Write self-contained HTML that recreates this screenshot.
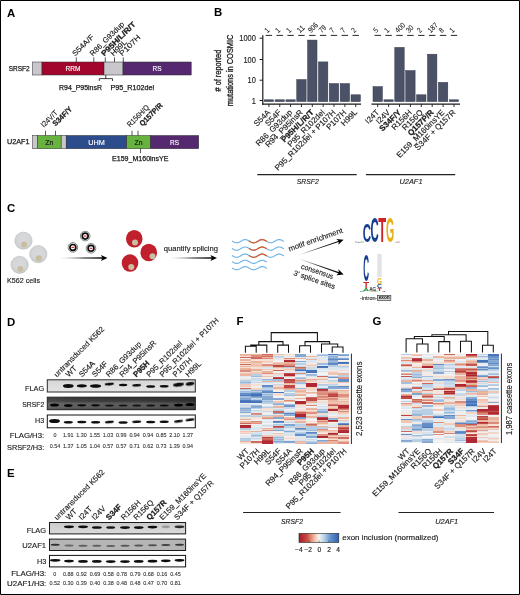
<!DOCTYPE html>
<html><head><meta charset="utf-8"><title>Figure</title>
<style>html,body{margin:0;padding:0;background:#fff;}body{width:520px;height:595px;overflow:hidden;}svg{display:block;will-change:transform;font-family:"Liberation Sans", sans-serif;}</style>
</head><body>
<svg width="520" height="595" viewBox="0 0 520 595">
<defs>
<filter id="bl" x="-30%" y="-80%" width="160%" height="260%"><feGaussianBlur stdDeviation="0.55"/></filter>
<filter id="bl2" x="-30%" y="-80%" width="160%" height="260%"><feGaussianBlur stdDeviation="0.8"/></filter>
<filter id="hb" x="0" y="0" width="100%" height="100%"><feGaussianBlur stdDeviation="0.35 0.6"/></filter>
<linearGradient id="ag" x1="0" y1="0" x2="1" y2="0"><stop offset="0" stop-color="#000" stop-opacity="0"/><stop offset="0.55" stop-color="#000" stop-opacity="0.85"/><stop offset="1" stop-color="#000" stop-opacity="1"/></linearGradient>
<radialGradient id="cg" cx="0.5" cy="0.45" r="0.55"><stop offset="0" stop-color="#d9dadc"/><stop offset="0.7" stop-color="#d3d5d7"/><stop offset="1" stop-color="#c6c8cb"/></radialGradient>
<linearGradient id="cb" x1="0" y1="0" x2="1" y2="0"><stop offset="0" stop-color="#a51a28"/><stop offset="0.2" stop-color="#c94a41"/><stop offset="0.38" stop-color="#f0b9a0"/><stop offset="0.5" stop-color="#f7f4f2"/><stop offset="0.62" stop-color="#bcd6ea"/><stop offset="0.8" stop-color="#5f8fcb"/><stop offset="1" stop-color="#2f5fb0"/></linearGradient>
<linearGradient id="dk" x1="0" y1="0" x2="0" y2="1"><stop offset="0" stop-color="#2f2f2f"/><stop offset="0.32" stop-color="#3c3c3c"/><stop offset="0.5" stop-color="#5c5c5c"/><stop offset="0.8" stop-color="#5a5a5a"/><stop offset="1" stop-color="#444"/></linearGradient>
<linearGradient id="dk2" x1="0" y1="0" x2="1" y2="0"><stop offset="0" stop-color="#fff" stop-opacity="0.08"/><stop offset="0.6" stop-color="#000" stop-opacity="0"/><stop offset="1" stop-color="#000" stop-opacity="0.18"/></linearGradient>
<linearGradient id="lg" x1="0" y1="0" x2="0" y2="1"><stop offset="0" stop-color="#d6d6d6"/><stop offset="1" stop-color="#e4e4e4"/></linearGradient>
<linearGradient id="lg2" x1="0" y1="0" x2="0" y2="1"><stop offset="0" stop-color="#cbcbcb"/><stop offset="1" stop-color="#dadada"/></linearGradient>
</defs>
<rect x="0.00" y="0.00" width="520.00" height="595.00" fill="#ffffff" />
<text x="7.00" y="16.50" font-size="11.4" font-weight="bold" fill="#000" >A</text>
<text x="214.00" y="16.40" font-size="11.4" font-weight="bold" fill="#000" >B</text>
<text x="7.00" y="211.60" font-size="11.4" font-weight="bold" fill="#000" >C</text>
<text x="7.00" y="325.60" font-size="11.4" font-weight="bold" fill="#000" >D</text>
<text x="7.00" y="476.60" font-size="11.4" font-weight="bold" fill="#000" >E</text>
<text x="236.50" y="325.30" font-size="11.4" font-weight="bold" fill="#000" >F</text>
<text x="372.50" y="325.30" font-size="11.4" font-weight="bold" fill="#000" >G</text>
<text x="8.75" y="70.60" font-size="7.3" textLength="20.80" lengthAdjust="spacingAndGlyphs" fill="#1a1a1a" stroke="#1a1a1a" stroke-width="0.25" >SRSF2</text>
<rect x="32.50" y="62.00" width="9.50" height="13.00" fill="#c9c6cc" stroke="#2a2a2a" stroke-width="0.5" />
<rect x="42.00" y="62.00" width="62.00" height="13.00" fill="#a3062c" stroke="#2a2a2a" stroke-width="0.5" />
<rect x="104.00" y="62.00" width="19.00" height="13.00" fill="#c9c6cc" stroke="#2a2a2a" stroke-width="0.5" />
<rect x="123.00" y="62.00" width="68.20" height="13.00" fill="#55286f" stroke="#2a2a2a" stroke-width="0.5" />
<text x="73.00" y="71.10" font-size="7.3" text-anchor="middle" textLength="15.00" lengthAdjust="spacingAndGlyphs" fill="#fff" stroke="#fff" stroke-width="0.14" >RRM</text>
<text x="157.00" y="71.10" font-size="7.3" text-anchor="middle" textLength="9.00" lengthAdjust="spacingAndGlyphs" fill="#fff" stroke="#fff" stroke-width="0.14" >RS</text>
<line x1="76.30" y1="57.30" x2="76.30" y2="62.00" stroke="#111" stroke-width="0.7" />
<line x1="93.80" y1="57.30" x2="93.80" y2="62.00" stroke="#111" stroke-width="0.7" />
<line x1="105.30" y1="57.30" x2="105.30" y2="62.00" stroke="#111" stroke-width="0.7" />
<line x1="114.50" y1="57.30" x2="114.50" y2="62.00" stroke="#111" stroke-width="0.7" />
<line x1="123.30" y1="57.30" x2="123.30" y2="62.00" stroke="#111" stroke-width="0.7" />
<text x="75.30" y="56.60" font-size="7.6" transform="rotate(-45 75.30 56.60)" textLength="27.00" lengthAdjust="spacingAndGlyphs" fill="#1a1a1a" stroke="#1a1a1a" stroke-width="0.14" >S54A/F</text>
<text x="92.80" y="56.60" font-size="7.6" transform="rotate(-45 92.80 56.60)" textLength="45.00" lengthAdjust="spacingAndGlyphs" fill="#1a1a1a" stroke="#1a1a1a" stroke-width="0.14" >R86_G93dup</text>
<text x="104.30" y="56.60" font-size="7.6" font-weight="bold" transform="rotate(-45 104.30 56.60)" textLength="45.00" lengthAdjust="spacingAndGlyphs" fill="#1a1a1a" stroke="#1a1a1a" stroke-width="0.25" >P95H/L/R/T</text>
<text x="113.50" y="56.60" font-size="7.6" transform="rotate(-45 113.50 56.60)" textLength="19.50" lengthAdjust="spacingAndGlyphs" fill="#1a1a1a" stroke="#1a1a1a" stroke-width="0.14" >H99L</text>
<text x="122.30" y="56.60" font-size="7.6" transform="rotate(-45 122.30 56.60)" textLength="26.50" lengthAdjust="spacingAndGlyphs" fill="#1a1a1a" stroke="#1a1a1a" stroke-width="0.14" >P107H</text>
<path d="M99.3 81 V78.6 H112.5 V81" fill="none" stroke="#111" stroke-width="0.8"/>
<line x1="105.80" y1="75.00" x2="105.80" y2="78.60" stroke="#111" stroke-width="0.8" />
<text x="59.00" y="90.30" font-size="7.0" textLength="43.00" lengthAdjust="spacingAndGlyphs" fill="#1a1a1a" stroke="#1a1a1a" stroke-width="0.25" >R94_P95insR</text>
<text x="110.50" y="90.30" font-size="7.0" textLength="43.50" lengthAdjust="spacingAndGlyphs" fill="#1a1a1a" stroke="#1a1a1a" stroke-width="0.25" >P95_R102del</text>
<text x="7.00" y="144.30" font-size="7.3" textLength="22.50" lengthAdjust="spacingAndGlyphs" fill="#1a1a1a" stroke="#1a1a1a" stroke-width="0.25" >U2AF1</text>
<rect x="32.50" y="135.50" width="5.00" height="13.20" fill="#c9c6cc" stroke="#2a2a2a" stroke-width="0.5" />
<rect x="37.50" y="135.50" width="23.70" height="13.20" fill="#68b240" stroke="#2a2a2a" stroke-width="0.5" />
<rect x="61.20" y="135.50" width="5.00" height="13.20" fill="#c9c6cc" stroke="#2a2a2a" stroke-width="0.5" />
<rect x="66.20" y="135.50" width="60.50" height="13.20" fill="#2c4c8b" stroke="#2a2a2a" stroke-width="0.5" />
<rect x="126.70" y="135.50" width="23.80" height="13.20" fill="#68b240" stroke="#2a2a2a" stroke-width="0.5" />
<rect x="150.50" y="135.50" width="48.20" height="13.20" fill="#55286f" stroke="#2a2a2a" stroke-width="0.5" />
<text x="49.30" y="144.60" font-size="7.3" text-anchor="middle" textLength="8.00" lengthAdjust="spacingAndGlyphs" fill="#111" stroke="#111" stroke-width="0.14" >Zn</text>
<text x="96.50" y="144.60" font-size="7.3" text-anchor="middle" textLength="16.50" lengthAdjust="spacingAndGlyphs" fill="#fff" stroke="#fff" stroke-width="0.14" >UHM</text>
<text x="138.50" y="144.60" font-size="7.3" text-anchor="middle" textLength="8.00" lengthAdjust="spacingAndGlyphs" fill="#111" stroke="#111" stroke-width="0.14" >Zn</text>
<text x="174.50" y="144.60" font-size="7.3" text-anchor="middle" textLength="9.00" lengthAdjust="spacingAndGlyphs" fill="#fff" stroke="#fff" stroke-width="0.14" >RS</text>
<line x1="45.50" y1="130.80" x2="45.50" y2="135.50" stroke="#111" stroke-width="0.7" />
<line x1="55.50" y1="130.80" x2="55.50" y2="135.50" stroke="#111" stroke-width="0.7" />
<line x1="132.00" y1="130.80" x2="132.00" y2="135.50" stroke="#111" stroke-width="0.7" />
<line x1="138.00" y1="130.80" x2="138.00" y2="135.50" stroke="#111" stroke-width="0.7" />
<line x1="140.50" y1="148.70" x2="140.50" y2="153.20" stroke="#111" stroke-width="0.7" />
<text x="43.80" y="127.80" font-size="7.6" transform="rotate(-45 43.80 127.80)" textLength="20.60" lengthAdjust="spacingAndGlyphs" fill="#1a1a1a" stroke="#1a1a1a" stroke-width="0.14" >I24V/T</text>
<text x="55.60" y="126.60" font-size="7.6" font-weight="bold" transform="rotate(-45 55.60 126.60)" textLength="24.00" lengthAdjust="spacingAndGlyphs" fill="#1a1a1a" stroke="#1a1a1a" stroke-width="0.25" >S34F/Y</text>
<text x="130.00" y="127.60" font-size="7.6" transform="rotate(-45 130.00 127.60)" textLength="27.80" lengthAdjust="spacingAndGlyphs" fill="#1a1a1a" stroke="#1a1a1a" stroke-width="0.14" >R156H/Q</text>
<text x="142.50" y="126.60" font-size="7.6" font-weight="bold" transform="rotate(-45 142.50 126.60)" textLength="29.20" lengthAdjust="spacingAndGlyphs" fill="#1a1a1a" stroke="#1a1a1a" stroke-width="0.25" >Q157P/R</text>
<text x="112.00" y="161.30" font-size="7.0" textLength="56.50" lengthAdjust="spacingAndGlyphs" fill="#1a1a1a" stroke="#1a1a1a" stroke-width="0.25" >E159_M160insYE</text>
<line x1="262.80" y1="35.30" x2="262.80" y2="104.70" stroke="#1a1a1a" stroke-width="1.2" />
<line x1="262.20" y1="104.10" x2="361.00" y2="104.10" stroke="#1a1a1a" stroke-width="1.1" />
<line x1="371.50" y1="104.10" x2="460.00" y2="104.10" stroke="#1a1a1a" stroke-width="1.1" />
<line x1="259.60" y1="38.20" x2="262.60" y2="38.20" stroke="#1a1a1a" stroke-width="1.0" />
<text x="255.90" y="41.25" font-size="8.4" text-anchor="end" textLength="16.60" lengthAdjust="spacingAndGlyphs" fill="#1a1a1a" stroke="#1a1a1a" stroke-width="0.14" >1000</text>
<line x1="259.60" y1="59.50" x2="262.60" y2="59.50" stroke="#1a1a1a" stroke-width="1.0" />
<text x="255.90" y="62.55" font-size="8.4" text-anchor="end" textLength="12.45" lengthAdjust="spacingAndGlyphs" fill="#1a1a1a" stroke="#1a1a1a" stroke-width="0.14" >100</text>
<line x1="259.60" y1="80.20" x2="262.60" y2="80.20" stroke="#1a1a1a" stroke-width="1.0" />
<text x="255.90" y="83.25" font-size="8.4" text-anchor="end" textLength="8.30" lengthAdjust="spacingAndGlyphs" fill="#1a1a1a" stroke="#1a1a1a" stroke-width="0.14" >10</text>
<line x1="259.60" y1="100.50" x2="262.60" y2="100.50" stroke="#1a1a1a" stroke-width="1.0" />
<text x="255.90" y="103.55" font-size="8.4" text-anchor="end" textLength="4.15" lengthAdjust="spacingAndGlyphs" fill="#1a1a1a" stroke="#1a1a1a" stroke-width="0.14" >1</text>
<text x="221.40" y="70.60" font-size="8.6" text-anchor="middle" transform="rotate(-90 221.40 70.60)" textLength="41.70" lengthAdjust="spacingAndGlyphs" fill="#1a1a1a" stroke="#1a1a1a" stroke-width="0.3" ># of reported</text>
<text x="232.60" y="70.40" font-size="8.6" text-anchor="middle" transform="rotate(-90 232.60 70.40)" textLength="71.60" lengthAdjust="spacingAndGlyphs" fill="#1a1a1a" stroke="#1a1a1a" stroke-width="0.3" >mutations in COSMIC</text>
<rect x="264.20" y="99.80" width="9.40" height="1.80" fill="#4b5166" stroke="#343848" stroke-width="0.5" />
<line x1="268.90" y1="104.10" x2="268.90" y2="107.00" stroke="#1a1a1a" stroke-width="0.9" />
<line x1="265.70" y1="35.40" x2="272.10" y2="35.40" stroke="#1a1a1a" stroke-width="0.95" />
<text x="267.50" y="33.30" font-size="7.6" transform="rotate(-45 267.50 33.30)" textLength="3.60" lengthAdjust="spacingAndGlyphs" fill="#1a1a1a" stroke="#1a1a1a" stroke-width="0.08" >1</text>
<text x="270.90" y="112.90" font-size="8" text-anchor="end" transform="rotate(-45 270.90 112.90)" fill="#1a1a1a" stroke="#1a1a1a" stroke-width="0.14" >S54A</text>
<rect x="275.05" y="99.80" width="9.40" height="1.80" fill="#4b5166" stroke="#343848" stroke-width="0.5" />
<line x1="279.75" y1="104.10" x2="279.75" y2="107.00" stroke="#1a1a1a" stroke-width="0.9" />
<line x1="276.55" y1="35.40" x2="282.95" y2="35.40" stroke="#1a1a1a" stroke-width="0.95" />
<text x="278.35" y="33.30" font-size="7.6" transform="rotate(-45 278.35 33.30)" textLength="3.60" lengthAdjust="spacingAndGlyphs" fill="#1a1a1a" stroke="#1a1a1a" stroke-width="0.08" >1</text>
<text x="281.75" y="112.90" font-size="8" text-anchor="end" transform="rotate(-45 281.75 112.90)" fill="#1a1a1a" stroke="#1a1a1a" stroke-width="0.14" >S54F</text>
<rect x="285.90" y="99.80" width="9.40" height="1.80" fill="#4b5166" stroke="#343848" stroke-width="0.5" />
<line x1="290.60" y1="104.10" x2="290.60" y2="107.00" stroke="#1a1a1a" stroke-width="0.9" />
<line x1="287.40" y1="35.40" x2="293.80" y2="35.40" stroke="#1a1a1a" stroke-width="0.95" />
<text x="289.20" y="33.30" font-size="7.6" transform="rotate(-45 289.20 33.30)" textLength="3.60" lengthAdjust="spacingAndGlyphs" fill="#1a1a1a" stroke="#1a1a1a" stroke-width="0.08" >1</text>
<text x="292.60" y="112.90" font-size="8" text-anchor="end" transform="rotate(-45 292.60 112.90)" fill="#1a1a1a" stroke="#1a1a1a" stroke-width="0.14" >R86_G93dup</text>
<rect x="296.75" y="79.55" width="9.40" height="22.05" fill="#4b5166" stroke="#343848" stroke-width="0.5" />
<line x1="301.45" y1="104.10" x2="301.45" y2="107.00" stroke="#1a1a1a" stroke-width="0.9" />
<line x1="298.25" y1="35.40" x2="304.65" y2="35.40" stroke="#1a1a1a" stroke-width="0.95" />
<text x="300.05" y="33.30" font-size="7.6" transform="rotate(-45 300.05 33.30)" textLength="7.20" lengthAdjust="spacingAndGlyphs" fill="#1a1a1a" stroke="#1a1a1a" stroke-width="0.08" >11</text>
<text x="303.45" y="112.90" font-size="8" text-anchor="end" transform="rotate(-45 303.45 112.90)" fill="#1a1a1a" stroke="#1a1a1a" stroke-width="0.14" >R94_P95insR</text>
<rect x="307.60" y="40.08" width="9.40" height="61.52" fill="#4b5166" stroke="#343848" stroke-width="0.5" />
<line x1="312.30" y1="104.10" x2="312.30" y2="107.00" stroke="#1a1a1a" stroke-width="0.9" />
<line x1="309.10" y1="35.40" x2="315.50" y2="35.40" stroke="#1a1a1a" stroke-width="0.95" />
<text x="310.90" y="33.30" font-size="7.6" transform="rotate(-45 310.90 33.30)" textLength="10.80" lengthAdjust="spacingAndGlyphs" fill="#1a1a1a" stroke="#1a1a1a" stroke-width="0.08" >906</text>
<text x="314.30" y="112.90" font-size="8" text-anchor="end" font-weight="bold" transform="rotate(-45 314.30 112.90)" fill="#1a1a1a" stroke="#1a1a1a" stroke-width="0.25" >P95H/L/R/T</text>
<rect x="318.45" y="61.91" width="9.40" height="39.69" fill="#4b5166" stroke="#343848" stroke-width="0.5" />
<line x1="323.15" y1="104.10" x2="323.15" y2="107.00" stroke="#1a1a1a" stroke-width="0.9" />
<line x1="319.95" y1="35.40" x2="326.35" y2="35.40" stroke="#1a1a1a" stroke-width="0.95" />
<text x="321.75" y="33.30" font-size="7.6" transform="rotate(-45 321.75 33.30)" textLength="7.20" lengthAdjust="spacingAndGlyphs" fill="#1a1a1a" stroke="#1a1a1a" stroke-width="0.08" >79</text>
<text x="325.15" y="112.90" font-size="8" text-anchor="end" transform="rotate(-45 325.15 112.90)" fill="#1a1a1a" stroke="#1a1a1a" stroke-width="0.14" >P95_R102del</text>
<rect x="329.30" y="83.59" width="9.40" height="18.01" fill="#4b5166" stroke="#343848" stroke-width="0.5" />
<line x1="334.00" y1="104.10" x2="334.00" y2="107.00" stroke="#1a1a1a" stroke-width="0.9" />
<line x1="330.80" y1="35.40" x2="337.20" y2="35.40" stroke="#1a1a1a" stroke-width="0.95" />
<text x="332.60" y="33.30" font-size="7.6" transform="rotate(-45 332.60 33.30)" textLength="3.60" lengthAdjust="spacingAndGlyphs" fill="#1a1a1a" stroke="#1a1a1a" stroke-width="0.08" >7</text>
<text x="336.00" y="112.90" font-size="8" text-anchor="end" transform="rotate(-45 336.00 112.90)" fill="#1a1a1a" stroke="#1a1a1a" stroke-width="0.14" >P95_R102del + P107H</text>
<rect x="340.15" y="83.59" width="9.40" height="18.01" fill="#4b5166" stroke="#343848" stroke-width="0.5" />
<line x1="344.85" y1="104.10" x2="344.85" y2="107.00" stroke="#1a1a1a" stroke-width="0.9" />
<line x1="341.65" y1="35.40" x2="348.05" y2="35.40" stroke="#1a1a1a" stroke-width="0.95" />
<text x="343.45" y="33.30" font-size="7.6" transform="rotate(-45 343.45 33.30)" textLength="3.60" lengthAdjust="spacingAndGlyphs" fill="#1a1a1a" stroke="#1a1a1a" stroke-width="0.08" >7</text>
<text x="346.85" y="112.90" font-size="8" text-anchor="end" transform="rotate(-45 346.85 112.90)" fill="#1a1a1a" stroke="#1a1a1a" stroke-width="0.14" >P107H</text>
<rect x="351.00" y="94.80" width="9.40" height="6.80" fill="#4b5166" stroke="#343848" stroke-width="0.5" />
<line x1="355.70" y1="104.10" x2="355.70" y2="107.00" stroke="#1a1a1a" stroke-width="0.9" />
<line x1="352.50" y1="35.40" x2="358.90" y2="35.40" stroke="#1a1a1a" stroke-width="0.95" />
<text x="354.30" y="33.30" font-size="7.6" transform="rotate(-45 354.30 33.30)" textLength="3.60" lengthAdjust="spacingAndGlyphs" fill="#1a1a1a" stroke="#1a1a1a" stroke-width="0.08" >2</text>
<text x="357.70" y="112.90" font-size="8" text-anchor="end" transform="rotate(-45 357.70 112.90)" fill="#1a1a1a" stroke="#1a1a1a" stroke-width="0.14" >H99L</text>
<rect x="373.00" y="86.60" width="9.40" height="15.00" fill="#4b5166" stroke="#343848" stroke-width="0.5" />
<line x1="377.70" y1="104.10" x2="377.70" y2="107.00" stroke="#1a1a1a" stroke-width="0.9" />
<line x1="374.50" y1="35.40" x2="380.90" y2="35.40" stroke="#1a1a1a" stroke-width="0.95" />
<text x="376.30" y="33.30" font-size="7.6" transform="rotate(-45 376.30 33.30)" textLength="3.60" lengthAdjust="spacingAndGlyphs" fill="#1a1a1a" stroke="#1a1a1a" stroke-width="0.08" >5</text>
<text x="379.70" y="112.90" font-size="8" text-anchor="end" transform="rotate(-45 379.70 112.90)" fill="#1a1a1a" stroke="#1a1a1a" stroke-width="0.14" >I24T</text>
<rect x="383.90" y="99.80" width="9.40" height="1.80" fill="#4b5166" stroke="#343848" stroke-width="0.5" />
<line x1="388.60" y1="104.10" x2="388.60" y2="107.00" stroke="#1a1a1a" stroke-width="0.9" />
<line x1="385.40" y1="35.40" x2="391.80" y2="35.40" stroke="#1a1a1a" stroke-width="0.95" />
<text x="387.20" y="33.30" font-size="7.6" transform="rotate(-45 387.20 33.30)" textLength="3.60" lengthAdjust="spacingAndGlyphs" fill="#1a1a1a" stroke="#1a1a1a" stroke-width="0.08" >1</text>
<text x="390.60" y="112.90" font-size="8" text-anchor="end" transform="rotate(-45 390.60 112.90)" fill="#1a1a1a" stroke="#1a1a1a" stroke-width="0.14" >I24V</text>
<rect x="394.80" y="47.40" width="9.40" height="54.20" fill="#4b5166" stroke="#343848" stroke-width="0.5" />
<line x1="399.50" y1="104.10" x2="399.50" y2="107.00" stroke="#1a1a1a" stroke-width="0.9" />
<line x1="396.30" y1="35.40" x2="402.70" y2="35.40" stroke="#1a1a1a" stroke-width="0.95" />
<text x="398.10" y="33.30" font-size="7.6" transform="rotate(-45 398.10 33.30)" textLength="10.80" lengthAdjust="spacingAndGlyphs" fill="#1a1a1a" stroke="#1a1a1a" stroke-width="0.08" >400</text>
<text x="401.50" y="112.90" font-size="8" text-anchor="end" font-weight="bold" transform="rotate(-45 401.50 112.90)" fill="#1a1a1a" stroke="#1a1a1a" stroke-width="0.25" >S34F/Y</text>
<rect x="405.70" y="70.57" width="9.40" height="31.03" fill="#4b5166" stroke="#343848" stroke-width="0.5" />
<line x1="410.40" y1="104.10" x2="410.40" y2="107.00" stroke="#1a1a1a" stroke-width="0.9" />
<line x1="407.20" y1="35.40" x2="413.60" y2="35.40" stroke="#1a1a1a" stroke-width="0.95" />
<text x="409.00" y="33.30" font-size="7.6" transform="rotate(-45 409.00 33.30)" textLength="7.20" lengthAdjust="spacingAndGlyphs" fill="#1a1a1a" stroke="#1a1a1a" stroke-width="0.08" >30</text>
<text x="412.40" y="112.90" font-size="8" text-anchor="end" transform="rotate(-45 412.40 112.90)" fill="#1a1a1a" stroke="#1a1a1a" stroke-width="0.14" >R156H</text>
<rect x="416.60" y="94.80" width="9.40" height="6.80" fill="#4b5166" stroke="#343848" stroke-width="0.5" />
<line x1="421.30" y1="104.10" x2="421.30" y2="107.00" stroke="#1a1a1a" stroke-width="0.9" />
<line x1="418.10" y1="35.40" x2="424.50" y2="35.40" stroke="#1a1a1a" stroke-width="0.95" />
<text x="419.90" y="33.30" font-size="7.6" transform="rotate(-45 419.90 33.30)" textLength="3.60" lengthAdjust="spacingAndGlyphs" fill="#1a1a1a" stroke="#1a1a1a" stroke-width="0.08" >2</text>
<text x="423.30" y="112.90" font-size="8" text-anchor="end" transform="rotate(-45 423.30 112.90)" fill="#1a1a1a" stroke="#1a1a1a" stroke-width="0.14" >R156Q</text>
<rect x="427.50" y="54.20" width="9.40" height="47.40" fill="#4b5166" stroke="#343848" stroke-width="0.5" />
<line x1="432.20" y1="104.10" x2="432.20" y2="107.00" stroke="#1a1a1a" stroke-width="0.9" />
<line x1="429.00" y1="35.40" x2="435.40" y2="35.40" stroke="#1a1a1a" stroke-width="0.95" />
<text x="430.80" y="33.30" font-size="7.6" transform="rotate(-45 430.80 33.30)" textLength="10.80" lengthAdjust="spacingAndGlyphs" fill="#1a1a1a" stroke="#1a1a1a" stroke-width="0.08" >187</text>
<text x="434.20" y="112.90" font-size="8" text-anchor="end" font-weight="bold" transform="rotate(-45 434.20 112.90)" fill="#1a1a1a" stroke="#1a1a1a" stroke-width="0.25" >Q157P/R</text>
<rect x="438.40" y="82.40" width="9.40" height="19.20" fill="#4b5166" stroke="#343848" stroke-width="0.5" />
<line x1="443.10" y1="104.10" x2="443.10" y2="107.00" stroke="#1a1a1a" stroke-width="0.9" />
<line x1="439.90" y1="35.40" x2="446.30" y2="35.40" stroke="#1a1a1a" stroke-width="0.95" />
<text x="441.70" y="33.30" font-size="7.6" transform="rotate(-45 441.70 33.30)" textLength="3.60" lengthAdjust="spacingAndGlyphs" fill="#1a1a1a" stroke="#1a1a1a" stroke-width="0.08" >8</text>
<text x="445.10" y="112.90" font-size="8" text-anchor="end" transform="rotate(-45 445.10 112.90)" fill="#1a1a1a" stroke="#1a1a1a" stroke-width="0.14" >E159_M160insYE</text>
<rect x="449.30" y="99.80" width="9.40" height="1.80" fill="#4b5166" stroke="#343848" stroke-width="0.5" />
<line x1="454.00" y1="104.10" x2="454.00" y2="107.00" stroke="#1a1a1a" stroke-width="0.9" />
<line x1="450.80" y1="35.40" x2="457.20" y2="35.40" stroke="#1a1a1a" stroke-width="0.95" />
<text x="452.60" y="33.30" font-size="7.6" transform="rotate(-45 452.60 33.30)" textLength="3.60" lengthAdjust="spacingAndGlyphs" fill="#1a1a1a" stroke="#1a1a1a" stroke-width="0.08" >1</text>
<text x="456.00" y="112.90" font-size="8" text-anchor="end" transform="rotate(-45 456.00 112.90)" fill="#1a1a1a" stroke="#1a1a1a" stroke-width="0.14" >S34F + Q157R</text>
<line x1="257.30" y1="174.60" x2="356.70" y2="174.60" stroke="#222" stroke-width="1.1" />
<line x1="365.90" y1="174.60" x2="455.20" y2="174.60" stroke="#222" stroke-width="1.1" />
<text x="307.80" y="184.30" font-size="7.6" text-anchor="middle" font-style="italic" textLength="22.00" lengthAdjust="spacingAndGlyphs" fill="#1a1a1a" stroke="#1a1a1a" stroke-width="0.14" >SRSF2</text>
<text x="411.00" y="184.30" font-size="7.6" text-anchor="middle" font-style="italic" textLength="23.00" lengthAdjust="spacingAndGlyphs" fill="#1a1a1a" stroke="#1a1a1a" stroke-width="0.14" >U2AF1</text>
<ellipse cx="23.45" cy="240.7" rx="8.7" ry="8.6" fill="url(#cg)" stroke="#b9bbbe" stroke-width="0.5"/>
<circle cx="24.1" cy="244.4" r="3" fill="#c9bda2"/>
<ellipse cx="38.3" cy="254.1" rx="8.7" ry="8.6" fill="url(#cg)" stroke="#b9bbbe" stroke-width="0.5"/>
<circle cx="38.8" cy="258.3" r="3" fill="#c9bda2"/>
<ellipse cx="19.6" cy="264.8" rx="8.7" ry="8.6" fill="url(#cg)" stroke="#b9bbbe" stroke-width="0.5"/>
<circle cx="20.3" cy="268.9" r="3" fill="#c9bda2"/>
<text x="7.00" y="282.60" font-size="7.2" textLength="33.00" lengthAdjust="spacingAndGlyphs" fill="#1a1a1a" stroke="#1a1a1a" stroke-width="0.14" >K562 cells</text>
<circle cx="85.2" cy="236.1" r="4.8" fill="#fff" stroke="#5a5a5a" stroke-width="0.75"/>
<circle cx="85.2" cy="236.1" r="2.95" fill="#fff" stroke="#0a0a0a" stroke-width="1.65"/>
<rect x="83.8" y="235.54999999999998" width="2.8" height="1.1" fill="#e0202a"/>
<circle cx="72.9" cy="247.4" r="4.8" fill="#fff" stroke="#5a5a5a" stroke-width="0.75"/>
<circle cx="72.9" cy="247.4" r="2.95" fill="#fff" stroke="#0a0a0a" stroke-width="1.65"/>
<rect x="71.5" y="246.85" width="2.8" height="1.1" fill="#e0202a"/>
<circle cx="91.0" cy="248.3" r="4.8" fill="#fff" stroke="#5a5a5a" stroke-width="0.75"/>
<circle cx="91.0" cy="248.3" r="2.95" fill="#fff" stroke="#0a0a0a" stroke-width="1.65"/>
<rect x="89.6" y="247.75" width="2.8" height="1.1" fill="#e0202a"/>
<g transform="translate(60.00 258.00) rotate(0.00)">
<path d="M0 -0.2 L43.50 -0.65 V0.65 L0 0.2 Z" fill="url(#ag)"/>
<path d="M47.50 0 L40.90 -3.1 L42.50 0 L40.90 3.1 Z" fill="#000"/>
</g>
<ellipse cx="134.25" cy="238.75" rx="8.3" ry="8.8" fill="#c0202b"/>
<circle cx="135" cy="242.5" r="3" fill="#c9bda2"/>
<ellipse cx="148.75" cy="252.5" rx="8.3" ry="8.8" fill="#c0202b"/>
<circle cx="152.5" cy="256.25" r="3" fill="#c9bda2"/>
<ellipse cx="130" cy="263" rx="8.3" ry="8.8" fill="#c0202b"/>
<circle cx="131.25" cy="267" r="3" fill="#c9bda2"/>
<text x="163.75" y="250.60" font-size="7.4" textLength="54.30" lengthAdjust="spacingAndGlyphs" fill="#1a1a1a" stroke="#1a1a1a" stroke-width="0.14" >quantify splicing</text>
<g transform="translate(170.00 258.00) rotate(0.00)">
<path d="M0 -0.2 L43.00 -0.65 V0.65 L0 0.2 Z" fill="url(#ag)"/>
<path d="M47.00 0 L40.40 -3.1 L42.00 0 L40.40 3.1 Z" fill="#000"/>
</g>
<path d="M232.40 241.20 L232.90 241.49 L233.40 241.78 L233.90 242.04 L234.40 242.28 L234.90 242.48 L235.40 242.63 L235.90 242.74 L236.40 242.79 L236.90 242.79 L237.40 242.74 L237.90 242.63 L238.40 242.48 L238.90 242.28 L239.40 242.04 L239.90 241.78 L240.40 241.49 L240.90 241.20 L241.40 240.91 L241.90 240.62 L242.40 240.36 L242.90 240.12 L243.40 239.92 L243.90 239.77 L244.40 239.66 L244.90 239.61 L245.40 239.61 L245.90 239.66 L246.40 239.77 L246.90 239.92 L247.40 240.12 L247.90 240.36 L248.40 240.62 L248.90 240.91 L249.40 241.20 L249.90 241.49 L250.40 241.78 L250.90 242.04 L251.40 242.28 L251.90 242.48 L252.40 242.63 L252.90 242.74 L253.40 242.79 L253.90 242.79 L254.40 242.74 L254.90 242.63 L255.40 242.48 L255.90 242.28 L256.40 242.04 L256.90 241.78 L257.40 241.49 L257.90 241.20 L258.40 240.91 L258.90 240.62 L259.40 240.36 L259.90 240.12 L260.40 239.92 L260.90 239.77 L261.40 239.66 L261.90 239.61 L262.40 239.61 L262.90 239.66 L263.40 239.77 L263.90 239.92 L264.40 240.12 L264.90 240.36 L265.40 240.62 L265.90 240.91 L266.40 241.20 L266.90 241.49 L267.40 241.78 L267.90 242.04 L268.40 242.28 L268.90 242.48 L269.40 242.63 L269.90 242.74 L270.40 242.79 L270.90 242.79 L271.40 242.74 L271.90 242.63 L272.40 242.48 L272.90 242.28 L273.40 242.04 L273.90 241.78 L274.40 241.49 L274.90 241.20 L275.40 240.91 L275.90 240.62 L276.40 240.36 L276.90 240.12 L277.40 239.92 L277.90 239.77 L278.40 239.66 L278.90 239.61 L279.40 239.61 L279.90 239.66 L280.40 239.77 L280.90 239.92 L281.40 240.12 L281.90 240.36 L282.40 240.62 L282.90 240.91 L283.40 241.20" fill="none" stroke="#6ab2e8" stroke-width="1.1" stroke-linecap="round"/>
<path d="M249.30 241.14 L249.80 241.44 L250.30 241.72 L250.80 241.99 L251.30 242.23 L251.80 242.44 L252.30 242.60 L252.80 242.72 L253.30 242.79 L253.80 242.80 L254.30 242.75 L254.80 242.66 L255.30 242.51 L255.80 242.32 L256.30 242.09 L256.80 241.83 L257.30 241.55 L257.80 241.26 L258.30 240.96 L258.80 240.68 L259.30 240.41 L259.80 240.17 L260.30 239.96 L260.80 239.80 L261.30 239.68 L261.80 239.61 L262.30 239.60 L262.80 239.65 L263.30 239.74 L263.80 239.89 L264.30 240.08 L264.80 240.31 L265.30 240.57 L265.80 240.85 L266.30 241.14" fill="none" stroke="#de5a2c" stroke-width="1.25" stroke-linecap="round"/>
<path d="M232.40 248.60 L232.90 248.89 L233.40 249.18 L233.90 249.44 L234.40 249.68 L234.90 249.88 L235.40 250.03 L235.90 250.14 L236.40 250.19 L236.90 250.19 L237.40 250.14 L237.90 250.03 L238.40 249.88 L238.90 249.68 L239.40 249.44 L239.90 249.18 L240.40 248.89 L240.90 248.60 L241.40 248.31 L241.90 248.02 L242.40 247.76 L242.90 247.52 L243.40 247.32 L243.90 247.17 L244.40 247.06 L244.90 247.01 L245.40 247.01 L245.90 247.06 L246.40 247.17 L246.90 247.32 L247.40 247.52 L247.90 247.76 L248.40 248.02 L248.90 248.31 L249.40 248.60 L249.90 248.89 L250.40 249.18 L250.90 249.44 L251.40 249.68 L251.90 249.88 L252.40 250.03 L252.90 250.14 L253.40 250.19 L253.90 250.19 L254.40 250.14 L254.90 250.03 L255.40 249.88 L255.90 249.68 L256.40 249.44 L256.90 249.18 L257.40 248.89 L257.90 248.60 L258.40 248.31 L258.90 248.02 L259.40 247.76 L259.90 247.52 L260.40 247.32 L260.90 247.17 L261.40 247.06 L261.90 247.01 L262.40 247.01 L262.90 247.06 L263.40 247.17 L263.90 247.32 L264.40 247.52 L264.90 247.76 L265.40 248.02 L265.90 248.31 L266.40 248.60 L266.90 248.89 L267.40 249.18 L267.90 249.44 L268.40 249.68 L268.90 249.88 L269.40 250.03 L269.90 250.14 L270.40 250.19 L270.90 250.19 L271.40 250.14 L271.90 250.03 L272.40 249.88 L272.90 249.68 L273.40 249.44 L273.90 249.18 L274.40 248.89 L274.90 248.60 L275.40 248.31 L275.90 248.02 L276.40 247.76 L276.90 247.52 L277.40 247.32 L277.90 247.17 L278.40 247.06 L278.90 247.01 L279.40 247.01 L279.90 247.06 L280.40 247.17 L280.90 247.32 L281.40 247.52 L281.90 247.76 L282.40 248.02 L282.90 248.31 L283.40 248.60" fill="none" stroke="#6ab2e8" stroke-width="1.1" stroke-linecap="round"/>
<path d="M249.30 248.54 L249.80 248.84 L250.30 249.12 L250.80 249.39 L251.30 249.63 L251.80 249.84 L252.30 250.00 L252.80 250.12 L253.30 250.19 L253.80 250.20 L254.30 250.15 L254.80 250.06 L255.30 249.91 L255.80 249.72 L256.30 249.49 L256.80 249.23 L257.30 248.95 L257.80 248.66 L258.30 248.36 L258.80 248.08 L259.30 247.81 L259.80 247.57 L260.30 247.36 L260.80 247.20 L261.30 247.08 L261.80 247.01 L262.30 247.00 L262.80 247.05 L263.30 247.14 L263.80 247.29 L264.30 247.48 L264.80 247.71 L265.30 247.97 L265.80 248.25 L266.30 248.54" fill="none" stroke="#de5a2c" stroke-width="1.25" stroke-linecap="round"/>
<path d="M232.40 255.70 L232.90 255.99 L233.40 256.28 L233.90 256.54 L234.40 256.78 L234.90 256.98 L235.40 257.13 L235.90 257.24 L236.40 257.29 L236.90 257.29 L237.40 257.24 L237.90 257.13 L238.40 256.98 L238.90 256.78 L239.40 256.54 L239.90 256.28 L240.40 255.99 L240.90 255.70 L241.40 255.41 L241.90 255.12 L242.40 254.86 L242.90 254.62 L243.40 254.42 L243.90 254.27 L244.40 254.16 L244.90 254.11 L245.40 254.11 L245.90 254.16 L246.40 254.27 L246.90 254.42 L247.40 254.62 L247.90 254.86 L248.40 255.12 L248.90 255.41 L249.40 255.70 L249.90 255.99 L250.40 256.28 L250.90 256.54 L251.40 256.78 L251.90 256.98 L252.40 257.13 L252.90 257.24 L253.40 257.29 L253.90 257.29 L254.40 257.24 L254.90 257.13 L255.40 256.98 L255.90 256.78 L256.40 256.54 L256.90 256.28 L257.40 255.99 L257.90 255.70 L258.40 255.41 L258.90 255.12 L259.40 254.86 L259.90 254.62 L260.40 254.42 L260.90 254.27 L261.40 254.16 L261.90 254.11 L262.40 254.11 L262.90 254.16 L263.40 254.27 L263.90 254.42 L264.40 254.62 L264.90 254.86 L265.40 255.12 L265.90 255.41 L266.40 255.70 L266.90 255.99 L267.40 256.28 L267.90 256.54 L268.40 256.78 L268.90 256.98 L269.40 257.13 L269.90 257.24 L270.40 257.29 L270.90 257.29 L271.40 257.24 L271.90 257.13 L272.40 256.98 L272.90 256.78 L273.40 256.54 L273.90 256.28 L274.40 255.99 L274.90 255.70 L275.40 255.41 L275.90 255.12 L276.40 254.86 L276.90 254.62 L277.40 254.42 L277.90 254.27 L278.40 254.16 L278.90 254.11 L279.40 254.11 L279.90 254.16 L280.40 254.27 L280.90 254.42 L281.40 254.62 L281.90 254.86 L282.40 255.12 L282.90 255.41 L283.40 255.70" fill="none" stroke="#6ab2e8" stroke-width="1.1" stroke-linecap="round"/>
<path d="M249.30 255.64 L249.80 255.94 L250.30 256.22 L250.80 256.49 L251.30 256.73 L251.80 256.94 L252.30 257.10 L252.80 257.22 L253.30 257.29 L253.80 257.30 L254.30 257.25 L254.80 257.16 L255.30 257.01 L255.80 256.82 L256.30 256.59 L256.80 256.33 L257.30 256.05 L257.80 255.76 L258.30 255.46 L258.80 255.18 L259.30 254.91 L259.80 254.67 L260.30 254.46 L260.80 254.30 L261.30 254.18 L261.80 254.11 L262.30 254.10 L262.80 254.15 L263.30 254.24 L263.80 254.39 L264.30 254.58 L264.80 254.81 L265.30 255.07 L265.80 255.35 L266.30 255.64" fill="none" stroke="#de5a2c" stroke-width="1.25" stroke-linecap="round"/>
<path d="M232.40 261.80 L232.90 262.09 L233.40 262.38 L233.90 262.64 L234.40 262.88 L234.90 263.08 L235.40 263.23 L235.90 263.34 L236.40 263.39 L236.90 263.39 L237.40 263.34 L237.90 263.23 L238.40 263.08 L238.90 262.88 L239.40 262.64 L239.90 262.38 L240.40 262.09 L240.90 261.80 L241.40 261.51 L241.90 261.22 L242.40 260.96 L242.90 260.72 L243.40 260.52 L243.90 260.37 L244.40 260.26 L244.90 260.21 L245.40 260.21 L245.90 260.26 L246.40 260.37 L246.90 260.52 L247.40 260.72 L247.90 260.96 L248.40 261.22 L248.90 261.51 L249.40 261.80 L249.90 262.09 L250.40 262.38 L250.90 262.64 L251.40 262.88 L251.90 263.08 L252.40 263.23 L252.90 263.34 L253.40 263.39 L253.90 263.39 L254.40 263.34 L254.90 263.23 L255.40 263.08 L255.90 262.88 L256.40 262.64 L256.90 262.38 L257.40 262.09 L257.90 261.80 L258.40 261.51 L258.90 261.22 L259.40 260.96 L259.90 260.72 L260.40 260.52 L260.90 260.37 L261.40 260.26 L261.90 260.21 L262.40 260.21 L262.90 260.26 L263.40 260.37 L263.90 260.52 L264.40 260.72 L264.90 260.96 L265.40 261.22 L265.90 261.51 L266.40 261.80" fill="none" stroke="#6ab2e8" stroke-width="1.1" stroke-linecap="round"/>
<path d="M232.40 268.20 L232.90 268.49 L233.40 268.78 L233.90 269.04 L234.40 269.28 L234.90 269.48 L235.40 269.63 L235.90 269.74 L236.40 269.79 L236.90 269.79 L237.40 269.74 L237.90 269.63 L238.40 269.48 L238.90 269.28 L239.40 269.04 L239.90 268.78 L240.40 268.49 L240.90 268.20 L241.40 267.91 L241.90 267.62 L242.40 267.36 L242.90 267.12 L243.40 266.92 L243.90 266.77 L244.40 266.66 L244.90 266.61 L245.40 266.61 L245.90 266.66 L246.40 266.77 L246.90 266.92 L247.40 267.12 L247.90 267.36 L248.40 267.62 L248.90 267.91 L249.40 268.20 L249.90 268.49 L250.40 268.78 L250.90 269.04 L251.40 269.28 L251.90 269.48 L252.40 269.63 L252.90 269.74 L253.40 269.79 L253.90 269.79 L254.40 269.74 L254.90 269.63 L255.40 269.48 L255.90 269.28 L256.40 269.04 L256.90 268.78 L257.40 268.49 L257.90 268.20 L258.40 267.91 L258.90 267.62 L259.40 267.36 L259.90 267.12 L260.40 266.92 L260.90 266.77 L261.40 266.66 L261.90 266.61 L262.40 266.61 L262.90 266.66 L263.40 266.77 L263.90 266.92 L264.40 267.12 L264.90 267.36 L265.40 267.62 L265.90 267.91 L266.40 268.20" fill="none" stroke="#6ab2e8" stroke-width="1.1" stroke-linecap="round"/>
<g transform="translate(298.10 255.25) rotate(-18.87)">
<path d="M0 -0.2 L44.08 -0.65 V0.65 L0 0.2 Z" fill="url(#ag)"/>
<path d="M48.08 0 L41.48 -3.1 L43.08 0 L41.48 3.1 Z" fill="#000"/>
</g>
<g transform="translate(298.10 258.50) rotate(19.26)">
<path d="M0 -0.2 L44.20 -0.65 V0.65 L0 0.2 Z" fill="url(#ag)"/>
<path d="M48.20 0 L41.60 -3.1 L43.20 0 L41.60 3.1 Z" fill="#000"/>
</g>
<text x="289.50" y="251.50" font-size="7.4" transform="rotate(-19.5 289.50 251.50)" textLength="57.00" lengthAdjust="spacingAndGlyphs" fill="#1a1a1a" stroke="#1a1a1a" stroke-width="0.14" >motif enrichment</text>
<text x="300.60" y="268.40" font-size="7.4" transform="rotate(18.5 300.60 268.40)" textLength="33.60" lengthAdjust="spacingAndGlyphs" fill="#1a1a1a" stroke="#1a1a1a" stroke-width="0.14" >consensus</text>
<text x="293.00" y="274.90" font-size="7.4" transform="rotate(19 293.00 274.90)" textLength="43.70" lengthAdjust="spacingAndGlyphs" fill="#1a1a1a" stroke="#1a1a1a" stroke-width="0.14" >3' splice sites</text>
<text transform="translate(362.70 242.00) scale(1.150 2.548)" x="0" y="0" font-size="10" font-weight="bold" fill="#173f8f">C</text>
<text transform="translate(370.60 242.00) scale(1.136 3.425)" x="0" y="0" font-size="10" font-weight="bold" fill="#173f8f">C</text>
<text transform="translate(378.30 242.00) scale(1.293 3.425)" x="0" y="0" font-size="10" font-weight="bold" fill="#d2232a">T</text>
<text transform="translate(386.00 242.00) scale(1.054 3.425)" x="0" y="0" font-size="10" font-weight="bold" fill="#e8b014">G</text>
<rect x="355.00" y="241.72" width="1.30" height="0.60" fill="#d2232a" />
<rect x="356.50" y="241.78" width="1.30" height="0.60" fill="#2a9a3a" />
<rect x="358.00" y="241.91" width="1.30" height="0.60" fill="#173f8f" />
<rect x="359.50" y="241.90" width="1.30" height="0.60" fill="#2a9a3a" />
<rect x="361.00" y="241.73" width="1.30" height="0.60" fill="#d2232a" />
<rect x="362.50" y="241.70" width="1.30" height="0.60" fill="#2a9a3a" />
<rect x="395.50" y="241.87" width="1.30" height="0.60" fill="#2a9a3a" />
<rect x="397.00" y="241.80" width="1.30" height="0.60" fill="#d2232a" />
<rect x="398.50" y="241.72" width="1.30" height="0.60" fill="#d2232a" />
<text transform="translate(363.30 281.40) scale(0.803 3.753)" x="0" y="0" font-size="10" font-weight="bold" fill="#173f8f">C</text>
<text transform="translate(363.30 288.00) scale(0.949 0.904)" x="0" y="0" font-size="10" font-weight="bold" fill="#d2232a">T</text>
<text transform="translate(363.30 291.00) scale(0.803 0.411)" x="0" y="0" font-size="10" font-weight="bold" fill="#2a9a3a">A</text>
<text x="369.60" y="290.60" font-size="4.6" textLength="6.40" lengthAdjust="spacingAndGlyphs" fill="#111" stroke="#111" stroke-width="0.14" >AG</text>
<rect x="377.30" y="254.00" width="4.40" height="23.00" fill="#e3e3e5" />
<text transform="translate(377.00 284.00) scale(0.643 0.959)" x="0" y="0" font-size="10" font-weight="bold" fill="#e8b014">G</text>
<text transform="translate(377.00 288.00) scale(0.693 0.548)" x="0" y="0" font-size="10" font-weight="bold" fill="#173f8f">C</text>
<text transform="translate(377.00 291.00) scale(0.818 0.411)" x="0" y="0" font-size="10" font-weight="bold" fill="#d2232a">T</text>
<rect x="360.00" y="291.03" width="1.30" height="0.60" fill="#2a9a3a" />
<rect x="361.50" y="290.97" width="1.30" height="0.60" fill="#173f8f" />
<rect x="363.00" y="290.68" width="1.30" height="0.60" fill="#173f8f" />
<rect x="370.50" y="290.75" width="1.30" height="0.60" fill="#173f8f" />
<rect x="372.00" y="291.01" width="1.30" height="0.60" fill="#e8b014" />
<rect x="373.50" y="290.84" width="1.30" height="0.60" fill="#2a9a3a" />
<rect x="375.00" y="290.96" width="1.30" height="0.60" fill="#2a9a3a" />
<rect x="376.50" y="290.80" width="1.30" height="0.60" fill="#2a9a3a" />
<rect x="382.50" y="291.08" width="1.30" height="0.60" fill="#d2232a" />
<rect x="384.00" y="291.04" width="1.30" height="0.60" fill="#173f8f" />
<text x="360.00" y="299.50" font-size="4.8" textLength="17.30" lengthAdjust="spacingAndGlyphs" fill="#333" stroke="#333" stroke-width="0.14" >-intron-</text>
<rect x="377.60" y="295.40" width="13.20" height="5.00" fill="#d0d0d0" stroke="#444" stroke-width="0.7" />
<text x="384.20" y="299.40" font-size="4.6" text-anchor="middle" font-weight="bold" textLength="11.00" lengthAdjust="spacingAndGlyphs" fill="#222" >exon</text>
<rect x="47.30" y="379.80" width="148.00" height="12.20" fill="url(#lg)" stroke="#2a2a2a" stroke-width="1.0" />
<rect x="47.30" y="397.20" width="148.00" height="12.50" fill="url(#dk)" stroke="#1a1a1a" stroke-width="1.0" />
<rect x="47.3" y="397.2" width="148.00" height="12.5" fill="url(#dk2)"/>
<rect x="47.30" y="415.00" width="148.00" height="12.80" fill="#fcfcfc" stroke="#111" stroke-width="1.0" />
<text x="44.20" y="390.80" font-size="8.0" text-anchor="end" textLength="19.30" lengthAdjust="spacingAndGlyphs" fill="#1a1a1a" stroke="#1a1a1a" stroke-width="0.14" >FLAG</text>
<text x="44.20" y="406.90" font-size="8.0" text-anchor="end" textLength="22.00" lengthAdjust="spacingAndGlyphs" fill="#1a1a1a" stroke="#1a1a1a" stroke-width="0.14" >SRSF2</text>
<text x="44.20" y="422.50" font-size="8.0" text-anchor="end" textLength="9.20" lengthAdjust="spacingAndGlyphs" fill="#1a1a1a" stroke="#1a1a1a" stroke-width="0.14" >H3</text>
<text x="44.20" y="438.20" font-size="7.6" text-anchor="end" textLength="34.50" lengthAdjust="spacingAndGlyphs" fill="#1a1a1a" stroke="#1a1a1a" stroke-width="0.14" >FLAG/H3:</text>
<text x="44.20" y="449.80" font-size="7.6" text-anchor="end" textLength="37.20" lengthAdjust="spacingAndGlyphs" fill="#1a1a1a" stroke="#1a1a1a" stroke-width="0.14" >SRSF2/H3:</text>
<ellipse cx="68.30" cy="386.00" rx="5.30" ry="1.95" fill="#0a0a0a" opacity="1.0" filter="url(#bl)"/>
<ellipse cx="81.80" cy="385.80" rx="5.00" ry="1.65" fill="#0a0a0a" opacity="1.0" filter="url(#bl)"/>
<ellipse cx="95.60" cy="386.00" rx="5.60" ry="1.85" fill="#0a0a0a" opacity="1.0" filter="url(#bl)"/>
<ellipse cx="109.40" cy="384.10" rx="4.80" ry="1.40" fill="#0a0a0a" opacity="1.0" filter="url(#bl)" transform="rotate(-5 109.40 384.10)"/>
<ellipse cx="123.10" cy="385.00" rx="4.20" ry="1.20" fill="#0a0a0a" opacity="1.0" filter="url(#bl)"/>
<ellipse cx="136.70" cy="385.30" rx="4.50" ry="1.30" fill="#0a0a0a" opacity="1.0" filter="url(#bl)" transform="rotate(-3 136.70 385.30)"/>
<ellipse cx="150.70" cy="386.50" rx="4.50" ry="1.30" fill="#0a0a0a" opacity="1.0" filter="url(#bl)"/>
<ellipse cx="164.20" cy="386.20" rx="4.50" ry="1.30" fill="#0a0a0a" opacity="1.0" filter="url(#bl)"/>
<ellipse cx="178.50" cy="384.60" rx="5.60" ry="1.85" fill="#0a0a0a" opacity="1.0" filter="url(#bl)" transform="rotate(-7 178.50 384.60)"/>
<ellipse cx="190.00" cy="383.80" rx="4.40" ry="1.75" fill="#0a0a0a" opacity="1.0" filter="url(#bl)" transform="rotate(-8 190.00 383.80)"/>
<ellipse cx="54.50" cy="404.90" rx="4.40" ry="1.50" fill="#000" opacity="1" filter="url(#bl)"/>
<ellipse cx="54.50" cy="421.00" rx="5.40" ry="2.00" fill="#0a0a0a" opacity="1.0" filter="url(#bl)"/>
<ellipse cx="68.30" cy="405.60" rx="4.40" ry="1.40" fill="#000" opacity="1" filter="url(#bl)"/>
<ellipse cx="68.30" cy="422.30" rx="4.60" ry="1.25" fill="#0a0a0a" opacity="1.0" filter="url(#bl)"/>
<ellipse cx="81.80" cy="405.30" rx="4.40" ry="1.10" fill="#000" opacity="0.92" filter="url(#bl)"/>
<ellipse cx="81.80" cy="421.90" rx="4.60" ry="1.25" fill="#0a0a0a" opacity="1.0" filter="url(#bl)"/>
<ellipse cx="95.60" cy="405.30" rx="4.40" ry="1.15" fill="#000" opacity="0.92" filter="url(#bl)"/>
<ellipse cx="95.60" cy="422.30" rx="4.60" ry="1.25" fill="#0a0a0a" opacity="1.0" filter="url(#bl)"/>
<ellipse cx="109.40" cy="405.40" rx="4.40" ry="1.00" fill="#000" opacity="0.8" filter="url(#bl)"/>
<ellipse cx="109.40" cy="422.00" rx="4.60" ry="1.25" fill="#0a0a0a" opacity="1.0" filter="url(#bl)" transform="rotate(-5 109.40 422.00)"/>
<ellipse cx="123.10" cy="405.50" rx="4.40" ry="1.00" fill="#000" opacity="0.75" filter="url(#bl)"/>
<ellipse cx="123.10" cy="422.40" rx="4.60" ry="1.25" fill="#0a0a0a" opacity="1.0" filter="url(#bl)"/>
<ellipse cx="136.70" cy="405.50" rx="4.40" ry="1.00" fill="#000" opacity="0.8" filter="url(#bl)"/>
<ellipse cx="136.70" cy="421.70" rx="4.60" ry="1.25" fill="#0a0a0a" opacity="1.0" filter="url(#bl)" transform="rotate(-3 136.70 421.70)"/>
<ellipse cx="150.70" cy="405.50" rx="4.40" ry="1.00" fill="#000" opacity="0.8" filter="url(#bl)"/>
<ellipse cx="150.70" cy="422.00" rx="4.60" ry="1.25" fill="#0a0a0a" opacity="1.0" filter="url(#bl)"/>
<ellipse cx="164.20" cy="405.50" rx="4.40" ry="1.10" fill="#000" opacity="0.85" filter="url(#bl)"/>
<ellipse cx="164.20" cy="421.80" rx="4.60" ry="1.25" fill="#0a0a0a" opacity="1.0" filter="url(#bl)"/>
<ellipse cx="178.50" cy="405.20" rx="4.40" ry="1.40" fill="#000" opacity="1" filter="url(#bl)"/>
<ellipse cx="178.50" cy="421.20" rx="4.60" ry="1.25" fill="#0a0a0a" opacity="1.0" filter="url(#bl)" transform="rotate(-7 178.50 421.20)"/>
<ellipse cx="190.00" cy="404.50" rx="4.40" ry="1.50" fill="#000" opacity="1" filter="url(#bl)"/>
<ellipse cx="190.00" cy="419.80" rx="4.60" ry="1.25" fill="#0a0a0a" opacity="1.0" filter="url(#bl)" transform="rotate(-8 190.00 419.80)"/>
<text x="54.90" y="437.10" font-size="5.4" text-anchor="middle" fill="#333" stroke="#333" stroke-width="0.1" >0</text>
<text x="54.90" y="447.90" font-size="5.4" text-anchor="middle" fill="#333" stroke="#333" stroke-width="0.1" >0.54</text>
<text x="68.19" y="437.10" font-size="5.4" text-anchor="middle" fill="#333" stroke="#333" stroke-width="0.1" >1.91</text>
<text x="68.19" y="447.90" font-size="5.4" text-anchor="middle" fill="#333" stroke="#333" stroke-width="0.1" >1.37</text>
<text x="81.48" y="437.10" font-size="5.4" text-anchor="middle" fill="#333" stroke="#333" stroke-width="0.1" >1.30</text>
<text x="81.48" y="447.90" font-size="5.4" text-anchor="middle" fill="#333" stroke="#333" stroke-width="0.1" >1.05</text>
<text x="94.77" y="437.10" font-size="5.4" text-anchor="middle" fill="#333" stroke="#333" stroke-width="0.1" >1.55</text>
<text x="94.77" y="447.90" font-size="5.4" text-anchor="middle" fill="#333" stroke="#333" stroke-width="0.1" >1.04</text>
<text x="108.06" y="437.10" font-size="5.4" text-anchor="middle" fill="#333" stroke="#333" stroke-width="0.1" >1.03</text>
<text x="108.06" y="447.90" font-size="5.4" text-anchor="middle" fill="#333" stroke="#333" stroke-width="0.1" >0.57</text>
<text x="121.35" y="437.10" font-size="5.4" text-anchor="middle" fill="#333" stroke="#333" stroke-width="0.1" >0.99</text>
<text x="121.35" y="447.90" font-size="5.4" text-anchor="middle" fill="#333" stroke="#333" stroke-width="0.1" >0.57</text>
<text x="134.64" y="437.10" font-size="5.4" text-anchor="middle" fill="#333" stroke="#333" stroke-width="0.1" >0.94</text>
<text x="134.64" y="447.90" font-size="5.4" text-anchor="middle" fill="#333" stroke="#333" stroke-width="0.1" >0.71</text>
<text x="147.93" y="437.10" font-size="5.4" text-anchor="middle" fill="#333" stroke="#333" stroke-width="0.1" >0.94</text>
<text x="147.93" y="447.90" font-size="5.4" text-anchor="middle" fill="#333" stroke="#333" stroke-width="0.1" >0.62</text>
<text x="161.22" y="437.10" font-size="5.4" text-anchor="middle" fill="#333" stroke="#333" stroke-width="0.1" >0.85</text>
<text x="161.22" y="447.90" font-size="5.4" text-anchor="middle" fill="#333" stroke="#333" stroke-width="0.1" >0.73</text>
<text x="174.51" y="437.10" font-size="5.4" text-anchor="middle" fill="#333" stroke="#333" stroke-width="0.1" >2.10</text>
<text x="174.51" y="447.90" font-size="5.4" text-anchor="middle" fill="#333" stroke="#333" stroke-width="0.1" >1.39</text>
<text x="187.80" y="437.10" font-size="5.4" text-anchor="middle" fill="#333" stroke="#333" stroke-width="0.1" >1.37</text>
<text x="187.80" y="447.90" font-size="5.4" text-anchor="middle" fill="#333" stroke="#333" stroke-width="0.1" >0.94</text>
<text x="56.90" y="377.50" font-size="7.8" transform="rotate(-45 56.90 377.50)" fill="#1a1a1a" stroke="#1a1a1a" stroke-width="0.14" >untransduced K562</text>
<text x="68.80" y="377.50" font-size="7.8" transform="rotate(-45 68.80 377.50)" fill="#1a1a1a" stroke="#1a1a1a" stroke-width="0.14" >WT</text>
<text x="81.90" y="377.50" font-size="7.8" transform="rotate(-45 81.90 377.50)" fill="#1a1a1a" stroke="#1a1a1a" stroke-width="0.14" >S54A</text>
<text x="95.00" y="377.50" font-size="7.8" transform="rotate(-45 95.00 377.50)" fill="#1a1a1a" stroke="#1a1a1a" stroke-width="0.14" >S54F</text>
<text x="108.90" y="377.50" font-size="7.8" transform="rotate(-45 108.90 377.50)" fill="#1a1a1a" stroke="#1a1a1a" stroke-width="0.14" >R86_G93dup</text>
<text x="122.60" y="377.50" font-size="7.8" transform="rotate(-45 122.60 377.50)" fill="#1a1a1a" stroke="#1a1a1a" stroke-width="0.14" >R94_P95insR</text>
<text x="136.30" y="377.50" font-size="7.8" font-weight="bold" transform="rotate(-45 136.30 377.50)" fill="#1a1a1a" stroke="#1a1a1a" stroke-width="0.25" >P95H</text>
<text x="149.40" y="377.50" font-size="7.8" transform="rotate(-45 149.40 377.50)" fill="#1a1a1a" stroke="#1a1a1a" stroke-width="0.14" >P95_R102del</text>
<text x="162.70" y="377.50" font-size="7.8" transform="rotate(-45 162.70 377.50)" fill="#1a1a1a" stroke="#1a1a1a" stroke-width="0.14" >P95_R102del + P107H</text>
<text x="175.80" y="377.50" font-size="7.8" transform="rotate(-45 175.80 377.50)" fill="#1a1a1a" stroke="#1a1a1a" stroke-width="0.14" >P107H</text>
<text x="188.60" y="377.50" font-size="7.8" transform="rotate(-45 188.60 377.50)" fill="#1a1a1a" stroke="#1a1a1a" stroke-width="0.14" >H99L</text>
<rect x="49.50" y="522.50" width="136.10" height="11.40" fill="url(#lg2)" stroke="#1a1a1a" stroke-width="1.0" />
<rect x="49.50" y="539.10" width="136.10" height="11.40" fill="#b5b5b5" stroke="#1a1a1a" stroke-width="1.0" />
<rect x="49.50" y="555.40" width="136.10" height="11.50" fill="#fcfcfc" stroke="#111" stroke-width="1.0" />
<text x="46.10" y="533.20" font-size="8.0" text-anchor="end" textLength="19.40" lengthAdjust="spacingAndGlyphs" fill="#1a1a1a" stroke="#1a1a1a" stroke-width="0.14" >FLAG</text>
<text x="46.10" y="547.90" font-size="8.0" text-anchor="end" textLength="23.80" lengthAdjust="spacingAndGlyphs" fill="#1a1a1a" stroke="#1a1a1a" stroke-width="0.14" >U2AF1</text>
<text x="46.30" y="564.10" font-size="8.0" text-anchor="end" textLength="9.30" lengthAdjust="spacingAndGlyphs" fill="#1a1a1a" stroke="#1a1a1a" stroke-width="0.14" >H3</text>
<text x="46.30" y="575.90" font-size="7.6" text-anchor="end" textLength="35.00" lengthAdjust="spacingAndGlyphs" fill="#1a1a1a" stroke="#1a1a1a" stroke-width="0.14" >FLAG/H3:</text>
<text x="46.30" y="586.00" font-size="7.6" text-anchor="end" textLength="39.30" lengthAdjust="spacingAndGlyphs" fill="#1a1a1a" stroke="#1a1a1a" stroke-width="0.14" >U2AF1/H3:</text>
<ellipse cx="69.00" cy="526.80" rx="5.10" ry="1.35" fill="#0a0a0a" opacity="1" filter="url(#bl)"/>
<ellipse cx="83.00" cy="526.80" rx="5.00" ry="1.35" fill="#0a0a0a" opacity="1" filter="url(#bl)"/>
<ellipse cx="96.80" cy="527.50" rx="5.00" ry="1.35" fill="#0a0a0a" opacity="1" filter="url(#bl)"/>
<ellipse cx="110.70" cy="527.50" rx="4.50" ry="1.35" fill="#0a0a0a" opacity="0.95" filter="url(#bl)"/>
<ellipse cx="125.00" cy="527.60" rx="5.00" ry="1.35" fill="#0a0a0a" opacity="1" filter="url(#bl)"/>
<ellipse cx="138.70" cy="527.60" rx="4.90" ry="1.35" fill="#0a0a0a" opacity="1" filter="url(#bl)"/>
<ellipse cx="152.50" cy="527.10" rx="4.90" ry="1.35" fill="#0a0a0a" opacity="1" filter="url(#bl)"/>
<ellipse cx="165.80" cy="526.80" rx="4.10" ry="1.35" fill="#0a0a0a" opacity="0.28" filter="url(#bl)"/>
<ellipse cx="179.50" cy="526.80" rx="4.90" ry="1.35" fill="#0a0a0a" opacity="0.85" filter="url(#bl)"/>
<ellipse cx="55.20" cy="544.80" rx="4.50" ry="1.00" fill="#1a1a1a" opacity="0.85" filter="url(#bl)"/>
<ellipse cx="55.20" cy="560.30" rx="5.25" ry="1.40" fill="#0a0a0a" opacity="1.0" filter="url(#bl)"/>
<ellipse cx="69.00" cy="545.60" rx="4.50" ry="1.00" fill="#1a1a1a" opacity="0.5" filter="url(#bl)"/>
<ellipse cx="69.00" cy="561.10" rx="4.90" ry="1.40" fill="#0a0a0a" opacity="1.0" filter="url(#bl)"/>
<ellipse cx="83.00" cy="545.80" rx="4.50" ry="1.00" fill="#1a1a1a" opacity="0.55" filter="url(#bl)"/>
<ellipse cx="83.00" cy="561.40" rx="4.90" ry="1.40" fill="#0a0a0a" opacity="1.0" filter="url(#bl)"/>
<ellipse cx="96.80" cy="545.80" rx="4.50" ry="1.00" fill="#1a1a1a" opacity="0.55" filter="url(#bl)"/>
<ellipse cx="96.80" cy="561.40" rx="4.90" ry="1.40" fill="#0a0a0a" opacity="1.0" filter="url(#bl)"/>
<ellipse cx="110.70" cy="545.90" rx="4.50" ry="1.00" fill="#1a1a1a" opacity="0.55" filter="url(#bl)"/>
<ellipse cx="110.70" cy="561.60" rx="4.90" ry="1.40" fill="#0a0a0a" opacity="1.0" filter="url(#bl)"/>
<ellipse cx="125.00" cy="545.80" rx="4.50" ry="1.00" fill="#1a1a1a" opacity="0.6" filter="url(#bl)"/>
<ellipse cx="125.00" cy="561.60" rx="4.90" ry="1.40" fill="#0a0a0a" opacity="1.0" filter="url(#bl)"/>
<ellipse cx="138.70" cy="545.60" rx="4.50" ry="1.00" fill="#1a1a1a" opacity="0.62" filter="url(#bl)"/>
<ellipse cx="138.70" cy="561.40" rx="4.90" ry="1.40" fill="#0a0a0a" opacity="1.0" filter="url(#bl)"/>
<ellipse cx="152.50" cy="545.30" rx="4.50" ry="1.00" fill="#1a1a1a" opacity="0.65" filter="url(#bl)"/>
<ellipse cx="152.50" cy="561.20" rx="4.90" ry="1.40" fill="#0a0a0a" opacity="1.0" filter="url(#bl)"/>
<ellipse cx="165.80" cy="544.90" rx="4.50" ry="1.00" fill="#1a1a1a" opacity="0.75" filter="url(#bl)"/>
<ellipse cx="165.80" cy="560.80" rx="4.90" ry="1.40" fill="#0a0a0a" opacity="1.0" filter="url(#bl)"/>
<ellipse cx="179.50" cy="544.70" rx="4.50" ry="1.00" fill="#1a1a1a" opacity="0.82" filter="url(#bl)"/>
<ellipse cx="179.50" cy="560.30" rx="4.90" ry="1.40" fill="#0a0a0a" opacity="1.0" filter="url(#bl)"/>
<text x="54.80" y="575.70" font-size="5.4" text-anchor="middle" fill="#333" stroke="#333" stroke-width="0.1" >0</text>
<text x="54.80" y="585.40" font-size="5.4" text-anchor="middle" fill="#333" stroke="#333" stroke-width="0.1" >0.52</text>
<text x="68.20" y="575.70" font-size="5.4" text-anchor="middle" fill="#333" stroke="#333" stroke-width="0.1" >0.88</text>
<text x="68.20" y="585.40" font-size="5.4" text-anchor="middle" fill="#333" stroke="#333" stroke-width="0.1" >0.30</text>
<text x="81.60" y="575.70" font-size="5.4" text-anchor="middle" fill="#333" stroke="#333" stroke-width="0.1" >0.92</text>
<text x="81.60" y="585.40" font-size="5.4" text-anchor="middle" fill="#333" stroke="#333" stroke-width="0.1" >0.39</text>
<text x="95.00" y="575.70" font-size="5.4" text-anchor="middle" fill="#333" stroke="#333" stroke-width="0.1" >0.69</text>
<text x="95.00" y="585.40" font-size="5.4" text-anchor="middle" fill="#333" stroke="#333" stroke-width="0.1" >0.40</text>
<text x="108.40" y="575.70" font-size="5.4" text-anchor="middle" fill="#333" stroke="#333" stroke-width="0.1" >0.58</text>
<text x="108.40" y="585.40" font-size="5.4" text-anchor="middle" fill="#333" stroke="#333" stroke-width="0.1" >0.38</text>
<text x="121.80" y="575.70" font-size="5.4" text-anchor="middle" fill="#333" stroke="#333" stroke-width="0.1" >0.78</text>
<text x="121.80" y="585.40" font-size="5.4" text-anchor="middle" fill="#333" stroke="#333" stroke-width="0.1" >0.48</text>
<text x="135.20" y="575.70" font-size="5.4" text-anchor="middle" fill="#333" stroke="#333" stroke-width="0.1" >0.79</text>
<text x="135.20" y="585.40" font-size="5.4" text-anchor="middle" fill="#333" stroke="#333" stroke-width="0.1" >0.48</text>
<text x="148.60" y="575.70" font-size="5.4" text-anchor="middle" fill="#333" stroke="#333" stroke-width="0.1" >0.68</text>
<text x="148.60" y="585.40" font-size="5.4" text-anchor="middle" fill="#333" stroke="#333" stroke-width="0.1" >0.47</text>
<text x="162.00" y="575.70" font-size="5.4" text-anchor="middle" fill="#333" stroke="#333" stroke-width="0.1" >0.16</text>
<text x="162.00" y="585.40" font-size="5.4" text-anchor="middle" fill="#333" stroke="#333" stroke-width="0.1" >0.70</text>
<text x="175.40" y="575.70" font-size="5.4" text-anchor="middle" fill="#333" stroke="#333" stroke-width="0.1" >0.45</text>
<text x="175.40" y="585.40" font-size="5.4" text-anchor="middle" fill="#333" stroke="#333" stroke-width="0.1" >0.81</text>
<text x="57.20" y="520.50" font-size="7.8" transform="rotate(-45 57.20 520.50)" fill="#1a1a1a" stroke="#1a1a1a" stroke-width="0.14" >untransduced K562</text>
<text x="68.90" y="520.50" font-size="7.8" transform="rotate(-45 68.90 520.50)" fill="#1a1a1a" stroke="#1a1a1a" stroke-width="0.14" >WT</text>
<text x="81.70" y="520.50" font-size="7.8" transform="rotate(-45 81.70 520.50)" fill="#1a1a1a" stroke="#1a1a1a" stroke-width="0.14" >I24T</text>
<text x="94.80" y="520.50" font-size="7.8" transform="rotate(-45 94.80 520.50)" fill="#1a1a1a" stroke="#1a1a1a" stroke-width="0.14" >I24V</text>
<text x="109.00" y="520.50" font-size="7.8" font-weight="bold" transform="rotate(-45 109.00 520.50)" fill="#1a1a1a" stroke="#1a1a1a" stroke-width="0.25" >S34F</text>
<text x="124.00" y="520.50" font-size="7.8" transform="rotate(-45 124.00 520.50)" fill="#1a1a1a" stroke="#1a1a1a" stroke-width="0.14" >R156H</text>
<text x="136.50" y="520.50" font-size="7.8" transform="rotate(-45 136.50 520.50)" fill="#1a1a1a" stroke="#1a1a1a" stroke-width="0.14" >R156Q</text>
<text x="149.60" y="520.50" font-size="7.8" font-weight="bold" transform="rotate(-45 149.60 520.50)" fill="#1a1a1a" stroke="#1a1a1a" stroke-width="0.25" >Q157R</text>
<text x="162.60" y="520.50" font-size="7.8" transform="rotate(-45 162.60 520.50)" fill="#1a1a1a" stroke="#1a1a1a" stroke-width="0.14" >E159_M160insYE</text>
<text x="177.20" y="520.50" font-size="7.8" transform="rotate(-45 177.20 520.50)" fill="#1a1a1a" stroke="#1a1a1a" stroke-width="0.14" >S34F + Q157R</text>
<g filter="url(#hb)" shape-rendering="crispEdges">
<rect x="240.20" y="353.80" width="109.20" height="90.00" fill="#eee"/>
<rect x="240.20" y="353.80" width="10.97" height="1.05" fill="#eab39d"/>
<rect x="240.20" y="354.80" width="10.97" height="1.05" fill="#efb8a2"/>
<rect x="240.20" y="355.80" width="10.97" height="1.05" fill="#f5dfd3"/>
<rect x="240.20" y="356.80" width="10.97" height="1.05" fill="#ce685c"/>
<rect x="240.20" y="357.80" width="10.97" height="1.05" fill="#f2f0f0"/>
<rect x="240.20" y="358.80" width="10.97" height="0.55" fill="#f2f0f0"/>
<rect x="240.20" y="359.30" width="10.97" height="1.05" fill="#ebb49e"/>
<rect x="240.20" y="360.30" width="10.97" height="0.25" fill="#ebb49e"/>
<rect x="240.20" y="360.50" width="10.97" height="1.05" fill="#f5dfd3"/>
<rect x="240.20" y="361.50" width="10.97" height="0.15" fill="#f5dfd3"/>
<rect x="240.20" y="361.60" width="10.97" height="1.05" fill="#ebb49e"/>
<rect x="240.20" y="362.60" width="10.97" height="0.25" fill="#ebb49e"/>
<rect x="240.20" y="362.80" width="10.97" height="1.05" fill="#f5dfd3"/>
<rect x="240.20" y="363.80" width="10.97" height="1.05" fill="#ce685c"/>
<rect x="240.20" y="364.80" width="10.97" height="1.05" fill="#f5dfd3"/>
<rect x="240.20" y="365.80" width="10.97" height="0.25" fill="#f5dfd3"/>
<rect x="240.20" y="366.00" width="10.97" height="1.05" fill="#ebb49e"/>
<rect x="240.20" y="367.00" width="10.97" height="0.25" fill="#ebb49e"/>
<rect x="240.20" y="367.20" width="10.97" height="1.05" fill="#f5dfd3"/>
<rect x="240.20" y="368.20" width="10.97" height="0.15" fill="#f5dfd3"/>
<rect x="240.20" y="368.30" width="10.97" height="1.05" fill="#ebb49e"/>
<rect x="240.20" y="369.30" width="10.97" height="1.05" fill="#e7b09a"/>
<rect x="240.20" y="370.30" width="10.97" height="1.05" fill="#dc8e7d"/>
<rect x="240.20" y="371.30" width="10.97" height="0.55" fill="#dc8e7d"/>
<rect x="240.20" y="371.80" width="10.97" height="1.05" fill="#f6e0d4"/>
<rect x="240.20" y="372.80" width="10.97" height="1.05" fill="#ebc3b1"/>
<rect x="240.20" y="373.80" width="10.97" height="1.05" fill="#ebb49e"/>
<rect x="240.20" y="374.80" width="10.97" height="1.05" fill="#ecb59f"/>
<rect x="240.20" y="375.80" width="10.97" height="1.05" fill="#e6eaef"/>
<rect x="240.20" y="376.80" width="10.97" height="1.05" fill="#eaeef2"/>
<rect x="240.20" y="377.80" width="10.97" height="1.05" fill="#e9edf1"/>
<rect x="240.20" y="378.80" width="10.97" height="1.05" fill="#eae0db"/>
<rect x="240.20" y="379.80" width="10.97" height="1.05" fill="#b8d0e6"/>
<rect x="240.20" y="380.80" width="10.97" height="1.05" fill="#b6cee4"/>
<rect x="240.20" y="381.80" width="10.97" height="1.05" fill="#99b7d9"/>
<rect x="240.20" y="382.80" width="10.97" height="1.05" fill="#b7cfe5"/>
<rect x="240.20" y="383.80" width="10.97" height="1.05" fill="#eecabb"/>
<rect x="240.20" y="384.80" width="10.97" height="1.05" fill="#f0cdbe"/>
<rect x="240.20" y="385.80" width="10.97" height="1.05" fill="#eecbbc"/>
<rect x="240.20" y="386.80" width="10.97" height="1.05" fill="#f2e6e0"/>
<rect x="240.20" y="387.80" width="10.97" height="1.05" fill="#ce685c"/>
<rect x="240.20" y="388.80" width="10.97" height="0.55" fill="#ce685c"/>
<rect x="240.20" y="389.30" width="10.97" height="1.05" fill="#b6cee4"/>
<rect x="240.20" y="390.30" width="10.97" height="1.05" fill="#d0e0ef"/>
<rect x="240.20" y="391.30" width="10.97" height="0.55" fill="#a0bee0"/>
<rect x="240.20" y="391.80" width="10.97" height="1.05" fill="#a6c3e2"/>
<rect x="240.20" y="392.80" width="10.97" height="1.05" fill="#648cc6"/>
<rect x="240.20" y="393.80" width="10.97" height="1.05" fill="#688fc6"/>
<rect x="240.20" y="394.80" width="10.97" height="1.05" fill="#4c78be"/>
<rect x="240.20" y="395.80" width="10.97" height="0.55" fill="#668dc4"/>
<rect x="240.20" y="396.30" width="10.97" height="1.05" fill="#9fbcdd"/>
<rect x="240.20" y="397.30" width="10.97" height="0.55" fill="#9fbcdd"/>
<rect x="240.20" y="397.80" width="10.97" height="1.05" fill="#81a4cf"/>
<rect x="240.20" y="398.80" width="10.97" height="1.05" fill="#85a8d3"/>
<rect x="240.20" y="399.80" width="10.97" height="0.35" fill="#82a5d0"/>
<rect x="240.20" y="400.10" width="10.97" height="1.05" fill="#4c78be"/>
<rect x="240.20" y="401.10" width="10.97" height="1.05" fill="#4773b9"/>
<rect x="240.20" y="402.10" width="10.97" height="0.95" fill="#4773b9"/>
<rect x="240.20" y="403.00" width="10.97" height="1.05" fill="#f2f0f0"/>
<rect x="240.20" y="404.00" width="10.97" height="0.15" fill="#f2f0f0"/>
<rect x="240.20" y="404.10" width="10.97" height="1.05" fill="#cedfef"/>
<rect x="240.20" y="405.10" width="10.97" height="1.05" fill="#cbdcec"/>
<rect x="240.20" y="406.10" width="10.97" height="1.05" fill="#dbe2e9"/>
<rect x="240.20" y="407.10" width="10.97" height="0.55" fill="#bbd0e3"/>
<rect x="240.20" y="407.60" width="10.97" height="1.05" fill="#83a6d1"/>
<rect x="240.20" y="408.60" width="10.97" height="1.05" fill="#9fbcdc"/>
<rect x="240.20" y="409.60" width="10.97" height="0.35" fill="#9dbad9"/>
<rect x="240.20" y="409.90" width="10.97" height="1.05" fill="#97b5d7"/>
<rect x="240.20" y="410.90" width="10.97" height="1.05" fill="#b4cce2"/>
<rect x="240.20" y="411.90" width="10.97" height="0.35" fill="#9fbddf"/>
<rect x="240.20" y="412.20" width="10.97" height="1.05" fill="#86a9d4"/>
<rect x="240.20" y="413.20" width="10.97" height="0.25" fill="#86a9d4"/>
<rect x="240.20" y="413.40" width="10.97" height="1.05" fill="#e5e9ed"/>
<rect x="240.20" y="414.40" width="10.97" height="0.75" fill="#eceff3"/>
<rect x="240.20" y="415.10" width="10.97" height="1.05" fill="#b4cce2"/>
<rect x="240.20" y="416.10" width="10.97" height="0.75" fill="#b8d0e6"/>
<rect x="240.20" y="416.80" width="10.97" height="1.05" fill="#f2e6e0"/>
<rect x="240.20" y="417.80" width="10.97" height="0.85" fill="#f0ded5"/>
<rect x="240.20" y="418.60" width="10.97" height="1.05" fill="#e6af99"/>
<rect x="240.20" y="419.60" width="10.97" height="0.75" fill="#e8b19b"/>
<rect x="240.20" y="420.30" width="10.97" height="1.05" fill="#f2f0f0"/>
<rect x="240.20" y="421.30" width="10.97" height="0.15" fill="#f2f0f0"/>
<rect x="240.20" y="421.40" width="10.97" height="1.05" fill="#ebb49e"/>
<rect x="240.20" y="422.40" width="10.97" height="0.25" fill="#ebb49e"/>
<rect x="240.20" y="422.60" width="10.97" height="1.05" fill="#ce685c"/>
<rect x="240.20" y="423.60" width="10.97" height="0.25" fill="#ce685c"/>
<rect x="240.20" y="423.80" width="10.97" height="1.05" fill="#f5dfd3"/>
<rect x="240.20" y="424.80" width="10.97" height="1.05" fill="#ad2731"/>
<rect x="240.20" y="425.80" width="10.97" height="1.05" fill="#b02a34"/>
<rect x="240.20" y="426.80" width="10.97" height="1.05" fill="#b42e38"/>
<rect x="240.20" y="427.80" width="10.97" height="1.05" fill="#b4cce2"/>
<rect x="240.20" y="428.80" width="10.97" height="0.75" fill="#b9d1e7"/>
<rect x="240.20" y="429.50" width="10.97" height="1.05" fill="#efe2db"/>
<rect x="240.20" y="430.50" width="10.97" height="0.85" fill="#e9eef3"/>
<rect x="240.20" y="431.30" width="10.97" height="1.05" fill="#eec6b5"/>
<rect x="240.20" y="432.30" width="10.97" height="1.05" fill="#f2dcd0"/>
<rect x="240.20" y="433.30" width="10.97" height="0.35" fill="#f4ccba"/>
<rect x="240.20" y="433.60" width="10.97" height="1.05" fill="#f5f3f3"/>
<rect x="240.20" y="434.60" width="10.97" height="0.75" fill="#f3f1f1"/>
<rect x="240.20" y="435.30" width="10.97" height="1.05" fill="#e9edf1"/>
<rect x="240.20" y="436.30" width="10.97" height="1.05" fill="#e2ecf5"/>
<rect x="240.20" y="437.30" width="10.97" height="0.35" fill="#e7eaef"/>
<rect x="240.20" y="437.60" width="10.97" height="1.05" fill="#b3cbe1"/>
<rect x="240.20" y="438.60" width="10.97" height="1.05" fill="#b7cfe5"/>
<rect x="240.20" y="439.60" width="10.97" height="0.95" fill="#b6cee4"/>
<rect x="240.20" y="440.50" width="10.97" height="1.05" fill="#e6af99"/>
<rect x="240.20" y="441.50" width="10.97" height="0.75" fill="#edb6a0"/>
<rect x="240.20" y="442.20" width="10.97" height="1.05" fill="#f5dfd3"/>
<rect x="240.20" y="443.20" width="10.97" height="0.65" fill="#f5dfd3"/>
<rect x="251.12" y="353.80" width="10.97" height="1.05" fill="#ebb49e"/>
<rect x="251.12" y="354.80" width="10.97" height="0.45" fill="#ebb49e"/>
<rect x="251.12" y="355.20" width="10.97" height="1.05" fill="#dc8e7d"/>
<rect x="251.12" y="356.20" width="10.97" height="0.65" fill="#dc8e7d"/>
<rect x="251.12" y="356.80" width="10.97" height="1.05" fill="#d06a5e"/>
<rect x="251.12" y="357.80" width="10.97" height="1.05" fill="#d06a5e"/>
<rect x="251.12" y="358.80" width="10.97" height="1.05" fill="#f3ddd1"/>
<rect x="251.12" y="359.80" width="10.97" height="1.05" fill="#f9e3d7"/>
<rect x="251.12" y="360.80" width="10.97" height="1.05" fill="#eab39d"/>
<rect x="251.12" y="361.80" width="10.97" height="1.05" fill="#eeb7a1"/>
<rect x="251.12" y="362.80" width="10.97" height="1.05" fill="#f0c8b7"/>
<rect x="251.12" y="363.80" width="10.97" height="1.05" fill="#f0c8b6"/>
<rect x="251.12" y="364.80" width="10.97" height="1.05" fill="#efb8a2"/>
<rect x="251.12" y="365.80" width="10.97" height="1.05" fill="#f2cdbd"/>
<rect x="251.12" y="366.80" width="10.97" height="0.55" fill="#eab39d"/>
<rect x="251.12" y="367.30" width="10.97" height="1.05" fill="#f5dfd3"/>
<rect x="251.12" y="368.30" width="10.97" height="0.55" fill="#f5dfd3"/>
<rect x="251.12" y="368.80" width="10.97" height="1.05" fill="#e6af99"/>
<rect x="251.12" y="369.80" width="10.97" height="1.05" fill="#e6af99"/>
<rect x="251.12" y="370.80" width="10.97" height="0.55" fill="#da8a79"/>
<rect x="251.12" y="371.30" width="10.97" height="1.05" fill="#f4ded2"/>
<rect x="251.12" y="372.30" width="10.97" height="1.05" fill="#f3cbba"/>
<rect x="251.12" y="373.30" width="10.97" height="0.55" fill="#eec6b4"/>
<rect x="251.12" y="373.80" width="10.97" height="1.05" fill="#b8d0e6"/>
<rect x="251.12" y="374.80" width="10.97" height="1.05" fill="#b6cee4"/>
<rect x="251.12" y="375.80" width="10.97" height="0.75" fill="#9cbadc"/>
<rect x="251.12" y="376.50" width="10.97" height="1.05" fill="#e8edf2"/>
<rect x="251.12" y="377.50" width="10.97" height="0.85" fill="#f5f3f3"/>
<rect x="251.12" y="378.30" width="10.97" height="1.05" fill="#c9dae9"/>
<rect x="251.12" y="379.30" width="10.97" height="1.05" fill="#cddeec"/>
<rect x="251.12" y="380.30" width="10.97" height="0.35" fill="#c9d9e8"/>
<rect x="251.12" y="380.60" width="10.97" height="1.05" fill="#e0eaf3"/>
<rect x="251.12" y="381.60" width="10.97" height="1.05" fill="#c6d8e8"/>
<rect x="251.12" y="382.60" width="10.97" height="0.85" fill="#dde7f0"/>
<rect x="251.12" y="383.40" width="10.97" height="1.05" fill="#f6ebe6"/>
<rect x="251.12" y="384.40" width="10.97" height="1.05" fill="#f6e0d4"/>
<rect x="251.12" y="385.40" width="10.97" height="0.45" fill="#f8e2d6"/>
<rect x="251.12" y="385.80" width="10.97" height="1.05" fill="#f0eeee"/>
<rect x="251.12" y="386.80" width="10.97" height="1.05" fill="#efeded"/>
<rect x="251.12" y="387.80" width="10.97" height="1.05" fill="#f4d7c8"/>
<rect x="251.12" y="388.80" width="10.97" height="1.05" fill="#eec7b6"/>
<rect x="251.12" y="389.80" width="10.97" height="1.05" fill="#97b5d7"/>
<rect x="251.12" y="390.80" width="10.97" height="1.05" fill="#b4cce2"/>
<rect x="251.12" y="391.80" width="10.97" height="0.35" fill="#b5cde3"/>
<rect x="251.12" y="392.10" width="10.97" height="1.05" fill="#88abd6"/>
<rect x="251.12" y="393.10" width="10.97" height="1.05" fill="#6088c1"/>
<rect x="251.12" y="394.10" width="10.97" height="0.35" fill="#8aadd8"/>
<rect x="251.12" y="394.40" width="10.97" height="1.05" fill="#4470b6"/>
<rect x="251.12" y="395.40" width="10.97" height="1.05" fill="#4470b6"/>
<rect x="251.12" y="396.40" width="10.97" height="0.95" fill="#6a91c8"/>
<rect x="251.12" y="397.30" width="10.97" height="0.55" fill="#86a9d4"/>
<rect x="251.12" y="397.80" width="10.97" height="1.05" fill="#cadae9"/>
<rect x="251.12" y="398.80" width="10.97" height="0.75" fill="#b6cee4"/>
<rect x="251.12" y="399.50" width="10.97" height="1.05" fill="#678fc9"/>
<rect x="251.12" y="400.50" width="10.97" height="0.85" fill="#82a5d0"/>
<rect x="251.12" y="401.30" width="10.97" height="1.05" fill="#4975bb"/>
<rect x="251.12" y="402.30" width="10.97" height="0.75" fill="#4672b8"/>
<rect x="251.12" y="403.00" width="10.97" height="1.05" fill="#e1ebf4"/>
<rect x="251.12" y="404.00" width="10.97" height="0.85" fill="#e2ecf5"/>
<rect x="251.12" y="404.80" width="10.97" height="1.05" fill="#a3bfdf"/>
<rect x="251.12" y="405.80" width="10.97" height="1.05" fill="#83a6d1"/>
<rect x="251.12" y="406.80" width="10.97" height="0.85" fill="#8aadd8"/>
<rect x="251.12" y="407.60" width="10.97" height="1.05" fill="#b8d0e6"/>
<rect x="251.12" y="408.60" width="10.97" height="0.75" fill="#b6cee4"/>
<rect x="251.12" y="409.30" width="10.97" height="1.05" fill="#eceff4"/>
<rect x="251.12" y="410.30" width="10.97" height="1.05" fill="#c4d6e6"/>
<rect x="251.12" y="411.30" width="10.97" height="1.05" fill="#e0eaf3"/>
<rect x="251.12" y="412.30" width="10.97" height="1.05" fill="#d9e3ec"/>
<rect x="251.12" y="413.30" width="10.97" height="0.15" fill="#d9e3ec"/>
<rect x="251.12" y="413.40" width="10.97" height="1.05" fill="#dc8e7d"/>
<rect x="251.12" y="414.40" width="10.97" height="0.45" fill="#dc8e7d"/>
<rect x="251.12" y="414.80" width="10.97" height="1.05" fill="#c9d9e8"/>
<rect x="251.12" y="415.80" width="10.97" height="1.05" fill="#b7cfe5"/>
<rect x="251.12" y="416.80" width="10.97" height="1.05" fill="#f9e3d7"/>
<rect x="251.12" y="417.80" width="10.97" height="1.05" fill="#f6e0d4"/>
<rect x="251.12" y="418.80" width="10.97" height="0.35" fill="#f8e2d6"/>
<rect x="251.12" y="419.10" width="10.97" height="1.05" fill="#f3f1f1"/>
<rect x="251.12" y="420.10" width="10.97" height="1.05" fill="#f1efef"/>
<rect x="251.12" y="421.10" width="10.97" height="0.35" fill="#f5f3f3"/>
<rect x="251.12" y="421.40" width="10.97" height="1.05" fill="#d98a79"/>
<rect x="251.12" y="422.40" width="10.97" height="1.05" fill="#e8a693"/>
<rect x="251.12" y="423.40" width="10.97" height="0.95" fill="#e19281"/>
<rect x="251.12" y="424.30" width="10.97" height="1.05" fill="#eaedf1"/>
<rect x="251.12" y="425.30" width="10.97" height="1.05" fill="#e2ecf5"/>
<rect x="251.12" y="426.30" width="10.97" height="1.05" fill="#e9edf1"/>
<rect x="251.12" y="427.30" width="10.97" height="0.55" fill="#dee8f1"/>
<rect x="251.12" y="427.80" width="10.97" height="1.05" fill="#d9e3ec"/>
<rect x="251.12" y="428.80" width="10.97" height="1.05" fill="#dee8f1"/>
<rect x="251.12" y="429.80" width="10.97" height="0.95" fill="#e1ebf4"/>
<rect x="251.12" y="430.70" width="10.97" height="1.05" fill="#eab39d"/>
<rect x="251.12" y="431.70" width="10.97" height="0.75" fill="#e6af99"/>
<rect x="251.12" y="432.40" width="10.97" height="1.05" fill="#dde7f0"/>
<rect x="251.12" y="433.40" width="10.97" height="1.05" fill="#cddfef"/>
<rect x="251.12" y="434.40" width="10.97" height="0.45" fill="#c9daea"/>
<rect x="251.12" y="434.80" width="10.97" height="1.05" fill="#9cbadc"/>
<rect x="251.12" y="435.80" width="10.97" height="1.05" fill="#b9d1e7"/>
<rect x="251.12" y="436.80" width="10.97" height="0.25" fill="#b4cce2"/>
<rect x="251.12" y="437.00" width="10.97" height="1.05" fill="#e4e7eb"/>
<rect x="251.12" y="438.00" width="10.97" height="1.05" fill="#c4d5e6"/>
<rect x="251.12" y="439.00" width="10.97" height="0.85" fill="#dbe5ee"/>
<rect x="251.12" y="439.80" width="10.97" height="1.05" fill="#f2f0f0"/>
<rect x="251.12" y="440.80" width="10.97" height="0.35" fill="#f2f0f0"/>
<rect x="251.12" y="441.10" width="10.97" height="1.05" fill="#cd675b"/>
<rect x="251.12" y="442.10" width="10.97" height="0.75" fill="#d16b5f"/>
<rect x="251.12" y="442.80" width="10.97" height="1.05" fill="#f5dfd3"/>
<rect x="262.04" y="353.80" width="10.97" height="1.05" fill="#d06a5e"/>
<rect x="262.04" y="354.80" width="10.97" height="1.05" fill="#e19584"/>
<rect x="262.04" y="355.80" width="10.97" height="1.05" fill="#d16b5f"/>
<rect x="262.04" y="356.80" width="10.97" height="1.05" fill="#ebb49e"/>
<rect x="262.04" y="357.80" width="10.97" height="1.05" fill="#db8a7a"/>
<rect x="262.04" y="358.80" width="10.97" height="0.45" fill="#eeb7a1"/>
<rect x="262.04" y="359.20" width="10.97" height="1.05" fill="#f5dfd3"/>
<rect x="262.04" y="360.20" width="10.97" height="0.65" fill="#f5dfd3"/>
<rect x="262.04" y="360.80" width="10.97" height="1.05" fill="#f4cfbe"/>
<rect x="262.04" y="361.80" width="10.97" height="1.05" fill="#f4cfbf"/>
<rect x="262.04" y="362.80" width="10.97" height="1.05" fill="#f2f0f0"/>
<rect x="262.04" y="363.80" width="10.97" height="0.65" fill="#f2f0f0"/>
<rect x="262.04" y="364.40" width="10.97" height="1.05" fill="#de8e7d"/>
<rect x="262.04" y="365.40" width="10.97" height="1.05" fill="#de8e7d"/>
<rect x="262.04" y="366.40" width="10.97" height="0.45" fill="#ecc7b7"/>
<rect x="262.04" y="366.80" width="10.97" height="1.05" fill="#d9e3ec"/>
<rect x="262.04" y="367.80" width="10.97" height="1.05" fill="#dde7f0"/>
<rect x="262.04" y="368.80" width="10.97" height="0.25" fill="#dae4ed"/>
<rect x="262.04" y="369.00" width="10.97" height="1.05" fill="#f1c9b7"/>
<rect x="262.04" y="370.00" width="10.97" height="0.85" fill="#f4e9e3"/>
<rect x="262.04" y="370.80" width="10.97" height="1.05" fill="#e7b09a"/>
<rect x="262.04" y="371.80" width="10.97" height="1.05" fill="#edb6a0"/>
<rect x="262.04" y="372.80" width="10.97" height="0.85" fill="#dc8c7b"/>
<rect x="262.04" y="373.60" width="10.97" height="1.05" fill="#f5dfd3"/>
<rect x="262.04" y="374.60" width="10.97" height="0.25" fill="#f5dfd3"/>
<rect x="262.04" y="374.80" width="10.97" height="1.05" fill="#f3e8e2"/>
<rect x="262.04" y="375.80" width="10.97" height="1.05" fill="#ebc3b2"/>
<rect x="262.04" y="376.80" width="10.97" height="0.35" fill="#f0e5df"/>
<rect x="262.04" y="377.10" width="10.97" height="1.05" fill="#f7eae4"/>
<rect x="262.04" y="378.10" width="10.97" height="0.75" fill="#eeecec"/>
<rect x="262.04" y="378.80" width="10.97" height="1.05" fill="#98b6d7"/>
<rect x="262.04" y="379.80" width="10.97" height="0.85" fill="#b7cfe5"/>
<rect x="262.04" y="380.60" width="10.97" height="1.05" fill="#eab39d"/>
<rect x="262.04" y="381.60" width="10.97" height="0.75" fill="#e6af99"/>
<rect x="262.04" y="382.30" width="10.97" height="1.05" fill="#ccdeee"/>
<rect x="262.04" y="383.30" width="10.97" height="1.05" fill="#e7eaef"/>
<rect x="262.04" y="384.30" width="10.97" height="0.35" fill="#eaedf1"/>
<rect x="262.04" y="384.60" width="10.97" height="1.05" fill="#628ac3"/>
<rect x="262.04" y="385.60" width="10.97" height="1.05" fill="#648cc6"/>
<rect x="262.04" y="386.60" width="10.97" height="1.05" fill="#a4c1e0"/>
<rect x="262.04" y="387.60" width="10.97" height="0.55" fill="#88abd6"/>
<rect x="262.04" y="388.10" width="10.97" height="1.05" fill="#bbd3e9"/>
<rect x="262.04" y="389.10" width="10.97" height="1.05" fill="#bbd3e9"/>
<rect x="262.04" y="390.10" width="10.97" height="0.35" fill="#b9d1e7"/>
<rect x="262.04" y="390.40" width="10.97" height="1.05" fill="#88abd6"/>
<rect x="262.04" y="391.40" width="10.97" height="1.05" fill="#668ec7"/>
<rect x="262.04" y="392.40" width="10.97" height="0.95" fill="#6189c3"/>
<rect x="262.04" y="393.30" width="10.97" height="1.05" fill="#bcd4ea"/>
<rect x="262.04" y="394.30" width="10.97" height="1.05" fill="#97b6d7"/>
<rect x="262.04" y="395.30" width="10.97" height="0.35" fill="#b6cee4"/>
<rect x="262.04" y="395.60" width="10.97" height="1.05" fill="#86a9d4"/>
<rect x="262.04" y="396.60" width="10.97" height="1.05" fill="#84a7d2"/>
<rect x="262.04" y="397.60" width="10.97" height="0.25" fill="#87aad5"/>
<rect x="262.04" y="397.80" width="10.97" height="1.05" fill="#88abd6"/>
<rect x="262.04" y="398.80" width="10.97" height="1.05" fill="#81a4cf"/>
<rect x="262.04" y="399.80" width="10.97" height="0.35" fill="#668ec8"/>
<rect x="262.04" y="400.10" width="10.97" height="1.05" fill="#b8d0e6"/>
<rect x="262.04" y="401.10" width="10.97" height="1.05" fill="#9dbcdd"/>
<rect x="262.04" y="402.10" width="10.97" height="0.35" fill="#b5cde3"/>
<rect x="262.04" y="402.40" width="10.97" height="1.05" fill="#b8d0e6"/>
<rect x="262.04" y="403.40" width="10.97" height="0.25" fill="#b8d0e6"/>
<rect x="262.04" y="403.60" width="10.97" height="1.05" fill="#f2f0f0"/>
<rect x="262.04" y="404.60" width="10.97" height="1.05" fill="#f6f4f4"/>
<rect x="262.04" y="405.60" width="10.97" height="0.85" fill="#f6f4f4"/>
<rect x="262.04" y="406.40" width="10.97" height="1.05" fill="#cfe0ef"/>
<rect x="262.04" y="407.40" width="10.97" height="0.85" fill="#b6cee4"/>
<rect x="262.04" y="408.20" width="10.97" height="1.05" fill="#f3ddd1"/>
<rect x="262.04" y="409.20" width="10.97" height="1.05" fill="#f8e2d6"/>
<rect x="262.04" y="410.20" width="10.97" height="0.35" fill="#f5dfd3"/>
<rect x="262.04" y="410.50" width="10.97" height="1.05" fill="#c9daea"/>
<rect x="262.04" y="411.50" width="10.97" height="0.75" fill="#cadbeb"/>
<rect x="262.04" y="412.20" width="10.97" height="1.05" fill="#e6ebf0"/>
<rect x="262.04" y="413.20" width="10.97" height="1.05" fill="#f3f1f1"/>
<rect x="262.04" y="414.20" width="10.97" height="0.35" fill="#edebeb"/>
<rect x="262.04" y="414.50" width="10.97" height="1.05" fill="#b8d0e6"/>
<rect x="262.04" y="415.50" width="10.97" height="0.85" fill="#b7cfe5"/>
<rect x="262.04" y="416.30" width="10.97" height="1.05" fill="#ecc7b6"/>
<rect x="262.04" y="417.30" width="10.97" height="1.05" fill="#e6af99"/>
<rect x="262.04" y="418.30" width="10.97" height="0.85" fill="#df8e7e"/>
<rect x="262.04" y="419.10" width="10.97" height="1.05" fill="#dde7f0"/>
<rect x="262.04" y="420.10" width="10.97" height="1.05" fill="#edf1f5"/>
<rect x="262.04" y="421.10" width="10.97" height="1.05" fill="#e2ecf5"/>
<rect x="262.04" y="422.10" width="10.97" height="0.55" fill="#dde7f0"/>
<rect x="262.04" y="422.60" width="10.97" height="1.05" fill="#f5f3f3"/>
<rect x="262.04" y="423.60" width="10.97" height="1.05" fill="#eeecec"/>
<rect x="262.04" y="424.60" width="10.97" height="0.25" fill="#f3e6df"/>
<rect x="262.04" y="424.80" width="10.97" height="1.05" fill="#c7d9e9"/>
<rect x="262.04" y="425.80" width="10.97" height="1.05" fill="#dde7f0"/>
<rect x="262.04" y="426.80" width="10.97" height="0.45" fill="#c8daea"/>
<rect x="262.04" y="427.20" width="10.97" height="1.05" fill="#f2f0f0"/>
<rect x="262.04" y="428.20" width="10.97" height="0.25" fill="#f2f0f0"/>
<rect x="262.04" y="428.40" width="10.97" height="1.05" fill="#e9b29c"/>
<rect x="262.04" y="429.40" width="10.97" height="1.05" fill="#f3cebe"/>
<rect x="262.04" y="430.40" width="10.97" height="0.35" fill="#dd8c7c"/>
<rect x="262.04" y="430.70" width="10.97" height="1.05" fill="#e7ebf0"/>
<rect x="262.04" y="431.70" width="10.97" height="0.75" fill="#efeded"/>
<rect x="262.04" y="432.40" width="10.97" height="1.05" fill="#e0eaf3"/>
<rect x="262.04" y="433.40" width="10.97" height="1.05" fill="#e5e9ed"/>
<rect x="262.04" y="434.40" width="10.97" height="0.45" fill="#e5e9ed"/>
<rect x="262.04" y="434.80" width="10.97" height="1.05" fill="#f3cbb9"/>
<rect x="262.04" y="435.80" width="10.97" height="1.05" fill="#eac2b0"/>
<rect x="262.04" y="436.80" width="10.97" height="0.25" fill="#f4e9e4"/>
<rect x="262.04" y="437.00" width="10.97" height="1.05" fill="#b94141"/>
<rect x="262.04" y="438.00" width="10.97" height="1.05" fill="#ce685c"/>
<rect x="262.04" y="439.00" width="10.97" height="1.05" fill="#cc665a"/>
<rect x="262.04" y="440.00" width="10.97" height="1.05" fill="#ba4343"/>
<rect x="262.04" y="441.00" width="10.97" height="0.15" fill="#c04949"/>
<rect x="262.04" y="441.10" width="10.97" height="1.05" fill="#af2933"/>
<rect x="262.04" y="442.10" width="10.97" height="1.05" fill="#b32d37"/>
<rect x="262.04" y="443.10" width="10.97" height="0.75" fill="#af2933"/>
<rect x="272.96" y="353.80" width="10.97" height="1.05" fill="#eec6b4"/>
<rect x="272.96" y="354.80" width="10.97" height="1.05" fill="#f6e0d4"/>
<rect x="272.96" y="355.80" width="10.97" height="0.55" fill="#f3ddd1"/>
<rect x="272.96" y="356.30" width="10.97" height="1.05" fill="#bad2e8"/>
<rect x="272.96" y="357.30" width="10.97" height="0.85" fill="#ccdceb"/>
<rect x="272.96" y="358.10" width="10.97" height="1.05" fill="#dee8f1"/>
<rect x="272.96" y="359.10" width="10.97" height="0.15" fill="#dee8f1"/>
<rect x="272.96" y="359.20" width="10.97" height="1.05" fill="#f3e6df"/>
<rect x="272.96" y="360.20" width="10.97" height="1.05" fill="#f1efef"/>
<rect x="272.96" y="361.20" width="10.97" height="0.35" fill="#f5f3f3"/>
<rect x="272.96" y="361.50" width="10.97" height="1.05" fill="#f3cebe"/>
<rect x="272.96" y="362.50" width="10.97" height="0.85" fill="#e8b19b"/>
<rect x="272.96" y="363.30" width="10.97" height="1.05" fill="#ebb49e"/>
<rect x="272.96" y="364.30" width="10.97" height="0.55" fill="#ebb49e"/>
<rect x="272.96" y="364.80" width="10.97" height="1.05" fill="#bc4745"/>
<rect x="272.96" y="365.80" width="10.97" height="1.05" fill="#be4947"/>
<rect x="272.96" y="366.80" width="10.97" height="0.25" fill="#b12b35"/>
<rect x="272.96" y="367.00" width="10.97" height="1.05" fill="#ebb49e"/>
<rect x="272.96" y="368.00" width="10.97" height="0.45" fill="#ebb49e"/>
<rect x="272.96" y="368.40" width="10.97" height="1.05" fill="#f5dfd3"/>
<rect x="272.96" y="369.40" width="10.97" height="0.45" fill="#f5dfd3"/>
<rect x="272.96" y="369.80" width="10.97" height="1.05" fill="#ce685c"/>
<rect x="272.96" y="370.80" width="10.97" height="0.25" fill="#ce685c"/>
<rect x="272.96" y="371.00" width="10.97" height="1.05" fill="#f0eeee"/>
<rect x="272.96" y="372.00" width="10.97" height="1.05" fill="#f2f0f0"/>
<rect x="272.96" y="373.00" width="10.97" height="0.15" fill="#e8edf2"/>
<rect x="272.96" y="373.10" width="10.97" height="1.05" fill="#efc6b5"/>
<rect x="272.96" y="374.10" width="10.97" height="0.75" fill="#f0dace"/>
<rect x="272.96" y="374.80" width="10.97" height="1.05" fill="#d9e3ec"/>
<rect x="272.96" y="375.80" width="10.97" height="0.75" fill="#dee8f1"/>
<rect x="272.96" y="376.50" width="10.97" height="1.05" fill="#c24e4c"/>
<rect x="272.96" y="377.50" width="10.97" height="1.05" fill="#b02a34"/>
<rect x="272.96" y="378.50" width="10.97" height="0.35" fill="#c14c4a"/>
<rect x="272.96" y="378.80" width="10.97" height="1.05" fill="#a5c2e1"/>
<rect x="272.96" y="379.80" width="10.97" height="0.85" fill="#9ebbdb"/>
<rect x="272.96" y="380.60" width="10.97" height="1.05" fill="#ebb49e"/>
<rect x="272.96" y="381.60" width="10.97" height="0.75" fill="#ecb59f"/>
<rect x="272.96" y="382.30" width="10.97" height="1.05" fill="#d9e3ec"/>
<rect x="272.96" y="383.30" width="10.97" height="1.05" fill="#ebeff3"/>
<rect x="272.96" y="384.30" width="10.97" height="0.35" fill="#c6d8e8"/>
<rect x="272.96" y="384.60" width="10.97" height="1.05" fill="#f0dace"/>
<rect x="272.96" y="385.60" width="10.97" height="1.05" fill="#f1dbcf"/>
<rect x="272.96" y="386.60" width="10.97" height="0.25" fill="#f0c8b7"/>
<rect x="272.96" y="386.80" width="10.97" height="1.05" fill="#eab39d"/>
<rect x="272.96" y="387.80" width="10.97" height="0.85" fill="#e9b29c"/>
<rect x="272.96" y="388.60" width="10.97" height="1.05" fill="#f3ddd1"/>
<rect x="272.96" y="389.60" width="10.97" height="0.85" fill="#f1e6e1"/>
<rect x="272.96" y="390.40" width="10.97" height="1.05" fill="#f2f0f0"/>
<rect x="272.96" y="391.40" width="10.97" height="0.15" fill="#f2f0f0"/>
<rect x="272.96" y="391.50" width="10.97" height="1.05" fill="#4874ba"/>
<rect x="272.96" y="392.50" width="10.97" height="0.85" fill="#4a76bc"/>
<rect x="272.96" y="393.30" width="10.97" height="1.05" fill="#f4ded2"/>
<rect x="272.96" y="394.30" width="10.97" height="1.05" fill="#f6e0d4"/>
<rect x="272.96" y="395.30" width="10.97" height="0.35" fill="#f8e2d6"/>
<rect x="272.96" y="395.60" width="10.97" height="1.05" fill="#f5f3f3"/>
<rect x="272.96" y="396.60" width="10.97" height="1.05" fill="#f3f1f1"/>
<rect x="272.96" y="397.60" width="10.97" height="0.25" fill="#f4f2f2"/>
<rect x="272.96" y="397.80" width="10.97" height="1.05" fill="#85a8d3"/>
<rect x="272.96" y="398.80" width="10.97" height="0.75" fill="#82a5d0"/>
<rect x="272.96" y="399.50" width="10.97" height="1.05" fill="#f8ebe4"/>
<rect x="272.96" y="400.50" width="10.97" height="0.85" fill="#e5e9ee"/>
<rect x="272.96" y="401.30" width="10.97" height="1.05" fill="#edc7b6"/>
<rect x="272.96" y="402.30" width="10.97" height="0.75" fill="#efc9b8"/>
<rect x="272.96" y="403.00" width="10.97" height="1.05" fill="#9fbcdb"/>
<rect x="272.96" y="404.00" width="10.97" height="0.85" fill="#8aadd8"/>
<rect x="272.96" y="404.80" width="10.97" height="1.05" fill="#d9e3ec"/>
<rect x="272.96" y="405.80" width="10.97" height="0.65" fill="#eceff3"/>
<rect x="272.96" y="406.40" width="10.97" height="1.05" fill="#ebb49e"/>
<rect x="272.96" y="407.40" width="10.97" height="0.45" fill="#ebb49e"/>
<rect x="272.96" y="407.80" width="10.97" height="1.05" fill="#dee8f1"/>
<rect x="272.96" y="408.80" width="10.97" height="0.55" fill="#dee8f1"/>
<rect x="272.96" y="409.30" width="10.97" height="1.05" fill="#c9dae8"/>
<rect x="272.96" y="410.30" width="10.97" height="0.85" fill="#b9d1e7"/>
<rect x="272.96" y="411.10" width="10.97" height="1.05" fill="#ce685c"/>
<rect x="272.96" y="412.10" width="10.97" height="0.75" fill="#d16b5f"/>
<rect x="272.96" y="412.80" width="10.97" height="1.05" fill="#86a9d4"/>
<rect x="272.96" y="413.80" width="10.97" height="1.05" fill="#dee8f1"/>
<rect x="272.96" y="414.80" width="10.97" height="0.35" fill="#dee8f1"/>
<rect x="272.96" y="415.10" width="10.97" height="1.05" fill="#efb8a2"/>
<rect x="272.96" y="416.10" width="10.97" height="0.75" fill="#ecb59f"/>
<rect x="272.96" y="416.80" width="10.97" height="1.05" fill="#86a9d4"/>
<rect x="272.96" y="417.80" width="10.97" height="1.05" fill="#85a8d3"/>
<rect x="272.96" y="418.80" width="10.97" height="0.35" fill="#8aadd8"/>
<rect x="272.96" y="419.10" width="10.97" height="1.05" fill="#f6e9e2"/>
<rect x="272.96" y="420.10" width="10.97" height="0.75" fill="#f2e5df"/>
<rect x="272.96" y="420.80" width="10.97" height="1.05" fill="#4b77bd"/>
<rect x="272.96" y="421.80" width="10.97" height="0.85" fill="#6c94cb"/>
<rect x="272.96" y="422.60" width="10.97" height="1.05" fill="#e1ebf4"/>
<rect x="272.96" y="423.60" width="10.97" height="0.75" fill="#e2ecf5"/>
<rect x="272.96" y="424.30" width="10.97" height="1.05" fill="#b5cde3"/>
<rect x="272.96" y="425.30" width="10.97" height="0.85" fill="#bbd3e9"/>
<rect x="272.96" y="426.10" width="10.97" height="1.05" fill="#c04848"/>
<rect x="272.96" y="427.10" width="10.97" height="0.95" fill="#cf695d"/>
<rect x="272.96" y="428.00" width="10.97" height="1.05" fill="#b8d0e6"/>
<rect x="272.96" y="429.00" width="10.97" height="0.55" fill="#b8d0e6"/>
<rect x="272.96" y="429.50" width="10.97" height="1.05" fill="#83a6d1"/>
<rect x="272.96" y="430.50" width="10.97" height="0.85" fill="#82a5d0"/>
<rect x="272.96" y="431.30" width="10.97" height="1.05" fill="#edebeb"/>
<rect x="272.96" y="432.30" width="10.97" height="0.75" fill="#f5f3f3"/>
<rect x="272.96" y="433.00" width="10.97" height="1.05" fill="#ebc3b1"/>
<rect x="272.96" y="434.00" width="10.97" height="1.05" fill="#f8e2d6"/>
<rect x="272.96" y="435.00" width="10.97" height="1.05" fill="#f0dace"/>
<rect x="272.96" y="436.00" width="10.97" height="0.45" fill="#f5dfd3"/>
<rect x="272.96" y="436.40" width="10.97" height="1.05" fill="#c8d8e7"/>
<rect x="272.96" y="437.40" width="10.97" height="1.05" fill="#a0bee0"/>
<rect x="272.96" y="438.40" width="10.97" height="1.05" fill="#b5cde3"/>
<rect x="272.96" y="439.40" width="10.97" height="1.05" fill="#9cbadc"/>
<rect x="272.96" y="440.40" width="10.97" height="0.15" fill="#b6cee4"/>
<rect x="272.96" y="440.50" width="10.97" height="1.05" fill="#86a9d4"/>
<rect x="272.96" y="441.50" width="10.97" height="1.05" fill="#a3c0df"/>
<rect x="272.96" y="442.50" width="10.97" height="0.35" fill="#658dc7"/>
<rect x="272.96" y="442.80" width="10.97" height="1.05" fill="#dee8f1"/>
<rect x="283.88" y="353.80" width="10.97" height="1.05" fill="#f6e0d4"/>
<rect x="283.88" y="354.80" width="10.97" height="1.05" fill="#f6ebe5"/>
<rect x="283.88" y="355.80" width="10.97" height="1.05" fill="#e2e6eb"/>
<rect x="283.88" y="356.80" width="10.97" height="0.75" fill="#efeded"/>
<rect x="283.88" y="357.50" width="10.97" height="1.05" fill="#da8979"/>
<rect x="283.88" y="358.50" width="10.97" height="1.05" fill="#f4cfbf"/>
<rect x="283.88" y="359.50" width="10.97" height="0.95" fill="#efb8a2"/>
<rect x="283.88" y="360.40" width="10.97" height="1.05" fill="#b42e38"/>
<rect x="283.88" y="361.40" width="10.97" height="1.05" fill="#b02a34"/>
<rect x="283.88" y="362.40" width="10.97" height="1.05" fill="#e7b09a"/>
<rect x="283.88" y="363.40" width="10.97" height="1.05" fill="#e9b29c"/>
<rect x="283.88" y="364.40" width="10.97" height="1.05" fill="#dd8e7d"/>
<rect x="283.88" y="365.40" width="10.97" height="1.05" fill="#da8c7b"/>
<rect x="283.88" y="366.40" width="10.97" height="0.45" fill="#bf5250"/>
<rect x="283.88" y="366.80" width="10.97" height="1.05" fill="#b8d0e6"/>
<rect x="283.88" y="367.80" width="10.97" height="0.65" fill="#b8d0e6"/>
<rect x="283.88" y="368.40" width="10.97" height="1.05" fill="#f1dbcf"/>
<rect x="283.88" y="369.40" width="10.97" height="1.05" fill="#ecc4b2"/>
<rect x="283.88" y="370.40" width="10.97" height="0.45" fill="#f8e2d6"/>
<rect x="283.88" y="370.80" width="10.97" height="1.05" fill="#e4e8ec"/>
<rect x="283.88" y="371.80" width="10.97" height="0.75" fill="#e2ecf5"/>
<rect x="283.88" y="372.50" width="10.97" height="0.95" fill="#dee8f1"/>
<rect x="283.88" y="373.40" width="10.97" height="1.05" fill="#c34e4c"/>
<rect x="283.88" y="374.40" width="10.97" height="1.05" fill="#b42e38"/>
<rect x="283.88" y="375.40" width="10.97" height="0.25" fill="#b22c36"/>
<rect x="283.88" y="375.60" width="10.97" height="1.05" fill="#ebb49e"/>
<rect x="283.88" y="376.60" width="10.97" height="0.55" fill="#ebb49e"/>
<rect x="283.88" y="377.10" width="10.97" height="1.05" fill="#e5eaef"/>
<rect x="283.88" y="378.10" width="10.97" height="0.75" fill="#f3f1f1"/>
<rect x="283.88" y="378.80" width="10.97" height="1.05" fill="#b7393e"/>
<rect x="283.88" y="379.80" width="10.97" height="1.05" fill="#c04a49"/>
<rect x="283.88" y="380.80" width="10.97" height="1.05" fill="#c2554e"/>
<rect x="283.88" y="381.80" width="10.97" height="1.05" fill="#bd4746"/>
<rect x="283.88" y="382.80" width="10.97" height="0.65" fill="#c75a53"/>
<rect x="283.88" y="383.40" width="10.97" height="1.05" fill="#edb6a0"/>
<rect x="283.88" y="384.40" width="10.97" height="0.85" fill="#f1ccbc"/>
<rect x="283.88" y="385.20" width="10.97" height="1.05" fill="#bd4646"/>
<rect x="283.88" y="386.20" width="10.97" height="1.05" fill="#be4646"/>
<rect x="283.88" y="387.20" width="10.97" height="1.05" fill="#be4646"/>
<rect x="283.88" y="388.20" width="10.97" height="0.45" fill="#e09483"/>
<rect x="283.88" y="388.60" width="10.97" height="1.05" fill="#ebb49e"/>
<rect x="283.88" y="389.60" width="10.97" height="0.25" fill="#ebb49e"/>
<rect x="283.88" y="389.80" width="10.97" height="1.05" fill="#b8d0e6"/>
<rect x="283.88" y="390.80" width="10.97" height="0.75" fill="#b6cee4"/>
<rect x="283.88" y="391.50" width="10.97" height="1.05" fill="#f0eeee"/>
<rect x="283.88" y="392.50" width="10.97" height="0.85" fill="#eeecec"/>
<rect x="283.88" y="393.30" width="10.97" height="1.05" fill="#b4cce2"/>
<rect x="283.88" y="394.30" width="10.97" height="1.05" fill="#b8d0e6"/>
<rect x="283.88" y="395.30" width="10.97" height="0.35" fill="#9dbbdc"/>
<rect x="283.88" y="395.60" width="10.97" height="1.05" fill="#f4e7e1"/>
<rect x="283.88" y="396.60" width="10.97" height="1.05" fill="#efeded"/>
<rect x="283.88" y="397.60" width="10.97" height="0.25" fill="#efeded"/>
<rect x="283.88" y="397.80" width="10.97" height="1.05" fill="#f5dfd3"/>
<rect x="283.88" y="398.80" width="10.97" height="1.05" fill="#dee8f1"/>
<rect x="283.88" y="399.80" width="10.97" height="0.35" fill="#dee8f1"/>
<rect x="283.88" y="400.10" width="10.97" height="1.05" fill="#de8d7d"/>
<rect x="283.88" y="401.10" width="10.97" height="0.75" fill="#eab39d"/>
<rect x="283.88" y="401.80" width="10.97" height="1.05" fill="#f4f2f2"/>
<rect x="283.88" y="402.80" width="10.97" height="0.85" fill="#ebf0f5"/>
<rect x="283.88" y="403.60" width="10.97" height="1.05" fill="#a0bdde"/>
<rect x="283.88" y="404.60" width="10.97" height="1.05" fill="#7197cc"/>
<rect x="283.88" y="405.60" width="10.97" height="1.05" fill="#6e94c9"/>
<rect x="283.88" y="406.60" width="10.97" height="0.45" fill="#9bb8d9"/>
<rect x="283.88" y="407.00" width="10.97" height="1.05" fill="#cbdbea"/>
<rect x="283.88" y="408.00" width="10.97" height="0.85" fill="#cdddec"/>
<rect x="283.88" y="408.80" width="10.97" height="1.05" fill="#f2f0f0"/>
<rect x="283.88" y="409.80" width="10.97" height="0.55" fill="#f2f0f0"/>
<rect x="283.88" y="410.30" width="10.97" height="1.05" fill="#e0eaf3"/>
<rect x="283.88" y="411.30" width="10.97" height="0.95" fill="#dde7f0"/>
<rect x="283.88" y="412.20" width="10.97" height="1.05" fill="#b8d0e6"/>
<rect x="283.88" y="413.20" width="10.97" height="0.25" fill="#b8d0e6"/>
<rect x="283.88" y="413.40" width="10.97" height="1.05" fill="#5f87c1"/>
<rect x="283.88" y="414.40" width="10.97" height="1.05" fill="#88abd6"/>
<rect x="283.88" y="415.40" width="10.97" height="0.45" fill="#8aadd8"/>
<rect x="283.88" y="415.80" width="10.97" height="1.05" fill="#f5f3f3"/>
<rect x="283.88" y="416.80" width="10.97" height="0.65" fill="#f1efef"/>
<rect x="283.88" y="417.40" width="10.97" height="1.05" fill="#efb8a2"/>
<rect x="283.88" y="418.40" width="10.97" height="1.05" fill="#ebb49e"/>
<rect x="283.88" y="419.40" width="10.97" height="0.45" fill="#df8e7d"/>
<rect x="283.88" y="419.80" width="10.97" height="1.05" fill="#f5dfd3"/>
<rect x="283.88" y="420.80" width="10.97" height="0.65" fill="#f5dfd3"/>
<rect x="283.88" y="421.40" width="10.97" height="1.05" fill="#dbe5ee"/>
<rect x="283.88" y="422.40" width="10.97" height="1.05" fill="#c8daea"/>
<rect x="283.88" y="423.40" width="10.97" height="0.45" fill="#ebeef2"/>
<rect x="283.88" y="423.80" width="10.97" height="1.05" fill="#83a6d1"/>
<rect x="283.88" y="424.80" width="10.97" height="0.75" fill="#83a6d1"/>
<rect x="283.88" y="425.50" width="10.97" height="1.05" fill="#bcd4ea"/>
<rect x="283.88" y="426.50" width="10.97" height="1.05" fill="#b4cce2"/>
<rect x="283.88" y="427.50" width="10.97" height="0.95" fill="#b8d0e6"/>
<rect x="283.88" y="428.40" width="10.97" height="1.05" fill="#e2ecf5"/>
<rect x="283.88" y="429.40" width="10.97" height="1.05" fill="#e2ecf5"/>
<rect x="283.88" y="430.40" width="10.97" height="0.45" fill="#ccdeee"/>
<rect x="283.88" y="430.80" width="10.97" height="1.05" fill="#86a9d4"/>
<rect x="283.88" y="431.80" width="10.97" height="0.65" fill="#86a9d4"/>
<rect x="283.88" y="432.40" width="10.97" height="1.05" fill="#c9dbeb"/>
<rect x="283.88" y="433.40" width="10.97" height="1.05" fill="#dee8f1"/>
<rect x="283.88" y="434.40" width="10.97" height="1.05" fill="#d9e3ec"/>
<rect x="283.88" y="435.40" width="10.97" height="0.45" fill="#dae4ed"/>
<rect x="283.88" y="435.80" width="10.97" height="1.05" fill="#f8ebe4"/>
<rect x="283.88" y="436.80" width="10.97" height="0.85" fill="#f5e8e2"/>
<rect x="283.88" y="437.60" width="10.97" height="1.05" fill="#f0dace"/>
<rect x="283.88" y="438.60" width="10.97" height="1.05" fill="#f6ebe6"/>
<rect x="283.88" y="439.60" width="10.97" height="0.25" fill="#f5eae4"/>
<rect x="283.88" y="439.80" width="10.97" height="1.05" fill="#dee8f1"/>
<rect x="283.88" y="440.80" width="10.97" height="0.35" fill="#dee8f1"/>
<rect x="283.88" y="441.10" width="10.97" height="1.05" fill="#81a4cf"/>
<rect x="283.88" y="442.10" width="10.97" height="0.75" fill="#84a7d2"/>
<rect x="283.88" y="442.80" width="10.97" height="1.05" fill="#f2f0f0"/>
<rect x="294.80" y="353.80" width="10.97" height="1.05" fill="#86a9d4"/>
<rect x="294.80" y="354.80" width="10.97" height="0.45" fill="#86a9d4"/>
<rect x="294.80" y="355.20" width="10.97" height="1.05" fill="#86a9d4"/>
<rect x="294.80" y="356.20" width="10.97" height="0.65" fill="#86a9d4"/>
<rect x="294.80" y="356.80" width="10.97" height="1.05" fill="#dee8f1"/>
<rect x="294.80" y="357.80" width="10.97" height="0.35" fill="#dee8f1"/>
<rect x="294.80" y="358.10" width="10.97" height="1.05" fill="#ebb49e"/>
<rect x="294.80" y="359.10" width="10.97" height="0.15" fill="#ebb49e"/>
<rect x="294.80" y="359.20" width="10.97" height="1.05" fill="#f2f0f0"/>
<rect x="294.80" y="360.20" width="10.97" height="0.65" fill="#f2f0f0"/>
<rect x="294.80" y="360.80" width="10.97" height="1.05" fill="#86a9d4"/>
<rect x="294.80" y="361.80" width="10.97" height="0.35" fill="#86a9d4"/>
<rect x="294.80" y="362.10" width="10.97" height="1.05" fill="#dee8f1"/>
<rect x="294.80" y="363.10" width="10.97" height="0.25" fill="#dee8f1"/>
<rect x="294.80" y="363.30" width="10.97" height="1.05" fill="#b8d0e6"/>
<rect x="294.80" y="364.30" width="10.97" height="0.55" fill="#b8d0e6"/>
<rect x="294.80" y="364.80" width="10.97" height="1.05" fill="#e2ecf5"/>
<rect x="294.80" y="365.80" width="10.97" height="1.05" fill="#c8daea"/>
<rect x="294.80" y="366.80" width="10.97" height="1.05" fill="#d16b5f"/>
<rect x="294.80" y="367.80" width="10.97" height="1.05" fill="#d98d7b"/>
<rect x="294.80" y="368.80" width="10.97" height="0.25" fill="#c14949"/>
<rect x="294.80" y="369.00" width="10.97" height="1.05" fill="#6a91c8"/>
<rect x="294.80" y="370.00" width="10.97" height="0.85" fill="#4975bb"/>
<rect x="294.80" y="370.80" width="10.97" height="1.05" fill="#cddfef"/>
<rect x="294.80" y="371.80" width="10.97" height="0.75" fill="#cbdced"/>
<rect x="294.80" y="372.50" width="10.97" height="1.05" fill="#dc8e7d"/>
<rect x="294.80" y="373.50" width="10.97" height="0.15" fill="#dc8e7d"/>
<rect x="294.80" y="373.60" width="10.97" height="1.05" fill="#c8d9ea"/>
<rect x="294.80" y="374.60" width="10.97" height="0.85" fill="#dae4ed"/>
<rect x="294.80" y="375.40" width="10.97" height="1.05" fill="#f2f0f0"/>
<rect x="294.80" y="376.40" width="10.97" height="0.15" fill="#f2f0f0"/>
<rect x="294.80" y="376.50" width="10.97" height="1.05" fill="#b5cde3"/>
<rect x="294.80" y="377.50" width="10.97" height="1.05" fill="#9cbadc"/>
<rect x="294.80" y="378.50" width="10.97" height="0.35" fill="#b6cee4"/>
<rect x="294.80" y="378.80" width="10.97" height="1.05" fill="#f3cdbc"/>
<rect x="294.80" y="379.80" width="10.97" height="0.85" fill="#da9182"/>
<rect x="294.80" y="380.60" width="10.97" height="1.05" fill="#ebb49e"/>
<rect x="294.80" y="381.60" width="10.97" height="0.55" fill="#ebb49e"/>
<rect x="294.80" y="382.10" width="10.97" height="1.05" fill="#a3c0df"/>
<rect x="294.80" y="383.10" width="10.97" height="0.95" fill="#a1bedd"/>
<rect x="294.80" y="384.00" width="10.97" height="1.05" fill="#dee8f1"/>
<rect x="294.80" y="385.00" width="10.97" height="0.25" fill="#dee8f1"/>
<rect x="294.80" y="385.20" width="10.97" height="1.05" fill="#e7ebf0"/>
<rect x="294.80" y="386.20" width="10.97" height="1.05" fill="#f2f0f0"/>
<rect x="294.80" y="387.20" width="10.97" height="0.35" fill="#f4e7e0"/>
<rect x="294.80" y="387.50" width="10.97" height="1.05" fill="#9ebbdb"/>
<rect x="294.80" y="388.50" width="10.97" height="0.75" fill="#82a5d0"/>
<rect x="294.80" y="389.20" width="10.97" height="1.05" fill="#f5d0c0"/>
<rect x="294.80" y="390.20" width="10.97" height="1.05" fill="#efb8a2"/>
<rect x="294.80" y="391.20" width="10.97" height="1.05" fill="#e6af99"/>
<rect x="294.80" y="392.20" width="10.97" height="0.65" fill="#ecc7b6"/>
<rect x="294.80" y="392.80" width="10.97" height="1.05" fill="#f3ddd1"/>
<rect x="294.80" y="393.80" width="10.97" height="0.65" fill="#eac2b1"/>
<rect x="294.80" y="394.40" width="10.97" height="1.05" fill="#ebb49e"/>
<rect x="294.80" y="395.40" width="10.97" height="0.75" fill="#e7b09a"/>
<rect x="294.80" y="396.10" width="10.97" height="1.05" fill="#f3f1f1"/>
<rect x="294.80" y="397.10" width="10.97" height="0.75" fill="#efeded"/>
<rect x="294.80" y="397.80" width="10.97" height="1.05" fill="#ebb49e"/>
<rect x="294.80" y="398.80" width="10.97" height="1.05" fill="#f5e8e2"/>
<rect x="294.80" y="399.80" width="10.97" height="1.05" fill="#f5f3f3"/>
<rect x="294.80" y="400.80" width="10.97" height="0.55" fill="#f1e4dd"/>
<rect x="294.80" y="401.30" width="10.97" height="1.05" fill="#b02a34"/>
<rect x="294.80" y="402.30" width="10.97" height="1.05" fill="#ac2630"/>
<rect x="294.80" y="403.30" width="10.97" height="0.35" fill="#b12b35"/>
<rect x="294.80" y="403.60" width="10.97" height="1.05" fill="#ebb49e"/>
<rect x="294.80" y="404.60" width="10.97" height="0.75" fill="#de8d7d"/>
<rect x="294.80" y="405.30" width="10.97" height="1.05" fill="#f9e3d7"/>
<rect x="294.80" y="406.30" width="10.97" height="0.75" fill="#f5dfd3"/>
<rect x="294.80" y="407.00" width="10.97" height="1.05" fill="#e4e8ed"/>
<rect x="294.80" y="408.00" width="10.97" height="0.85" fill="#f1efef"/>
<rect x="294.80" y="408.80" width="10.97" height="1.05" fill="#f8e2d6"/>
<rect x="294.80" y="409.80" width="10.97" height="0.75" fill="#f7e1d5"/>
<rect x="294.80" y="410.50" width="10.97" height="1.05" fill="#eab39d"/>
<rect x="294.80" y="411.50" width="10.97" height="0.75" fill="#db8a79"/>
<rect x="294.80" y="412.20" width="10.97" height="1.05" fill="#ca6458"/>
<rect x="294.80" y="413.20" width="10.97" height="0.65" fill="#d16b5f"/>
<rect x="294.80" y="413.80" width="10.97" height="1.05" fill="#ab252f"/>
<rect x="294.80" y="414.80" width="10.97" height="1.05" fill="#ae2832"/>
<rect x="294.80" y="415.80" width="10.97" height="1.05" fill="#ac2630"/>
<rect x="294.80" y="416.80" width="10.97" height="1.05" fill="#648cc6"/>
<rect x="294.80" y="417.80" width="10.97" height="0.85" fill="#86a9d4"/>
<rect x="294.80" y="418.60" width="10.97" height="1.05" fill="#ebb49e"/>
<rect x="294.80" y="419.60" width="10.97" height="0.25" fill="#ebb49e"/>
<rect x="294.80" y="419.80" width="10.97" height="1.05" fill="#f5dfd3"/>
<rect x="294.80" y="420.80" width="10.97" height="0.65" fill="#f5dfd3"/>
<rect x="294.80" y="421.40" width="10.97" height="1.05" fill="#ebb49e"/>
<rect x="294.80" y="422.40" width="10.97" height="0.25" fill="#ebb49e"/>
<rect x="294.80" y="422.60" width="10.97" height="1.05" fill="#d9e3ec"/>
<rect x="294.80" y="423.60" width="10.97" height="0.75" fill="#c9dbeb"/>
<rect x="294.80" y="424.30" width="10.97" height="1.05" fill="#b7cfe5"/>
<rect x="294.80" y="425.30" width="10.97" height="1.05" fill="#bcd4ea"/>
<rect x="294.80" y="426.30" width="10.97" height="0.35" fill="#bad2e8"/>
<rect x="294.80" y="426.60" width="10.97" height="1.05" fill="#f0c8b6"/>
<rect x="294.80" y="427.60" width="10.97" height="0.85" fill="#f3e8e3"/>
<rect x="294.80" y="428.40" width="10.97" height="1.05" fill="#5f87c1"/>
<rect x="294.80" y="429.40" width="10.97" height="0.75" fill="#84a7d2"/>
<rect x="294.80" y="430.10" width="10.97" height="1.05" fill="#cadbec"/>
<rect x="294.80" y="431.10" width="10.97" height="1.05" fill="#dee8f1"/>
<rect x="294.80" y="432.10" width="10.97" height="0.35" fill="#e0eaf3"/>
<rect x="294.80" y="432.40" width="10.97" height="1.05" fill="#bcd4ea"/>
<rect x="294.80" y="433.40" width="10.97" height="0.75" fill="#a0bee0"/>
<rect x="294.80" y="434.10" width="10.97" height="1.05" fill="#6890ca"/>
<rect x="294.80" y="435.10" width="10.97" height="0.75" fill="#668ec8"/>
<rect x="294.80" y="435.80" width="10.97" height="1.05" fill="#dbe5ee"/>
<rect x="294.80" y="436.80" width="10.97" height="0.85" fill="#e1ebf4"/>
<rect x="294.80" y="437.60" width="10.97" height="1.05" fill="#f4ded2"/>
<rect x="294.80" y="438.60" width="10.97" height="0.75" fill="#f7e1d5"/>
<rect x="294.80" y="439.30" width="10.97" height="1.05" fill="#dde7f0"/>
<rect x="294.80" y="440.30" width="10.97" height="0.85" fill="#dae4ed"/>
<rect x="294.80" y="441.10" width="10.97" height="1.05" fill="#ebb49e"/>
<rect x="294.80" y="442.10" width="10.97" height="1.05" fill="#ebc7b6"/>
<rect x="294.80" y="443.10" width="10.97" height="0.75" fill="#ecb59f"/>
<rect x="305.72" y="353.80" width="10.97" height="1.05" fill="#f4f2f2"/>
<rect x="305.72" y="354.80" width="10.97" height="1.05" fill="#f2f0f0"/>
<rect x="305.72" y="355.80" width="10.97" height="1.05" fill="#ebb49e"/>
<rect x="305.72" y="356.80" width="10.97" height="1.05" fill="#e6e9ed"/>
<rect x="305.72" y="357.80" width="10.97" height="0.85" fill="#dae4ed"/>
<rect x="305.72" y="358.60" width="10.97" height="1.05" fill="#e9b29c"/>
<rect x="305.72" y="359.60" width="10.97" height="0.85" fill="#edb6a0"/>
<rect x="305.72" y="360.40" width="10.97" height="1.05" fill="#dee8f1"/>
<rect x="305.72" y="361.40" width="10.97" height="0.15" fill="#dee8f1"/>
<rect x="305.72" y="361.50" width="10.97" height="1.05" fill="#e2e6eb"/>
<rect x="305.72" y="362.50" width="10.97" height="1.05" fill="#f1efef"/>
<rect x="305.72" y="363.50" width="10.97" height="0.95" fill="#f2e5de"/>
<rect x="305.72" y="364.40" width="10.97" height="1.05" fill="#f3ddd1"/>
<rect x="305.72" y="365.40" width="10.97" height="1.05" fill="#efc7b5"/>
<rect x="305.72" y="366.40" width="10.97" height="0.45" fill="#eee3de"/>
<rect x="305.72" y="366.80" width="10.97" height="1.05" fill="#cadbeb"/>
<rect x="305.72" y="367.80" width="10.97" height="1.05" fill="#cbdceb"/>
<rect x="305.72" y="368.80" width="10.97" height="1.05" fill="#c9dae9"/>
<rect x="305.72" y="369.80" width="10.97" height="0.45" fill="#c9daea"/>
<rect x="305.72" y="370.20" width="10.97" height="1.05" fill="#4b77bd"/>
<rect x="305.72" y="371.20" width="10.97" height="1.05" fill="#4773b9"/>
<rect x="305.72" y="372.20" width="10.97" height="0.35" fill="#4571b7"/>
<rect x="305.72" y="372.50" width="10.97" height="1.05" fill="#eaedf1"/>
<rect x="305.72" y="373.50" width="10.97" height="0.75" fill="#e0eaf3"/>
<rect x="305.72" y="374.20" width="10.97" height="1.05" fill="#9ab7d8"/>
<rect x="305.72" y="375.20" width="10.97" height="0.65" fill="#a1bedf"/>
<rect x="305.72" y="375.80" width="10.97" height="1.05" fill="#d9e3ec"/>
<rect x="305.72" y="376.80" width="10.97" height="0.95" fill="#e9ecf1"/>
<rect x="305.72" y="377.70" width="10.97" height="1.05" fill="#f9e3d7"/>
<rect x="305.72" y="378.70" width="10.97" height="0.75" fill="#f2dcd0"/>
<rect x="305.72" y="379.40" width="10.97" height="1.05" fill="#e6af99"/>
<rect x="305.72" y="380.40" width="10.97" height="1.05" fill="#efcaba"/>
<rect x="305.72" y="381.40" width="10.97" height="0.45" fill="#f4cfbf"/>
<rect x="305.72" y="381.80" width="10.97" height="1.05" fill="#f5dfd3"/>
<rect x="305.72" y="382.80" width="10.97" height="1.05" fill="#ad2731"/>
<rect x="305.72" y="383.80" width="10.97" height="1.05" fill="#ad2731"/>
<rect x="305.72" y="384.80" width="10.97" height="1.05" fill="#ae2832"/>
<rect x="305.72" y="385.80" width="10.97" height="1.05" fill="#b02a34"/>
<rect x="305.72" y="386.80" width="10.97" height="1.05" fill="#f4cdbc"/>
<rect x="305.72" y="387.80" width="10.97" height="1.05" fill="#f2d5c6"/>
<rect x="305.72" y="388.80" width="10.97" height="1.05" fill="#f4d7c9"/>
<rect x="305.72" y="389.80" width="10.97" height="1.05" fill="#f1dbcf"/>
<rect x="305.72" y="390.80" width="10.97" height="0.75" fill="#f7ece7"/>
<rect x="305.72" y="391.50" width="10.97" height="1.05" fill="#eab39d"/>
<rect x="305.72" y="392.50" width="10.97" height="1.05" fill="#f0cbba"/>
<rect x="305.72" y="393.50" width="10.97" height="0.35" fill="#ecc7b6"/>
<rect x="305.72" y="393.80" width="10.97" height="1.05" fill="#f5f3f3"/>
<rect x="305.72" y="394.80" width="10.97" height="1.05" fill="#efeded"/>
<rect x="305.72" y="395.80" width="10.97" height="1.05" fill="#eeecec"/>
<rect x="305.72" y="396.80" width="10.97" height="0.55" fill="#f3f1f1"/>
<rect x="305.72" y="397.30" width="10.97" height="0.55" fill="#ce685c"/>
<rect x="305.72" y="397.80" width="10.97" height="1.05" fill="#bd4746"/>
<rect x="305.72" y="398.80" width="10.97" height="1.05" fill="#c34d4c"/>
<rect x="305.72" y="399.80" width="10.97" height="1.05" fill="#c04a49"/>
<rect x="305.72" y="400.80" width="10.97" height="1.05" fill="#eab39d"/>
<rect x="305.72" y="401.80" width="10.97" height="1.05" fill="#e8b19b"/>
<rect x="305.72" y="402.80" width="10.97" height="0.25" fill="#f4cfbe"/>
<rect x="305.72" y="403.00" width="10.97" height="1.05" fill="#e2e6eb"/>
<rect x="305.72" y="404.00" width="10.97" height="0.85" fill="#f1e4de"/>
<rect x="305.72" y="404.80" width="10.97" height="1.05" fill="#d78676"/>
<rect x="305.72" y="405.80" width="10.97" height="0.65" fill="#d88777"/>
<rect x="305.72" y="406.40" width="10.97" height="1.05" fill="#f6f4f4"/>
<rect x="305.72" y="407.40" width="10.97" height="0.85" fill="#edebeb"/>
<rect x="305.72" y="408.20" width="10.97" height="1.05" fill="#eeb7a1"/>
<rect x="305.72" y="409.20" width="10.97" height="0.65" fill="#e6af99"/>
<rect x="305.72" y="409.80" width="10.97" height="1.05" fill="#f8e2d6"/>
<rect x="305.72" y="410.80" width="10.97" height="1.05" fill="#f2cab8"/>
<rect x="305.72" y="411.80" width="10.97" height="0.45" fill="#f3cbb9"/>
<rect x="305.72" y="412.20" width="10.97" height="1.05" fill="#de8f7e"/>
<rect x="305.72" y="413.20" width="10.97" height="0.65" fill="#e19281"/>
<rect x="305.72" y="413.80" width="10.97" height="1.05" fill="#f1dbcf"/>
<rect x="305.72" y="414.80" width="10.97" height="1.05" fill="#f4ded2"/>
<rect x="305.72" y="415.80" width="10.97" height="0.55" fill="#f2e7e1"/>
<rect x="305.72" y="416.30" width="10.97" height="1.05" fill="#ebb49e"/>
<rect x="305.72" y="417.30" width="10.97" height="0.55" fill="#ebb49e"/>
<rect x="305.72" y="417.80" width="10.97" height="1.05" fill="#e4e8ed"/>
<rect x="305.72" y="418.80" width="10.97" height="1.05" fill="#f4f2f2"/>
<rect x="305.72" y="419.80" width="10.97" height="1.05" fill="#f4f2f2"/>
<rect x="305.72" y="420.80" width="10.97" height="1.05" fill="#f9e3d7"/>
<rect x="305.72" y="421.80" width="10.97" height="0.85" fill="#f7ece6"/>
<rect x="305.72" y="422.60" width="10.97" height="1.05" fill="#ebb49e"/>
<rect x="305.72" y="423.60" width="10.97" height="0.75" fill="#e6af99"/>
<rect x="305.72" y="424.30" width="10.97" height="1.05" fill="#cd675b"/>
<rect x="305.72" y="425.30" width="10.97" height="0.85" fill="#dc907e"/>
<rect x="305.72" y="426.10" width="10.97" height="1.05" fill="#b5cde3"/>
<rect x="305.72" y="427.10" width="10.97" height="1.05" fill="#b6cee4"/>
<rect x="305.72" y="428.10" width="10.97" height="0.35" fill="#b4cce2"/>
<rect x="305.72" y="428.40" width="10.97" height="1.05" fill="#b5cde3"/>
<rect x="305.72" y="429.40" width="10.97" height="1.05" fill="#b4cce2"/>
<rect x="305.72" y="430.40" width="10.97" height="0.45" fill="#9dbbdd"/>
<rect x="305.72" y="430.80" width="10.97" height="1.05" fill="#dee8f1"/>
<rect x="305.72" y="431.80" width="10.97" height="0.65" fill="#dee8f1"/>
<rect x="305.72" y="432.40" width="10.97" height="1.05" fill="#5882c2"/>
<rect x="305.72" y="433.40" width="10.97" height="0.75" fill="#799ecf"/>
<rect x="305.72" y="434.10" width="10.97" height="1.05" fill="#bcd4ea"/>
<rect x="305.72" y="435.10" width="10.97" height="1.05" fill="#b9d1e7"/>
<rect x="305.72" y="436.10" width="10.97" height="0.35" fill="#a0bee0"/>
<rect x="305.72" y="436.40" width="10.97" height="1.05" fill="#85a8d3"/>
<rect x="305.72" y="437.40" width="10.97" height="0.85" fill="#84a7d2"/>
<rect x="305.72" y="438.20" width="10.97" height="1.05" fill="#edf1f5"/>
<rect x="305.72" y="439.20" width="10.97" height="1.05" fill="#ccdeee"/>
<rect x="305.72" y="440.20" width="10.97" height="0.95" fill="#e0eaf3"/>
<rect x="305.72" y="441.10" width="10.97" height="1.05" fill="#bdd0e4"/>
<rect x="305.72" y="442.10" width="10.97" height="1.05" fill="#a2bfe0"/>
<rect x="305.72" y="443.10" width="10.97" height="0.75" fill="#8daed4"/>
<rect x="316.64" y="353.80" width="10.97" height="1.05" fill="#bbd3e9"/>
<rect x="316.64" y="354.80" width="10.97" height="1.05" fill="#9ab8d9"/>
<rect x="316.64" y="355.80" width="10.97" height="1.05" fill="#e0eaf3"/>
<rect x="316.64" y="356.80" width="10.97" height="1.05" fill="#dce6ef"/>
<rect x="316.64" y="357.80" width="10.97" height="0.35" fill="#dee8f1"/>
<rect x="316.64" y="358.10" width="10.97" height="1.05" fill="#e5e8ec"/>
<rect x="316.64" y="359.10" width="10.97" height="1.05" fill="#dee8f1"/>
<rect x="316.64" y="360.10" width="10.97" height="0.35" fill="#e1ebf4"/>
<rect x="316.64" y="360.40" width="10.97" height="1.05" fill="#f0e4de"/>
<rect x="316.64" y="361.40" width="10.97" height="1.05" fill="#f1e5df"/>
<rect x="316.64" y="362.40" width="10.97" height="0.95" fill="#f1e5df"/>
<rect x="316.64" y="363.30" width="10.97" height="1.05" fill="#9fbcdc"/>
<rect x="316.64" y="364.30" width="10.97" height="0.75" fill="#a0bddc"/>
<rect x="316.64" y="365.00" width="10.97" height="1.05" fill="#dee8f1"/>
<rect x="316.64" y="366.00" width="10.97" height="0.15" fill="#dee8f1"/>
<rect x="316.64" y="366.10" width="10.97" height="1.05" fill="#4470b6"/>
<rect x="316.64" y="367.10" width="10.97" height="1.05" fill="#4975bb"/>
<rect x="316.64" y="368.10" width="10.97" height="0.15" fill="#4773b9"/>
<rect x="316.64" y="368.20" width="10.97" height="1.05" fill="#dbe5ee"/>
<rect x="316.64" y="369.20" width="10.97" height="1.05" fill="#dde7f0"/>
<rect x="316.64" y="370.20" width="10.97" height="1.05" fill="#eceff3"/>
<rect x="316.64" y="371.20" width="10.97" height="1.05" fill="#dbe5ee"/>
<rect x="316.64" y="372.20" width="10.97" height="0.35" fill="#eceff3"/>
<rect x="316.64" y="372.50" width="10.97" height="1.05" fill="#f6f4f4"/>
<rect x="316.64" y="373.50" width="10.97" height="1.05" fill="#f6f4f4"/>
<rect x="316.64" y="374.50" width="10.97" height="0.35" fill="#f5f3f3"/>
<rect x="316.64" y="374.80" width="10.97" height="1.05" fill="#dee8f1"/>
<rect x="316.64" y="375.80" width="10.97" height="1.05" fill="#ce685c"/>
<rect x="316.64" y="376.80" width="10.97" height="0.55" fill="#ce685c"/>
<rect x="316.64" y="377.30" width="10.97" height="1.05" fill="#f5dfd3"/>
<rect x="316.64" y="378.30" width="10.97" height="0.55" fill="#f5dfd3"/>
<rect x="316.64" y="378.80" width="10.97" height="1.05" fill="#ebb49e"/>
<rect x="316.64" y="379.80" width="10.97" height="0.45" fill="#ebb49e"/>
<rect x="316.64" y="380.20" width="10.97" height="1.05" fill="#e5e9ed"/>
<rect x="316.64" y="381.20" width="10.97" height="1.05" fill="#dee8f1"/>
<rect x="316.64" y="382.20" width="10.97" height="0.15" fill="#c6d8e8"/>
<rect x="316.64" y="382.30" width="10.97" height="1.05" fill="#f0dace"/>
<rect x="316.64" y="383.30" width="10.97" height="0.75" fill="#f7ece6"/>
<rect x="316.64" y="384.00" width="10.97" height="1.05" fill="#b3cbe1"/>
<rect x="316.64" y="385.00" width="10.97" height="1.05" fill="#bbd3e9"/>
<rect x="316.64" y="386.00" width="10.97" height="0.35" fill="#cfdfee"/>
<rect x="316.64" y="386.30" width="10.97" height="1.05" fill="#e2ecf5"/>
<rect x="316.64" y="387.30" width="10.97" height="0.85" fill="#e1ebf4"/>
<rect x="316.64" y="388.10" width="10.97" height="1.05" fill="#86a9d4"/>
<rect x="316.64" y="389.10" width="10.97" height="0.15" fill="#86a9d4"/>
<rect x="316.64" y="389.20" width="10.97" height="1.05" fill="#b32d37"/>
<rect x="316.64" y="390.20" width="10.97" height="1.05" fill="#bb4745"/>
<rect x="316.64" y="391.20" width="10.97" height="1.05" fill="#dc907f"/>
<rect x="316.64" y="392.20" width="10.97" height="1.05" fill="#e19483"/>
<rect x="316.64" y="393.20" width="10.97" height="0.15" fill="#dc907e"/>
<rect x="316.64" y="393.30" width="10.97" height="1.05" fill="#db8b7a"/>
<rect x="316.64" y="394.30" width="10.97" height="1.05" fill="#dd8c7c"/>
<rect x="316.64" y="395.30" width="10.97" height="0.35" fill="#ebb49e"/>
<rect x="316.64" y="395.60" width="10.97" height="1.05" fill="#d78676"/>
<rect x="316.64" y="396.60" width="10.97" height="0.75" fill="#d98878"/>
<rect x="316.64" y="397.30" width="10.97" height="0.55" fill="#dc8e7d"/>
<rect x="316.64" y="397.80" width="10.97" height="1.05" fill="#e6af99"/>
<rect x="316.64" y="398.80" width="10.97" height="1.05" fill="#da8978"/>
<rect x="316.64" y="399.80" width="10.97" height="0.35" fill="#d68574"/>
<rect x="316.64" y="400.10" width="10.97" height="1.05" fill="#f5eae5"/>
<rect x="316.64" y="401.10" width="10.97" height="1.05" fill="#f4ded2"/>
<rect x="316.64" y="402.10" width="10.97" height="0.95" fill="#f2dcd0"/>
<rect x="316.64" y="403.00" width="10.97" height="1.05" fill="#e9edf2"/>
<rect x="316.64" y="404.00" width="10.97" height="1.05" fill="#e2e7ec"/>
<rect x="316.64" y="405.00" width="10.97" height="1.05" fill="#f5f3f3"/>
<rect x="316.64" y="406.00" width="10.97" height="0.45" fill="#e7ebf0"/>
<rect x="316.64" y="406.40" width="10.97" height="1.05" fill="#cddeef"/>
<rect x="316.64" y="407.40" width="10.97" height="1.05" fill="#e1ebf4"/>
<rect x="316.64" y="408.40" width="10.97" height="0.95" fill="#dfe9f2"/>
<rect x="316.64" y="409.30" width="10.97" height="1.05" fill="#9dbbdc"/>
<rect x="316.64" y="410.30" width="10.97" height="0.85" fill="#b7cfe5"/>
<rect x="316.64" y="411.10" width="10.97" height="1.05" fill="#89acd7"/>
<rect x="316.64" y="412.10" width="10.97" height="0.75" fill="#84a7d2"/>
<rect x="316.64" y="412.80" width="10.97" height="1.05" fill="#f0dace"/>
<rect x="316.64" y="413.80" width="10.97" height="0.75" fill="#f5dfd3"/>
<rect x="316.64" y="414.50" width="10.97" height="1.05" fill="#cadbe9"/>
<rect x="316.64" y="415.50" width="10.97" height="0.85" fill="#a0bee0"/>
<rect x="316.64" y="416.30" width="10.97" height="1.05" fill="#b8d0e6"/>
<rect x="316.64" y="417.30" width="10.97" height="0.15" fill="#b8d0e6"/>
<rect x="316.64" y="417.40" width="10.97" height="1.05" fill="#be4a48"/>
<rect x="316.64" y="418.40" width="10.97" height="1.05" fill="#ac2630"/>
<rect x="316.64" y="419.40" width="10.97" height="0.95" fill="#b02a34"/>
<rect x="316.64" y="420.30" width="10.97" height="1.05" fill="#edb6a0"/>
<rect x="316.64" y="421.30" width="10.97" height="0.75" fill="#d78675"/>
<rect x="316.64" y="422.00" width="10.97" height="1.05" fill="#eeb7a1"/>
<rect x="316.64" y="423.00" width="10.97" height="0.85" fill="#ebb49e"/>
<rect x="316.64" y="423.80" width="10.97" height="1.05" fill="#f0dace"/>
<rect x="316.64" y="424.80" width="10.97" height="0.75" fill="#f5eae5"/>
<rect x="316.64" y="425.50" width="10.97" height="1.05" fill="#eab39d"/>
<rect x="316.64" y="426.50" width="10.97" height="0.75" fill="#f4cfbe"/>
<rect x="316.64" y="427.20" width="10.97" height="1.05" fill="#b8d0e6"/>
<rect x="316.64" y="428.20" width="10.97" height="0.65" fill="#b8d0e6"/>
<rect x="316.64" y="428.80" width="10.97" height="1.05" fill="#df8e7e"/>
<rect x="316.64" y="429.80" width="10.97" height="0.95" fill="#ebb49e"/>
<rect x="316.64" y="430.70" width="10.97" height="1.05" fill="#f0cbbb"/>
<rect x="316.64" y="431.70" width="10.97" height="0.75" fill="#eeb7a1"/>
<rect x="316.64" y="432.40" width="10.97" height="1.05" fill="#f5dfd3"/>
<rect x="316.64" y="433.40" width="10.97" height="0.75" fill="#f6ebe5"/>
<rect x="316.64" y="434.10" width="10.97" height="1.05" fill="#da8e7d"/>
<rect x="316.64" y="435.10" width="10.97" height="1.05" fill="#e29684"/>
<rect x="316.64" y="436.10" width="10.97" height="0.35" fill="#da8d7c"/>
<rect x="316.64" y="436.40" width="10.97" height="1.05" fill="#ab252f"/>
<rect x="316.64" y="437.40" width="10.97" height="0.85" fill="#af2933"/>
<rect x="316.64" y="438.20" width="10.97" height="1.05" fill="#f2f0f0"/>
<rect x="316.64" y="439.20" width="10.97" height="0.65" fill="#f2f0f0"/>
<rect x="316.64" y="439.80" width="10.97" height="1.05" fill="#81a4cf"/>
<rect x="316.64" y="440.80" width="10.97" height="0.85" fill="#a1bede"/>
<rect x="316.64" y="441.60" width="10.97" height="1.05" fill="#ebb49e"/>
<rect x="316.64" y="442.60" width="10.97" height="1.05" fill="#e9b29c"/>
<rect x="316.64" y="443.60" width="10.97" height="0.25" fill="#ecb59f"/>
<rect x="327.56" y="353.80" width="10.97" height="1.05" fill="#4874ba"/>
<rect x="327.56" y="354.80" width="10.97" height="0.45" fill="#4874ba"/>
<rect x="327.56" y="355.20" width="10.97" height="1.05" fill="#b8d0e6"/>
<rect x="327.56" y="356.20" width="10.97" height="0.15" fill="#b8d0e6"/>
<rect x="327.56" y="356.30" width="10.97" height="1.05" fill="#8aadd8"/>
<rect x="327.56" y="357.30" width="10.97" height="0.85" fill="#9ebbda"/>
<rect x="327.56" y="358.10" width="10.97" height="1.05" fill="#82a5d0"/>
<rect x="327.56" y="359.10" width="10.97" height="1.05" fill="#5f87c1"/>
<rect x="327.56" y="360.10" width="10.97" height="1.05" fill="#8aadd8"/>
<rect x="327.56" y="361.10" width="10.97" height="1.05" fill="#a0bddc"/>
<rect x="327.56" y="362.10" width="10.97" height="1.05" fill="#87aad5"/>
<rect x="327.56" y="363.10" width="10.97" height="1.05" fill="#628ac4"/>
<rect x="327.56" y="364.10" width="10.97" height="0.95" fill="#6088c2"/>
<rect x="327.56" y="365.00" width="10.97" height="1.05" fill="#b7cfe5"/>
<rect x="327.56" y="366.00" width="10.97" height="1.05" fill="#b7cfe5"/>
<rect x="327.56" y="367.00" width="10.97" height="0.35" fill="#b8d0e6"/>
<rect x="327.56" y="367.30" width="10.97" height="1.05" fill="#dce6ef"/>
<rect x="327.56" y="368.30" width="10.97" height="1.05" fill="#dbe5ee"/>
<rect x="327.56" y="369.30" width="10.97" height="0.35" fill="#dbe5ee"/>
<rect x="327.56" y="369.60" width="10.97" height="1.05" fill="#efeded"/>
<rect x="327.56" y="370.60" width="10.97" height="0.75" fill="#f3f1f1"/>
<rect x="327.56" y="371.30" width="10.97" height="1.05" fill="#f7d9cb"/>
<rect x="327.56" y="372.30" width="10.97" height="1.05" fill="#f1cab9"/>
<rect x="327.56" y="373.30" width="10.97" height="1.05" fill="#ebc5b4"/>
<rect x="327.56" y="374.30" width="10.97" height="0.55" fill="#edc7b6"/>
<rect x="327.56" y="374.80" width="10.97" height="1.05" fill="#f2f0f0"/>
<rect x="327.56" y="375.80" width="10.97" height="1.05" fill="#b1cbe6"/>
<rect x="327.56" y="376.80" width="10.97" height="1.05" fill="#7096cb"/>
<rect x="327.56" y="377.80" width="10.97" height="0.55" fill="#9dbbdb"/>
<rect x="327.56" y="378.30" width="10.97" height="1.05" fill="#eaeff4"/>
<rect x="327.56" y="379.30" width="10.97" height="0.95" fill="#f0eeee"/>
<rect x="327.56" y="380.20" width="10.97" height="1.05" fill="#bbd3e9"/>
<rect x="327.56" y="381.20" width="10.97" height="1.05" fill="#cdddec"/>
<rect x="327.56" y="382.20" width="10.97" height="0.15" fill="#98b6d7"/>
<rect x="327.56" y="382.30" width="10.97" height="1.05" fill="#f0dace"/>
<rect x="327.56" y="383.30" width="10.97" height="0.75" fill="#f6e0d4"/>
<rect x="327.56" y="384.00" width="10.97" height="1.05" fill="#bbd3e9"/>
<rect x="327.56" y="385.00" width="10.97" height="0.85" fill="#cedeed"/>
<rect x="327.56" y="385.80" width="10.97" height="1.05" fill="#84a7d2"/>
<rect x="327.56" y="386.80" width="10.97" height="1.05" fill="#84a7d2"/>
<rect x="327.56" y="387.80" width="10.97" height="1.05" fill="#87aad5"/>
<rect x="327.56" y="388.80" width="10.97" height="1.05" fill="#dee8f1"/>
<rect x="327.56" y="389.80" width="10.97" height="1.05" fill="#efb8a2"/>
<rect x="327.56" y="390.80" width="10.97" height="1.05" fill="#e9b29c"/>
<rect x="327.56" y="391.80" width="10.97" height="0.35" fill="#ecb59f"/>
<rect x="327.56" y="392.10" width="10.97" height="1.05" fill="#e29685"/>
<rect x="327.56" y="393.10" width="10.97" height="1.05" fill="#cf695d"/>
<rect x="327.56" y="394.10" width="10.97" height="0.35" fill="#d26c60"/>
<rect x="327.56" y="394.40" width="10.97" height="1.05" fill="#bf4948"/>
<rect x="327.56" y="395.40" width="10.97" height="1.05" fill="#c24c4b"/>
<rect x="327.56" y="396.40" width="10.97" height="0.95" fill="#ba4443"/>
<rect x="327.56" y="397.30" width="10.97" height="0.55" fill="#ebb49e"/>
<rect x="327.56" y="397.80" width="10.97" height="1.05" fill="#d78978"/>
<rect x="327.56" y="398.80" width="10.97" height="1.05" fill="#de8f7e"/>
<rect x="327.56" y="399.80" width="10.97" height="0.35" fill="#e09281"/>
<rect x="327.56" y="400.10" width="10.97" height="1.05" fill="#efb8a2"/>
<rect x="327.56" y="401.10" width="10.97" height="1.05" fill="#eeb7a1"/>
<rect x="327.56" y="402.10" width="10.97" height="0.95" fill="#edc8b7"/>
<rect x="327.56" y="403.00" width="10.97" height="1.05" fill="#efb8a2"/>
<rect x="327.56" y="404.00" width="10.97" height="0.85" fill="#d68574"/>
<rect x="327.56" y="404.80" width="10.97" height="1.05" fill="#c65957"/>
<rect x="327.56" y="405.80" width="10.97" height="0.65" fill="#bf5250"/>
<rect x="327.56" y="406.40" width="10.97" height="1.05" fill="#f0cbbb"/>
<rect x="327.56" y="407.40" width="10.97" height="1.05" fill="#f3cebd"/>
<rect x="327.56" y="408.40" width="10.97" height="0.45" fill="#eab39d"/>
<rect x="327.56" y="408.80" width="10.97" height="1.05" fill="#b02a34"/>
<rect x="327.56" y="409.80" width="10.97" height="1.05" fill="#af2933"/>
<rect x="327.56" y="410.80" width="10.97" height="0.65" fill="#ac2630"/>
<rect x="327.56" y="411.40" width="10.97" height="1.05" fill="#f5dfd3"/>
<rect x="327.56" y="412.40" width="10.97" height="0.45" fill="#f5dfd3"/>
<rect x="327.56" y="412.80" width="10.97" height="1.05" fill="#dee8f1"/>
<rect x="327.56" y="413.80" width="10.97" height="1.05" fill="#eeecec"/>
<rect x="327.56" y="414.80" width="10.97" height="1.05" fill="#f2f0f0"/>
<rect x="327.56" y="415.80" width="10.97" height="0.55" fill="#f3f1f1"/>
<rect x="327.56" y="416.30" width="10.97" height="1.05" fill="#f5dfd3"/>
<rect x="327.56" y="417.30" width="10.97" height="0.55" fill="#f5dfd3"/>
<rect x="327.56" y="417.80" width="10.97" height="1.05" fill="#8aadd8"/>
<rect x="327.56" y="418.80" width="10.97" height="1.05" fill="#9cb9d9"/>
<rect x="327.56" y="419.80" width="10.97" height="0.55" fill="#88abd6"/>
<rect x="327.56" y="420.30" width="10.97" height="1.05" fill="#ac2630"/>
<rect x="327.56" y="421.30" width="10.97" height="1.05" fill="#bb4745"/>
<rect x="327.56" y="422.30" width="10.97" height="0.15" fill="#b42e38"/>
<rect x="327.56" y="422.40" width="10.97" height="1.05" fill="#f4f2f2"/>
<rect x="327.56" y="423.40" width="10.97" height="1.05" fill="#f2e5de"/>
<rect x="327.56" y="424.40" width="10.97" height="0.45" fill="#e4e9ee"/>
<rect x="327.56" y="424.80" width="10.97" height="1.05" fill="#dce6ef"/>
<rect x="327.56" y="425.80" width="10.97" height="0.85" fill="#dfe9f2"/>
<rect x="327.56" y="426.60" width="10.97" height="1.05" fill="#ebb49e"/>
<rect x="327.56" y="427.60" width="10.97" height="0.45" fill="#ebb49e"/>
<rect x="327.56" y="428.00" width="10.97" height="1.05" fill="#f2f0f0"/>
<rect x="327.56" y="429.00" width="10.97" height="0.55" fill="#f2f0f0"/>
<rect x="327.56" y="429.50" width="10.97" height="1.05" fill="#efb8a2"/>
<rect x="327.56" y="430.50" width="10.97" height="0.85" fill="#ebb49e"/>
<rect x="327.56" y="431.30" width="10.97" height="1.05" fill="#efcaba"/>
<rect x="327.56" y="432.30" width="10.97" height="0.75" fill="#edc8b8"/>
<rect x="327.56" y="433.00" width="10.97" height="1.05" fill="#ae2832"/>
<rect x="327.56" y="434.00" width="10.97" height="1.05" fill="#be4a48"/>
<rect x="327.56" y="435.00" width="10.97" height="1.05" fill="#ebb49e"/>
<rect x="327.56" y="436.00" width="10.97" height="0.45" fill="#ebb49e"/>
<rect x="327.56" y="436.40" width="10.97" height="1.05" fill="#f3cfbe"/>
<rect x="327.56" y="437.40" width="10.97" height="1.05" fill="#db8a7a"/>
<rect x="327.56" y="438.40" width="10.97" height="0.45" fill="#ecb59f"/>
<rect x="327.56" y="438.80" width="10.97" height="1.05" fill="#f5dfd3"/>
<rect x="327.56" y="439.80" width="10.97" height="1.05" fill="#d68575"/>
<rect x="327.56" y="440.80" width="10.97" height="1.05" fill="#ebb49e"/>
<rect x="327.56" y="441.80" width="10.97" height="0.45" fill="#dd8c7c"/>
<rect x="327.56" y="442.20" width="10.97" height="1.05" fill="#ebb49e"/>
<rect x="327.56" y="443.20" width="10.97" height="0.65" fill="#ebb49e"/>
<rect x="338.48" y="353.80" width="10.97" height="1.05" fill="#9ab7d8"/>
<rect x="338.48" y="354.80" width="10.97" height="1.05" fill="#7399ce"/>
<rect x="338.48" y="355.80" width="10.97" height="1.05" fill="#eceff3"/>
<rect x="338.48" y="356.80" width="10.97" height="0.75" fill="#dce6ef"/>
<rect x="338.48" y="357.50" width="10.97" height="1.05" fill="#86a9d4"/>
<rect x="338.48" y="358.50" width="10.97" height="1.05" fill="#5f87c1"/>
<rect x="338.48" y="359.50" width="10.97" height="0.35" fill="#86a9d4"/>
<rect x="338.48" y="359.80" width="10.97" height="1.05" fill="#f6f4f4"/>
<rect x="338.48" y="360.80" width="10.97" height="0.75" fill="#f2e5de"/>
<rect x="338.48" y="361.50" width="10.97" height="1.05" fill="#436fb5"/>
<rect x="338.48" y="362.50" width="10.97" height="1.05" fill="#4b77bd"/>
<rect x="338.48" y="363.50" width="10.97" height="0.15" fill="#4470b6"/>
<rect x="338.48" y="363.60" width="10.97" height="1.05" fill="#f4e9e4"/>
<rect x="338.48" y="364.60" width="10.97" height="1.05" fill="#f0dace"/>
<rect x="338.48" y="365.60" width="10.97" height="1.05" fill="#b8d0e6"/>
<rect x="338.48" y="366.60" width="10.97" height="0.75" fill="#cedeed"/>
<rect x="338.48" y="367.30" width="10.97" height="1.05" fill="#c9dbeb"/>
<rect x="338.48" y="368.30" width="10.97" height="1.05" fill="#dde7f0"/>
<rect x="338.48" y="369.30" width="10.97" height="0.35" fill="#e2ecf5"/>
<rect x="338.48" y="369.60" width="10.97" height="1.05" fill="#f0dace"/>
<rect x="338.48" y="370.60" width="10.97" height="0.75" fill="#f4ded2"/>
<rect x="338.48" y="371.30" width="10.97" height="1.05" fill="#f0eeee"/>
<rect x="338.48" y="372.30" width="10.97" height="0.85" fill="#e6eaef"/>
<rect x="338.48" y="373.10" width="10.97" height="1.05" fill="#eeb7a1"/>
<rect x="338.48" y="374.10" width="10.97" height="0.75" fill="#eeb7a1"/>
<rect x="338.48" y="374.80" width="10.97" height="1.05" fill="#b6cee4"/>
<rect x="338.48" y="375.80" width="10.97" height="1.05" fill="#bad2e8"/>
<rect x="338.48" y="376.80" width="10.97" height="0.35" fill="#b6cee4"/>
<rect x="338.48" y="377.10" width="10.97" height="1.05" fill="#de9587"/>
<rect x="338.48" y="378.10" width="10.97" height="0.75" fill="#d98f81"/>
<rect x="338.48" y="378.80" width="10.97" height="1.05" fill="#678fc9"/>
<rect x="338.48" y="379.80" width="10.97" height="1.05" fill="#638bc5"/>
<rect x="338.48" y="380.80" width="10.97" height="1.05" fill="#6890ca"/>
<rect x="338.48" y="381.80" width="10.97" height="1.05" fill="#efc9b8"/>
<rect x="338.48" y="382.80" width="10.97" height="0.65" fill="#eec8b7"/>
<rect x="338.48" y="383.40" width="10.97" height="1.05" fill="#eeecec"/>
<rect x="338.48" y="384.40" width="10.97" height="1.05" fill="#eeecec"/>
<rect x="338.48" y="385.40" width="10.97" height="0.45" fill="#f0e3dd"/>
<rect x="338.48" y="385.80" width="10.97" height="1.05" fill="#658dc7"/>
<rect x="338.48" y="386.80" width="10.97" height="1.05" fill="#85a8d3"/>
<rect x="338.48" y="387.80" width="10.97" height="0.85" fill="#85a8d3"/>
<rect x="338.48" y="388.60" width="10.97" height="1.05" fill="#f2f0f0"/>
<rect x="338.48" y="389.60" width="10.97" height="0.25" fill="#f2f0f0"/>
<rect x="338.48" y="389.80" width="10.97" height="1.05" fill="#e7b09a"/>
<rect x="338.48" y="390.80" width="10.97" height="1.05" fill="#efcaba"/>
<rect x="338.48" y="391.80" width="10.97" height="0.35" fill="#edc8b8"/>
<rect x="338.48" y="392.10" width="10.97" height="1.05" fill="#f0c8b6"/>
<rect x="338.48" y="393.10" width="10.97" height="0.75" fill="#f2cab8"/>
<rect x="338.48" y="393.80" width="10.97" height="1.05" fill="#de907f"/>
<rect x="338.48" y="394.80" width="10.97" height="1.05" fill="#dd8f7e"/>
<rect x="338.48" y="395.80" width="10.97" height="1.05" fill="#e19281"/>
<rect x="338.48" y="396.80" width="10.97" height="0.55" fill="#dc8d7c"/>
<rect x="338.48" y="397.30" width="10.97" height="0.55" fill="#ebb49e"/>
<rect x="338.48" y="397.80" width="10.97" height="1.05" fill="#f2dcd0"/>
<rect x="338.48" y="398.80" width="10.97" height="1.05" fill="#ebc3b1"/>
<rect x="338.48" y="399.80" width="10.97" height="1.05" fill="#f0dace"/>
<rect x="338.48" y="400.80" width="10.97" height="1.05" fill="#ebb49e"/>
<rect x="338.48" y="401.80" width="10.97" height="1.05" fill="#eec9b9"/>
<rect x="338.48" y="402.80" width="10.97" height="0.25" fill="#de8d7c"/>
<rect x="338.48" y="403.00" width="10.97" height="1.05" fill="#edc8b8"/>
<rect x="338.48" y="404.00" width="10.97" height="0.85" fill="#e7b09a"/>
<rect x="338.48" y="404.80" width="10.97" height="1.05" fill="#b02a34"/>
<rect x="338.48" y="405.80" width="10.97" height="1.05" fill="#b42e38"/>
<rect x="338.48" y="406.80" width="10.97" height="1.05" fill="#ae2832"/>
<rect x="338.48" y="407.80" width="10.97" height="1.05" fill="#c24e4c"/>
<rect x="338.48" y="408.80" width="10.97" height="1.05" fill="#d78675"/>
<rect x="338.48" y="409.80" width="10.97" height="0.75" fill="#f0ccbb"/>
<rect x="338.48" y="410.50" width="10.97" height="1.05" fill="#da8b7a"/>
<rect x="338.48" y="411.50" width="10.97" height="0.75" fill="#c15452"/>
<rect x="338.48" y="412.20" width="10.97" height="1.05" fill="#edc5b3"/>
<rect x="338.48" y="413.20" width="10.97" height="1.05" fill="#f3cbb9"/>
<rect x="338.48" y="414.20" width="10.97" height="0.35" fill="#f6e0d4"/>
<rect x="338.48" y="414.50" width="10.97" height="1.05" fill="#e0eaf3"/>
<rect x="338.48" y="415.50" width="10.97" height="1.05" fill="#dfe9f2"/>
<rect x="338.48" y="416.50" width="10.97" height="0.35" fill="#ebeff3"/>
<rect x="338.48" y="416.80" width="10.97" height="1.05" fill="#eab39d"/>
<rect x="338.48" y="417.80" width="10.97" height="1.05" fill="#ecb59f"/>
<rect x="338.48" y="418.80" width="10.97" height="0.35" fill="#eab39d"/>
<rect x="338.48" y="419.10" width="10.97" height="1.05" fill="#f1e6e1"/>
<rect x="338.48" y="420.10" width="10.97" height="0.75" fill="#f0c8b6"/>
<rect x="338.48" y="420.80" width="10.97" height="1.05" fill="#d9e3ec"/>
<rect x="338.48" y="421.80" width="10.97" height="0.85" fill="#dee8f1"/>
<rect x="338.48" y="422.60" width="10.97" height="1.05" fill="#6c93ca"/>
<rect x="338.48" y="423.60" width="10.97" height="1.05" fill="#4470b6"/>
<rect x="338.48" y="424.60" width="10.97" height="1.05" fill="#e7b09a"/>
<rect x="338.48" y="425.60" width="10.97" height="1.05" fill="#e9b29c"/>
<rect x="338.48" y="426.60" width="10.97" height="1.05" fill="#c96357"/>
<rect x="338.48" y="427.60" width="10.97" height="1.05" fill="#b94141"/>
<rect x="338.48" y="428.60" width="10.97" height="0.95" fill="#d26c60"/>
<rect x="338.48" y="429.50" width="10.97" height="1.05" fill="#b32d37"/>
<rect x="338.48" y="430.50" width="10.97" height="1.05" fill="#b02a34"/>
<rect x="338.48" y="431.50" width="10.97" height="1.05" fill="#ab252f"/>
<rect x="338.48" y="432.50" width="10.97" height="0.55" fill="#b12b35"/>
<rect x="338.48" y="433.00" width="10.97" height="1.05" fill="#f7eae3"/>
<rect x="338.48" y="434.00" width="10.97" height="0.85" fill="#e6ebf0"/>
<rect x="338.48" y="434.80" width="10.97" height="1.05" fill="#e6af99"/>
<rect x="338.48" y="435.80" width="10.97" height="1.05" fill="#f4cfbf"/>
<rect x="338.48" y="436.80" width="10.97" height="0.25" fill="#eec9b8"/>
<rect x="338.48" y="437.00" width="10.97" height="1.05" fill="#d26c60"/>
<rect x="338.48" y="438.00" width="10.97" height="1.05" fill="#d26c60"/>
<rect x="338.48" y="439.00" width="10.97" height="0.35" fill="#d16b5f"/>
<rect x="338.48" y="439.30" width="10.97" height="1.05" fill="#f0dace"/>
<rect x="338.48" y="440.30" width="10.97" height="0.85" fill="#f5dfd3"/>
<rect x="338.48" y="441.10" width="10.97" height="1.05" fill="#ecb59f"/>
<rect x="338.48" y="442.10" width="10.97" height="1.05" fill="#df8e7e"/>
<rect x="338.48" y="443.10" width="10.97" height="0.75" fill="#df8e7e"/>
</g>
<g filter="url(#hb)" shape-rendering="crispEdges">
<rect x="400.65" y="353.80" width="98.10" height="89.55" fill="#eee"/>
<rect x="400.65" y="353.80" width="10.95" height="1.04" fill="#b8d0e6"/>
<rect x="400.65" y="354.80" width="10.95" height="0.45" fill="#b8d0e6"/>
<rect x="400.65" y="355.19" width="10.95" height="1.04" fill="#f2f0f0"/>
<rect x="400.65" y="356.19" width="10.95" height="0.65" fill="#f2f0f0"/>
<rect x="400.65" y="356.79" width="10.95" height="1.04" fill="#edc5b3"/>
<rect x="400.65" y="357.78" width="10.95" height="0.85" fill="#eec6b4"/>
<rect x="400.65" y="358.58" width="10.95" height="1.04" fill="#dfe9f2"/>
<rect x="400.65" y="359.57" width="10.95" height="0.85" fill="#dee8f1"/>
<rect x="400.65" y="360.37" width="10.95" height="1.04" fill="#de8d7c"/>
<rect x="400.65" y="361.36" width="10.95" height="0.75" fill="#f5d0bf"/>
<rect x="400.65" y="362.06" width="10.95" height="1.04" fill="#dee8f1"/>
<rect x="400.65" y="363.05" width="10.95" height="0.55" fill="#dee8f1"/>
<rect x="400.65" y="363.55" width="10.95" height="1.04" fill="#df9180"/>
<rect x="400.65" y="364.55" width="10.95" height="1.04" fill="#c25553"/>
<rect x="400.65" y="365.54" width="10.95" height="1.04" fill="#f3cbb9"/>
<rect x="400.65" y="366.54" width="10.95" height="0.75" fill="#f5dfd3"/>
<rect x="400.65" y="367.23" width="10.95" height="1.04" fill="#f0eeee"/>
<rect x="400.65" y="368.23" width="10.95" height="1.04" fill="#e6ebf0"/>
<rect x="400.65" y="369.22" width="10.95" height="0.35" fill="#e3e8ed"/>
<rect x="400.65" y="369.52" width="10.95" height="1.04" fill="#9cbadb"/>
<rect x="400.65" y="370.52" width="10.95" height="1.04" fill="#b4cce2"/>
<rect x="400.65" y="371.51" width="10.95" height="0.25" fill="#b9d1e7"/>
<rect x="400.65" y="371.71" width="10.95" height="1.04" fill="#f2f0f0"/>
<rect x="400.65" y="372.71" width="10.95" height="0.35" fill="#f2f0f0"/>
<rect x="400.65" y="373.00" width="10.95" height="1.04" fill="#ebb49e"/>
<rect x="400.65" y="374.00" width="10.95" height="0.75" fill="#d68574"/>
<rect x="400.65" y="374.69" width="10.95" height="1.04" fill="#f2f0f0"/>
<rect x="400.65" y="375.69" width="10.95" height="1.04" fill="#c25552"/>
<rect x="400.65" y="376.69" width="10.95" height="0.65" fill="#de8f7e"/>
<rect x="400.65" y="377.28" width="10.95" height="1.04" fill="#dee8f1"/>
<rect x="400.65" y="378.28" width="10.95" height="0.45" fill="#dee8f1"/>
<rect x="400.65" y="378.68" width="10.95" height="1.04" fill="#cdddec"/>
<rect x="400.65" y="379.67" width="10.95" height="0.85" fill="#ccdceb"/>
<rect x="400.65" y="380.47" width="10.95" height="1.04" fill="#ebb49e"/>
<rect x="400.65" y="381.46" width="10.95" height="0.25" fill="#ebb49e"/>
<rect x="400.65" y="381.66" width="10.95" height="1.04" fill="#a0bddc"/>
<rect x="400.65" y="382.66" width="10.95" height="1.04" fill="#a6c3e2"/>
<rect x="400.65" y="383.65" width="10.95" height="0.85" fill="#85a8d3"/>
<rect x="400.65" y="384.45" width="10.95" height="1.04" fill="#efeded"/>
<rect x="400.65" y="385.44" width="10.95" height="1.04" fill="#efeded"/>
<rect x="400.65" y="386.44" width="10.95" height="0.25" fill="#f2f0f0"/>
<rect x="400.65" y="386.63" width="10.95" height="1.04" fill="#f0dace"/>
<rect x="400.65" y="387.63" width="10.95" height="0.85" fill="#f3cbb9"/>
<rect x="400.65" y="388.43" width="10.95" height="1.04" fill="#a0bddc"/>
<rect x="400.65" y="389.42" width="10.95" height="1.04" fill="#6088c2"/>
<rect x="400.65" y="390.42" width="10.95" height="1.04" fill="#8aadd8"/>
<rect x="400.65" y="391.41" width="10.95" height="0.55" fill="#84a7d2"/>
<rect x="400.65" y="391.91" width="10.95" height="1.04" fill="#dae4ed"/>
<rect x="400.65" y="392.90" width="10.95" height="1.04" fill="#edf0f4"/>
<rect x="400.65" y="393.90" width="10.95" height="0.35" fill="#cbdcec"/>
<rect x="400.65" y="394.20" width="10.95" height="1.04" fill="#e9b29c"/>
<rect x="400.65" y="395.19" width="10.95" height="0.75" fill="#df8e7d"/>
<rect x="400.65" y="395.89" width="10.95" height="1.04" fill="#b42e38"/>
<rect x="400.65" y="396.88" width="10.95" height="0.75" fill="#c24d4b"/>
<rect x="400.65" y="397.58" width="10.95" height="1.04" fill="#bd4846"/>
<rect x="400.65" y="398.57" width="10.95" height="0.75" fill="#b22c36"/>
<rect x="400.65" y="399.27" width="10.95" height="1.04" fill="#f2f0f0"/>
<rect x="400.65" y="400.27" width="10.95" height="0.35" fill="#f2f0f0"/>
<rect x="400.65" y="400.56" width="10.95" height="1.04" fill="#b8d0e6"/>
<rect x="400.65" y="401.56" width="10.95" height="0.45" fill="#b8d0e6"/>
<rect x="400.65" y="401.96" width="10.95" height="1.04" fill="#f2f0f0"/>
<rect x="400.65" y="402.95" width="10.95" height="0.45" fill="#f2f0f0"/>
<rect x="400.65" y="403.35" width="10.95" height="1.04" fill="#e1988a"/>
<rect x="400.65" y="404.35" width="10.95" height="1.04" fill="#ebc4b3"/>
<rect x="400.65" y="405.34" width="10.95" height="0.25" fill="#f4cebd"/>
<rect x="400.65" y="405.54" width="10.95" height="1.04" fill="#e8edf2"/>
<rect x="400.65" y="406.54" width="10.95" height="0.85" fill="#e8ecf1"/>
<rect x="400.65" y="407.33" width="10.95" height="1.04" fill="#e0eaf3"/>
<rect x="400.65" y="408.33" width="10.95" height="0.75" fill="#dde7f0"/>
<rect x="400.65" y="409.02" width="10.95" height="1.04" fill="#f5f3f3"/>
<rect x="400.65" y="410.02" width="10.95" height="0.85" fill="#eeecec"/>
<rect x="400.65" y="410.81" width="10.95" height="1.04" fill="#ebf0f5"/>
<rect x="400.65" y="411.81" width="10.95" height="1.04" fill="#f4e7e0"/>
<rect x="400.65" y="412.80" width="10.95" height="0.75" fill="#eeecec"/>
<rect x="400.65" y="413.50" width="10.95" height="1.04" fill="#f5dfd3"/>
<rect x="400.65" y="414.50" width="10.95" height="0.35" fill="#f5dfd3"/>
<rect x="400.65" y="414.79" width="10.95" height="1.04" fill="#ba4343"/>
<rect x="400.65" y="415.79" width="10.95" height="0.75" fill="#cd675b"/>
<rect x="400.65" y="416.49" width="10.95" height="1.04" fill="#f4e7e1"/>
<rect x="400.65" y="417.48" width="10.95" height="1.04" fill="#e3e8ed"/>
<rect x="400.65" y="418.48" width="10.95" height="0.35" fill="#ebf0f5"/>
<rect x="400.65" y="418.77" width="10.95" height="1.04" fill="#658dc7"/>
<rect x="400.65" y="419.77" width="10.95" height="0.75" fill="#6088c2"/>
<rect x="400.65" y="420.47" width="10.95" height="1.04" fill="#efc8b7"/>
<rect x="400.65" y="421.46" width="10.95" height="1.04" fill="#edc7b6"/>
<rect x="400.65" y="422.46" width="10.95" height="0.45" fill="#efc9b8"/>
<rect x="400.65" y="422.85" width="10.95" height="1.04" fill="#f3f1f1"/>
<rect x="400.65" y="423.85" width="10.95" height="1.04" fill="#f3f1f1"/>
<rect x="400.65" y="424.84" width="10.95" height="0.95" fill="#f2f0f0"/>
<rect x="400.65" y="425.74" width="10.95" height="1.04" fill="#bad2e8"/>
<rect x="400.65" y="426.73" width="10.95" height="0.75" fill="#b6cee4"/>
<rect x="400.65" y="427.43" width="10.95" height="1.04" fill="#efc8b7"/>
<rect x="400.65" y="428.43" width="10.95" height="0.75" fill="#eec7b6"/>
<rect x="400.65" y="429.12" width="10.95" height="1.04" fill="#cadcec"/>
<rect x="400.65" y="430.12" width="10.95" height="0.85" fill="#dee8f1"/>
<rect x="400.65" y="430.91" width="10.95" height="1.04" fill="#ce685c"/>
<rect x="400.65" y="431.91" width="10.95" height="0.15" fill="#ce685c"/>
<rect x="400.65" y="432.01" width="10.95" height="1.04" fill="#f6f4f4"/>
<rect x="400.65" y="433.00" width="10.95" height="0.75" fill="#e5eaef"/>
<rect x="400.65" y="433.70" width="10.95" height="1.04" fill="#668dc6"/>
<rect x="400.65" y="434.69" width="10.95" height="0.75" fill="#6a91ca"/>
<rect x="400.65" y="435.39" width="10.95" height="1.04" fill="#e2e7ec"/>
<rect x="400.65" y="436.38" width="10.95" height="1.04" fill="#efe2db"/>
<rect x="400.65" y="437.38" width="10.95" height="0.45" fill="#efeded"/>
<rect x="400.65" y="437.78" width="10.95" height="1.04" fill="#d9e3ec"/>
<rect x="400.65" y="438.77" width="10.95" height="1.04" fill="#dbe5ee"/>
<rect x="400.65" y="439.77" width="10.95" height="0.35" fill="#ebeff3"/>
<rect x="400.65" y="440.07" width="10.95" height="1.04" fill="#85a8d3"/>
<rect x="400.65" y="441.06" width="10.95" height="0.75" fill="#8aadd8"/>
<rect x="400.65" y="441.76" width="10.95" height="1.04" fill="#dee8f1"/>
<rect x="400.65" y="442.75" width="10.95" height="0.65" fill="#dee8f1"/>
<rect x="411.55" y="353.80" width="10.95" height="1.04" fill="#f0cbba"/>
<rect x="411.55" y="354.80" width="10.95" height="1.04" fill="#efb8a2"/>
<rect x="411.55" y="355.79" width="10.95" height="1.04" fill="#f3f1f1"/>
<rect x="411.55" y="356.79" width="10.95" height="1.04" fill="#efeded"/>
<rect x="411.55" y="357.78" width="10.95" height="1.04" fill="#bc4846"/>
<rect x="411.55" y="358.78" width="10.95" height="1.04" fill="#b32d37"/>
<rect x="411.55" y="359.77" width="10.95" height="1.04" fill="#ac2630"/>
<rect x="411.55" y="360.76" width="10.95" height="1.04" fill="#d98877"/>
<rect x="411.55" y="361.76" width="10.95" height="0.95" fill="#efb8a2"/>
<rect x="411.55" y="362.66" width="10.95" height="1.04" fill="#f1efef"/>
<rect x="411.55" y="363.65" width="10.95" height="0.75" fill="#f5e8e1"/>
<rect x="411.55" y="364.35" width="10.95" height="1.04" fill="#f8ede7"/>
<rect x="411.55" y="365.34" width="10.95" height="1.04" fill="#f9e3d7"/>
<rect x="411.55" y="366.34" width="10.95" height="0.45" fill="#f1e6e1"/>
<rect x="411.55" y="366.74" width="10.95" height="1.04" fill="#ebb49e"/>
<rect x="411.55" y="367.73" width="10.95" height="0.65" fill="#ebb49e"/>
<rect x="411.55" y="368.33" width="10.95" height="1.04" fill="#e2ecf5"/>
<rect x="411.55" y="369.32" width="10.95" height="0.85" fill="#dae4ed"/>
<rect x="411.55" y="370.12" width="10.95" height="1.04" fill="#e6af99"/>
<rect x="411.55" y="371.11" width="10.95" height="0.65" fill="#edb6a0"/>
<rect x="411.55" y="371.71" width="10.95" height="1.04" fill="#bbd3e9"/>
<rect x="411.55" y="372.71" width="10.95" height="1.04" fill="#bcd4ea"/>
<rect x="411.55" y="373.70" width="10.95" height="1.04" fill="#9cbadc"/>
<rect x="411.55" y="374.69" width="10.95" height="1.04" fill="#b3cbe1"/>
<rect x="411.55" y="375.69" width="10.95" height="1.04" fill="#b7cfe5"/>
<rect x="411.55" y="376.69" width="10.95" height="0.35" fill="#b5cde3"/>
<rect x="411.55" y="376.98" width="10.95" height="1.04" fill="#86a9d4"/>
<rect x="411.55" y="377.98" width="10.95" height="0.25" fill="#86a9d4"/>
<rect x="411.55" y="378.18" width="10.95" height="1.04" fill="#efe4df"/>
<rect x="411.55" y="379.17" width="10.95" height="0.95" fill="#edc5b4"/>
<rect x="411.55" y="380.07" width="10.95" height="1.04" fill="#d68574"/>
<rect x="411.55" y="381.06" width="10.95" height="1.04" fill="#e9b29c"/>
<rect x="411.55" y="382.06" width="10.95" height="0.15" fill="#f4cfbf"/>
<rect x="411.55" y="382.16" width="10.95" height="1.04" fill="#f6f4f4"/>
<rect x="411.55" y="383.15" width="10.95" height="0.75" fill="#e5e9ee"/>
<rect x="411.55" y="383.85" width="10.95" height="1.04" fill="#efe2db"/>
<rect x="411.55" y="384.84" width="10.95" height="0.85" fill="#f1efef"/>
<rect x="411.55" y="385.64" width="10.95" height="1.04" fill="#c6d8e8"/>
<rect x="411.55" y="386.63" width="10.95" height="0.75" fill="#e6e9ed"/>
<rect x="411.55" y="387.33" width="10.95" height="1.04" fill="#cc665a"/>
<rect x="411.55" y="388.33" width="10.95" height="1.04" fill="#cb6559"/>
<rect x="411.55" y="389.32" width="10.95" height="0.15" fill="#d16b5f"/>
<rect x="411.55" y="389.42" width="10.95" height="1.04" fill="#dbe5ee"/>
<rect x="411.55" y="390.42" width="10.95" height="0.95" fill="#e0eaf3"/>
<rect x="411.55" y="391.31" width="10.95" height="1.04" fill="#ebb49e"/>
<rect x="411.55" y="392.31" width="10.95" height="0.35" fill="#ebb49e"/>
<rect x="411.55" y="392.61" width="10.95" height="1.04" fill="#81a4cf"/>
<rect x="411.55" y="393.60" width="10.95" height="1.04" fill="#85a8d3"/>
<rect x="411.55" y="394.60" width="10.95" height="1.04" fill="#dfe9f2"/>
<rect x="411.55" y="395.59" width="10.95" height="1.04" fill="#e2ecf5"/>
<rect x="411.55" y="396.59" width="10.95" height="1.04" fill="#f2f0f0"/>
<rect x="411.55" y="397.58" width="10.95" height="1.04" fill="#f6f4f4"/>
<rect x="411.55" y="398.57" width="10.95" height="0.75" fill="#f2e5df"/>
<rect x="411.55" y="399.27" width="10.95" height="1.04" fill="#ca6458"/>
<rect x="411.55" y="400.27" width="10.95" height="1.04" fill="#d98d7b"/>
<rect x="411.55" y="401.26" width="10.95" height="0.35" fill="#d06a5e"/>
<rect x="411.55" y="401.56" width="10.95" height="1.04" fill="#e19889"/>
<rect x="411.55" y="402.56" width="10.95" height="0.85" fill="#f2cbba"/>
<rect x="411.55" y="403.35" width="10.95" height="1.04" fill="#c8daea"/>
<rect x="411.55" y="404.35" width="10.95" height="0.75" fill="#e5e9ed"/>
<rect x="411.55" y="405.04" width="10.95" height="1.04" fill="#f5dfd3"/>
<rect x="411.55" y="406.04" width="10.95" height="0.55" fill="#f5dfd3"/>
<rect x="411.55" y="406.54" width="10.95" height="1.04" fill="#dc8e7d"/>
<rect x="411.55" y="407.53" width="10.95" height="0.25" fill="#dc8e7d"/>
<rect x="411.55" y="407.73" width="10.95" height="1.04" fill="#c9dbeb"/>
<rect x="411.55" y="408.72" width="10.95" height="1.04" fill="#dfe9f2"/>
<rect x="411.55" y="409.72" width="10.95" height="0.55" fill="#dae4ed"/>
<rect x="411.55" y="410.22" width="10.95" height="1.04" fill="#b8d0e6"/>
<rect x="411.55" y="411.21" width="10.95" height="1.04" fill="#b7cfe5"/>
<rect x="411.55" y="412.21" width="10.95" height="1.04" fill="#b9d1e7"/>
<rect x="411.55" y="413.20" width="10.95" height="1.04" fill="#b3cbe1"/>
<rect x="411.55" y="414.20" width="10.95" height="0.65" fill="#98b6d8"/>
<rect x="411.55" y="414.79" width="10.95" height="1.04" fill="#9bb9db"/>
<rect x="411.55" y="415.79" width="10.95" height="0.75" fill="#bad2e8"/>
<rect x="411.55" y="416.49" width="10.95" height="1.04" fill="#efd2c4"/>
<rect x="411.55" y="417.48" width="10.95" height="1.04" fill="#f4cebd"/>
<rect x="411.55" y="418.48" width="10.95" height="0.35" fill="#f4cdbc"/>
<rect x="411.55" y="418.77" width="10.95" height="1.04" fill="#9ab8da"/>
<rect x="411.55" y="419.77" width="10.95" height="1.04" fill="#bad2e8"/>
<rect x="411.55" y="420.76" width="10.95" height="1.04" fill="#c9dae8"/>
<rect x="411.55" y="421.76" width="10.95" height="0.55" fill="#bad2e8"/>
<rect x="411.55" y="422.26" width="10.95" height="1.04" fill="#f0eeee"/>
<rect x="411.55" y="423.25" width="10.95" height="0.75" fill="#f3e6df"/>
<rect x="411.55" y="423.95" width="10.95" height="1.04" fill="#a0bddd"/>
<rect x="411.55" y="424.94" width="10.95" height="1.04" fill="#85a8d3"/>
<rect x="411.55" y="425.94" width="10.95" height="0.35" fill="#89acd7"/>
<rect x="411.55" y="426.24" width="10.95" height="1.04" fill="#9dbbdb"/>
<rect x="411.55" y="427.23" width="10.95" height="1.04" fill="#a3c1e1"/>
<rect x="411.55" y="428.23" width="10.95" height="1.04" fill="#9ebbdc"/>
<rect x="411.55" y="429.22" width="10.95" height="1.04" fill="#7197cc"/>
<rect x="411.55" y="430.22" width="10.95" height="0.75" fill="#9ebbdc"/>
<rect x="411.55" y="430.91" width="10.95" height="1.04" fill="#f2dcd0"/>
<rect x="411.55" y="431.91" width="10.95" height="0.75" fill="#f5dfd3"/>
<rect x="411.55" y="432.60" width="10.95" height="1.04" fill="#dce6ef"/>
<rect x="411.55" y="433.60" width="10.95" height="0.85" fill="#d9e3ec"/>
<rect x="411.55" y="434.39" width="10.95" height="1.04" fill="#f2f0f0"/>
<rect x="411.55" y="435.39" width="10.95" height="1.04" fill="#9fbdde"/>
<rect x="411.55" y="436.38" width="10.95" height="0.85" fill="#cadae9"/>
<rect x="411.55" y="437.18" width="10.95" height="1.04" fill="#e0eaf3"/>
<rect x="411.55" y="438.18" width="10.95" height="1.04" fill="#e8ecf0"/>
<rect x="411.55" y="439.17" width="10.95" height="0.25" fill="#ccdeee"/>
<rect x="411.55" y="439.37" width="10.95" height="1.04" fill="#bad2e8"/>
<rect x="411.55" y="440.37" width="10.95" height="1.04" fill="#b5cde3"/>
<rect x="411.55" y="441.36" width="10.95" height="0.45" fill="#b8d0e6"/>
<rect x="411.55" y="441.76" width="10.95" height="1.04" fill="#f2f0f0"/>
<rect x="411.55" y="442.75" width="10.95" height="0.65" fill="#f2f0f0"/>
<rect x="422.45" y="353.80" width="10.95" height="1.04" fill="#dee8f1"/>
<rect x="422.45" y="354.80" width="10.95" height="0.45" fill="#dee8f1"/>
<rect x="422.45" y="355.19" width="10.95" height="1.04" fill="#ebf0f5"/>
<rect x="422.45" y="356.19" width="10.95" height="1.04" fill="#f5f3f3"/>
<rect x="422.45" y="357.18" width="10.95" height="0.35" fill="#edebeb"/>
<rect x="422.45" y="357.48" width="10.95" height="1.04" fill="#dee8f1"/>
<rect x="422.45" y="358.48" width="10.95" height="0.15" fill="#dee8f1"/>
<rect x="422.45" y="358.58" width="10.95" height="1.04" fill="#e9b29c"/>
<rect x="422.45" y="359.57" width="10.95" height="1.04" fill="#e9b29c"/>
<rect x="422.45" y="360.57" width="10.95" height="0.95" fill="#edb6a0"/>
<rect x="422.45" y="361.46" width="10.95" height="1.04" fill="#f4ded2"/>
<rect x="422.45" y="362.46" width="10.95" height="0.85" fill="#f9e3d7"/>
<rect x="422.45" y="363.25" width="10.95" height="1.04" fill="#ecc7b7"/>
<rect x="422.45" y="364.25" width="10.95" height="1.04" fill="#ebb49e"/>
<rect x="422.45" y="365.24" width="10.95" height="0.35" fill="#ebb49e"/>
<rect x="422.45" y="365.54" width="10.95" height="1.04" fill="#ae2832"/>
<rect x="422.45" y="366.54" width="10.95" height="1.04" fill="#ab252f"/>
<rect x="422.45" y="367.53" width="10.95" height="0.25" fill="#b12b35"/>
<rect x="422.45" y="367.73" width="10.95" height="1.04" fill="#f2e7e1"/>
<rect x="422.45" y="368.73" width="10.95" height="0.85" fill="#f5dfd3"/>
<rect x="422.45" y="369.52" width="10.95" height="1.04" fill="#c9dbeb"/>
<rect x="422.45" y="370.52" width="10.95" height="0.75" fill="#e5e8ec"/>
<rect x="422.45" y="371.21" width="10.95" height="1.04" fill="#f0e3dd"/>
<rect x="422.45" y="372.21" width="10.95" height="1.04" fill="#f5e8e1"/>
<rect x="422.45" y="373.20" width="10.95" height="0.95" fill="#efeded"/>
<rect x="422.45" y="374.10" width="10.95" height="1.04" fill="#f5eae4"/>
<rect x="422.45" y="375.09" width="10.95" height="0.65" fill="#f6ebe6"/>
<rect x="422.45" y="375.69" width="10.95" height="1.04" fill="#a3c0df"/>
<rect x="422.45" y="376.69" width="10.95" height="0.65" fill="#89acd7"/>
<rect x="422.45" y="377.28" width="10.95" height="1.04" fill="#dee8f1"/>
<rect x="422.45" y="378.28" width="10.95" height="0.45" fill="#dee8f1"/>
<rect x="422.45" y="378.68" width="10.95" height="1.04" fill="#dee8f1"/>
<rect x="422.45" y="379.67" width="10.95" height="0.45" fill="#dee8f1"/>
<rect x="422.45" y="380.07" width="10.95" height="1.04" fill="#e6af99"/>
<rect x="422.45" y="381.06" width="10.95" height="0.65" fill="#f3cebe"/>
<rect x="422.45" y="381.66" width="10.95" height="1.04" fill="#f0e5e0"/>
<rect x="422.45" y="382.66" width="10.95" height="0.65" fill="#f1dbcf"/>
<rect x="422.45" y="383.25" width="10.95" height="1.04" fill="#ce685c"/>
<rect x="422.45" y="384.25" width="10.95" height="0.25" fill="#ce685c"/>
<rect x="422.45" y="384.45" width="10.95" height="1.04" fill="#b6cee4"/>
<rect x="422.45" y="385.44" width="10.95" height="1.04" fill="#b7cfe5"/>
<rect x="422.45" y="386.44" width="10.95" height="0.95" fill="#bcd4ea"/>
<rect x="422.45" y="387.33" width="10.95" height="1.04" fill="#c5d7e7"/>
<rect x="422.45" y="388.33" width="10.95" height="1.04" fill="#dbe5ee"/>
<rect x="422.45" y="389.32" width="10.95" height="0.35" fill="#ccdeee"/>
<rect x="422.45" y="389.62" width="10.95" height="1.04" fill="#d88978"/>
<rect x="422.45" y="390.62" width="10.95" height="0.75" fill="#de8f7e"/>
<rect x="422.45" y="391.31" width="10.95" height="1.04" fill="#f5dfd3"/>
<rect x="422.45" y="392.31" width="10.95" height="0.35" fill="#f5dfd3"/>
<rect x="422.45" y="392.61" width="10.95" height="1.04" fill="#bad2e8"/>
<rect x="422.45" y="393.60" width="10.95" height="0.65" fill="#b9d1e7"/>
<rect x="422.45" y="394.20" width="10.95" height="1.04" fill="#df9e8a"/>
<rect x="422.45" y="395.19" width="10.95" height="1.04" fill="#df907f"/>
<rect x="422.45" y="396.19" width="10.95" height="1.04" fill="#c45755"/>
<rect x="422.45" y="397.18" width="10.95" height="0.45" fill="#db8d7c"/>
<rect x="422.45" y="397.58" width="10.95" height="1.04" fill="#dfe9f2"/>
<rect x="422.45" y="398.57" width="10.95" height="0.75" fill="#c4d6e6"/>
<rect x="422.45" y="399.27" width="10.95" height="1.04" fill="#e6af99"/>
<rect x="422.45" y="400.27" width="10.95" height="0.85" fill="#d88776"/>
<rect x="422.45" y="401.06" width="10.95" height="1.04" fill="#f5dfd3"/>
<rect x="422.45" y="402.06" width="10.95" height="0.15" fill="#f5dfd3"/>
<rect x="422.45" y="402.16" width="10.95" height="1.04" fill="#ce685c"/>
<rect x="422.45" y="403.15" width="10.95" height="0.45" fill="#ce685c"/>
<rect x="422.45" y="403.55" width="10.95" height="1.04" fill="#f2f0f0"/>
<rect x="422.45" y="404.55" width="10.95" height="0.55" fill="#f2f0f0"/>
<rect x="422.45" y="405.04" width="10.95" height="1.04" fill="#9bb9da"/>
<rect x="422.45" y="406.04" width="10.95" height="1.04" fill="#9ab8da"/>
<rect x="422.45" y="407.03" width="10.95" height="0.35" fill="#b6cee4"/>
<rect x="422.45" y="407.33" width="10.95" height="1.04" fill="#e6eaee"/>
<rect x="422.45" y="408.33" width="10.95" height="0.75" fill="#dde7f0"/>
<rect x="422.45" y="409.02" width="10.95" height="1.04" fill="#b6cee4"/>
<rect x="422.45" y="410.02" width="10.95" height="1.04" fill="#bad2e8"/>
<rect x="422.45" y="411.01" width="10.95" height="1.04" fill="#b9d1e7"/>
<rect x="422.45" y="412.01" width="10.95" height="1.04" fill="#b8d0e6"/>
<rect x="422.45" y="413.00" width="10.95" height="1.04" fill="#b6cee4"/>
<rect x="422.45" y="414.00" width="10.95" height="0.85" fill="#b7cfe5"/>
<rect x="422.45" y="414.79" width="10.95" height="1.04" fill="#dee8f1"/>
<rect x="422.45" y="415.79" width="10.95" height="0.75" fill="#ecf0f4"/>
<rect x="422.45" y="416.49" width="10.95" height="1.04" fill="#db9183"/>
<rect x="422.45" y="417.48" width="10.95" height="0.85" fill="#de9586"/>
<rect x="422.45" y="418.28" width="10.95" height="1.04" fill="#dce6ef"/>
<rect x="422.45" y="419.27" width="10.95" height="1.04" fill="#dee8f1"/>
<rect x="422.45" y="420.27" width="10.95" height="0.25" fill="#dce6ef"/>
<rect x="422.45" y="420.47" width="10.95" height="1.04" fill="#b3cbe1"/>
<rect x="422.45" y="421.46" width="10.95" height="0.85" fill="#b5cde3"/>
<rect x="422.45" y="422.26" width="10.95" height="1.04" fill="#a0bede"/>
<rect x="422.45" y="423.25" width="10.95" height="1.04" fill="#6c91c6"/>
<rect x="422.45" y="424.25" width="10.95" height="0.25" fill="#9fbcdd"/>
<rect x="422.45" y="424.44" width="10.95" height="1.04" fill="#658cc5"/>
<rect x="422.45" y="425.44" width="10.95" height="1.04" fill="#678ec7"/>
<rect x="422.45" y="426.44" width="10.95" height="1.04" fill="#628ac2"/>
<rect x="422.45" y="427.43" width="10.95" height="1.04" fill="#517bba"/>
<rect x="422.45" y="428.43" width="10.95" height="1.04" fill="#bad2e8"/>
<rect x="422.45" y="429.42" width="10.95" height="1.04" fill="#b7cfe5"/>
<rect x="422.45" y="430.42" width="10.95" height="0.55" fill="#bbd3e9"/>
<rect x="422.45" y="430.91" width="10.95" height="1.04" fill="#e9ecf0"/>
<rect x="422.45" y="431.91" width="10.95" height="1.04" fill="#d9e3ec"/>
<rect x="422.45" y="432.90" width="10.95" height="1.04" fill="#dbe5ee"/>
<rect x="422.45" y="433.90" width="10.95" height="0.55" fill="#e2ecf5"/>
<rect x="422.45" y="434.39" width="10.95" height="1.04" fill="#b8d0e6"/>
<rect x="422.45" y="435.39" width="10.95" height="0.65" fill="#b8d0e6"/>
<rect x="422.45" y="435.99" width="10.95" height="1.04" fill="#f5f3f3"/>
<rect x="422.45" y="436.98" width="10.95" height="1.04" fill="#f6f4f4"/>
<rect x="422.45" y="437.98" width="10.95" height="0.45" fill="#edebeb"/>
<rect x="422.45" y="438.38" width="10.95" height="1.04" fill="#dee8f1"/>
<rect x="422.45" y="439.37" width="10.95" height="1.04" fill="#8aadd8"/>
<rect x="422.45" y="440.37" width="10.95" height="1.04" fill="#9ebbdb"/>
<rect x="422.45" y="441.36" width="10.95" height="1.04" fill="#8aadd8"/>
<rect x="422.45" y="442.36" width="10.95" height="1.04" fill="#82a5d0"/>
<rect x="433.35" y="353.80" width="10.95" height="1.04" fill="#efeded"/>
<rect x="433.35" y="354.80" width="10.95" height="1.04" fill="#f4f2f2"/>
<rect x="433.35" y="355.79" width="10.95" height="0.55" fill="#efe2db"/>
<rect x="433.35" y="356.29" width="10.95" height="1.04" fill="#edb6a0"/>
<rect x="433.35" y="357.28" width="10.95" height="1.04" fill="#edb6a0"/>
<rect x="433.35" y="358.28" width="10.95" height="1.04" fill="#dfe9f2"/>
<rect x="433.35" y="359.27" width="10.95" height="1.04" fill="#e1ebf4"/>
<rect x="433.35" y="360.27" width="10.95" height="0.15" fill="#ebeef2"/>
<rect x="433.35" y="360.37" width="10.95" height="1.04" fill="#f3f1f1"/>
<rect x="433.35" y="361.36" width="10.95" height="0.75" fill="#edebeb"/>
<rect x="433.35" y="362.06" width="10.95" height="1.04" fill="#f5dfd3"/>
<rect x="433.35" y="363.05" width="10.95" height="0.55" fill="#f5dfd3"/>
<rect x="433.35" y="363.55" width="10.95" height="1.04" fill="#678ec7"/>
<rect x="433.35" y="364.55" width="10.95" height="0.65" fill="#678ec7"/>
<rect x="433.35" y="365.14" width="10.95" height="1.04" fill="#b6cee4"/>
<rect x="433.35" y="366.14" width="10.95" height="1.04" fill="#b5cde3"/>
<rect x="433.35" y="367.13" width="10.95" height="1.04" fill="#b4cce2"/>
<rect x="433.35" y="368.13" width="10.95" height="1.04" fill="#a1bfe0"/>
<rect x="433.35" y="369.12" width="10.95" height="1.04" fill="#cadae9"/>
<rect x="433.35" y="370.12" width="10.95" height="1.04" fill="#c8d8e7"/>
<rect x="433.35" y="371.11" width="10.95" height="1.04" fill="#b6cee4"/>
<rect x="433.35" y="372.11" width="10.95" height="0.35" fill="#9ebcdd"/>
<rect x="433.35" y="372.41" width="10.95" height="1.04" fill="#86a9d4"/>
<rect x="433.35" y="373.40" width="10.95" height="0.55" fill="#86a9d4"/>
<rect x="433.35" y="373.90" width="10.95" height="1.04" fill="#f8ebe4"/>
<rect x="433.35" y="374.89" width="10.95" height="0.85" fill="#edebeb"/>
<rect x="433.35" y="375.69" width="10.95" height="1.04" fill="#f3ddd1"/>
<rect x="433.35" y="376.69" width="10.95" height="0.95" fill="#eee3de"/>
<rect x="433.35" y="377.58" width="10.95" height="1.04" fill="#e9ecf1"/>
<rect x="433.35" y="378.58" width="10.95" height="0.75" fill="#e6e9ed"/>
<rect x="433.35" y="379.27" width="10.95" height="1.04" fill="#86a9d4"/>
<rect x="433.35" y="380.27" width="10.95" height="0.45" fill="#86a9d4"/>
<rect x="433.35" y="380.67" width="10.95" height="1.04" fill="#dde7f0"/>
<rect x="433.35" y="381.66" width="10.95" height="1.04" fill="#d9e3ec"/>
<rect x="433.35" y="382.66" width="10.95" height="1.04" fill="#f7d9cb"/>
<rect x="433.35" y="383.65" width="10.95" height="0.85" fill="#efc9b8"/>
<rect x="433.35" y="384.45" width="10.95" height="1.04" fill="#dfe9f2"/>
<rect x="433.35" y="385.44" width="10.95" height="0.75" fill="#e0eaf3"/>
<rect x="433.35" y="386.14" width="10.95" height="1.04" fill="#f5dfd3"/>
<rect x="433.35" y="387.13" width="10.95" height="0.55" fill="#f5dfd3"/>
<rect x="433.35" y="387.63" width="10.95" height="1.04" fill="#d88978"/>
<rect x="433.35" y="388.62" width="10.95" height="1.04" fill="#c05351"/>
<rect x="433.35" y="389.62" width="10.95" height="1.04" fill="#f7ece6"/>
<rect x="433.35" y="390.62" width="10.95" height="0.75" fill="#f1dbcf"/>
<rect x="433.35" y="391.31" width="10.95" height="1.04" fill="#f0e3dc"/>
<rect x="433.35" y="392.31" width="10.95" height="1.04" fill="#f4e7e0"/>
<rect x="433.35" y="393.30" width="10.95" height="0.35" fill="#f0e3dc"/>
<rect x="433.35" y="393.60" width="10.95" height="1.04" fill="#e6af99"/>
<rect x="433.35" y="394.60" width="10.95" height="0.85" fill="#e6af99"/>
<rect x="433.35" y="395.39" width="10.95" height="1.04" fill="#e0eaf3"/>
<rect x="433.35" y="396.39" width="10.95" height="1.04" fill="#dce6ef"/>
<rect x="433.35" y="397.38" width="10.95" height="0.25" fill="#c5d6e6"/>
<rect x="433.35" y="397.58" width="10.95" height="1.04" fill="#edebeb"/>
<rect x="433.35" y="398.57" width="10.95" height="0.75" fill="#f0e3dc"/>
<rect x="433.35" y="399.27" width="10.95" height="1.04" fill="#b7cfe5"/>
<rect x="433.35" y="400.27" width="10.95" height="1.04" fill="#a0bedf"/>
<rect x="433.35" y="401.26" width="10.95" height="0.35" fill="#a0bee0"/>
<rect x="433.35" y="401.56" width="10.95" height="1.04" fill="#f8e2d6"/>
<rect x="433.35" y="402.56" width="10.95" height="0.85" fill="#f3cbba"/>
<rect x="433.35" y="403.35" width="10.95" height="1.04" fill="#d88777"/>
<rect x="433.35" y="404.35" width="10.95" height="0.75" fill="#edb6a0"/>
<rect x="433.35" y="405.04" width="10.95" height="1.04" fill="#f6e0d4"/>
<rect x="433.35" y="406.04" width="10.95" height="1.04" fill="#f0e5df"/>
<rect x="433.35" y="407.03" width="10.95" height="0.35" fill="#f2cab8"/>
<rect x="433.35" y="407.33" width="10.95" height="1.04" fill="#f4f2f2"/>
<rect x="433.35" y="408.33" width="10.95" height="0.75" fill="#f0eeee"/>
<rect x="433.35" y="409.02" width="10.95" height="1.04" fill="#f0c9b8"/>
<rect x="433.35" y="410.02" width="10.95" height="0.55" fill="#f0c9b8"/>
<rect x="433.35" y="410.51" width="10.95" height="1.04" fill="#f6f4f4"/>
<rect x="433.35" y="411.51" width="10.95" height="1.04" fill="#f2f0f0"/>
<rect x="433.35" y="412.50" width="10.95" height="0.65" fill="#f6f4f4"/>
<rect x="433.35" y="413.10" width="10.95" height="1.04" fill="#dfe9f2"/>
<rect x="433.35" y="414.10" width="10.95" height="0.75" fill="#dae4ed"/>
<rect x="433.35" y="414.79" width="10.95" height="1.04" fill="#b8d0e6"/>
<rect x="433.35" y="415.79" width="10.95" height="0.25" fill="#b8d0e6"/>
<rect x="433.35" y="415.99" width="10.95" height="1.04" fill="#6a91c8"/>
<rect x="433.35" y="416.98" width="10.95" height="1.04" fill="#4773b9"/>
<rect x="433.35" y="417.98" width="10.95" height="1.04" fill="#dbe5ee"/>
<rect x="433.35" y="418.97" width="10.95" height="1.04" fill="#e7ebef"/>
<rect x="433.35" y="419.97" width="10.95" height="1.04" fill="#f1e4dd"/>
<rect x="433.35" y="420.96" width="10.95" height="0.75" fill="#e7ecf0"/>
<rect x="433.35" y="421.66" width="10.95" height="1.04" fill="#db8a7a"/>
<rect x="433.35" y="422.65" width="10.95" height="0.85" fill="#e7b09a"/>
<rect x="433.35" y="423.45" width="10.95" height="1.04" fill="#dfe9f2"/>
<rect x="433.35" y="424.44" width="10.95" height="1.04" fill="#dde7f0"/>
<rect x="433.35" y="425.44" width="10.95" height="1.04" fill="#d9e3ec"/>
<rect x="433.35" y="426.44" width="10.95" height="1.04" fill="#e2ecf5"/>
<rect x="433.35" y="427.43" width="10.95" height="1.04" fill="#ecc6b5"/>
<rect x="433.35" y="428.43" width="10.95" height="1.04" fill="#efc9b8"/>
<rect x="433.35" y="429.42" width="10.95" height="1.04" fill="#edc7b6"/>
<rect x="433.35" y="430.42" width="10.95" height="1.04" fill="#edc6b5"/>
<rect x="433.35" y="431.41" width="10.95" height="1.04" fill="#dc8e7d"/>
<rect x="433.35" y="432.41" width="10.95" height="0.25" fill="#dc8e7d"/>
<rect x="433.35" y="432.60" width="10.95" height="1.04" fill="#f2f0f0"/>
<rect x="433.35" y="433.60" width="10.95" height="0.55" fill="#f2f0f0"/>
<rect x="433.35" y="434.10" width="10.95" height="1.04" fill="#dc8e7d"/>
<rect x="433.35" y="435.09" width="10.95" height="0.35" fill="#dc8e7d"/>
<rect x="433.35" y="435.39" width="10.95" height="1.04" fill="#f4f2f2"/>
<rect x="433.35" y="436.38" width="10.95" height="1.04" fill="#f3f1f1"/>
<rect x="433.35" y="437.38" width="10.95" height="0.45" fill="#f3f1f1"/>
<rect x="433.35" y="437.78" width="10.95" height="1.04" fill="#dee8f1"/>
<rect x="433.35" y="438.77" width="10.95" height="0.65" fill="#dee8f1"/>
<rect x="433.35" y="439.37" width="10.95" height="1.04" fill="#eeecec"/>
<rect x="433.35" y="440.37" width="10.95" height="1.04" fill="#f3f1f1"/>
<rect x="433.35" y="441.36" width="10.95" height="1.04" fill="#f5f3f3"/>
<rect x="433.35" y="442.36" width="10.95" height="1.04" fill="#eeecec"/>
<rect x="444.25" y="353.80" width="10.95" height="1.04" fill="#ce685c"/>
<rect x="444.25" y="354.80" width="10.95" height="0.45" fill="#ce685c"/>
<rect x="444.25" y="355.19" width="10.95" height="1.04" fill="#f5dfd3"/>
<rect x="444.25" y="356.19" width="10.95" height="0.65" fill="#f5dfd3"/>
<rect x="444.25" y="356.79" width="10.95" height="1.04" fill="#e9b29c"/>
<rect x="444.25" y="357.78" width="10.95" height="0.85" fill="#e9b29c"/>
<rect x="444.25" y="358.58" width="10.95" height="1.04" fill="#f1dbcf"/>
<rect x="444.25" y="359.57" width="10.95" height="0.85" fill="#f0e5e0"/>
<rect x="444.25" y="360.37" width="10.95" height="1.04" fill="#de8d7d"/>
<rect x="444.25" y="361.36" width="10.95" height="0.75" fill="#e6af99"/>
<rect x="444.25" y="362.06" width="10.95" height="1.04" fill="#efc7b5"/>
<rect x="444.25" y="363.05" width="10.95" height="0.75" fill="#f6ebe6"/>
<rect x="444.25" y="363.75" width="10.95" height="1.04" fill="#b4cce2"/>
<rect x="444.25" y="364.75" width="10.95" height="0.85" fill="#d0e0ef"/>
<rect x="444.25" y="365.54" width="10.95" height="1.04" fill="#dce6ef"/>
<rect x="444.25" y="366.54" width="10.95" height="0.75" fill="#dce6ef"/>
<rect x="444.25" y="367.23" width="10.95" height="1.04" fill="#cedeed"/>
<rect x="444.25" y="368.23" width="10.95" height="0.75" fill="#b9d1e7"/>
<rect x="444.25" y="368.92" width="10.95" height="1.04" fill="#efeded"/>
<rect x="444.25" y="369.92" width="10.95" height="0.85" fill="#f3f1f1"/>
<rect x="444.25" y="370.72" width="10.95" height="1.04" fill="#b3cbe1"/>
<rect x="444.25" y="371.71" width="10.95" height="0.75" fill="#b5cde3"/>
<rect x="444.25" y="372.41" width="10.95" height="1.04" fill="#f2f0f0"/>
<rect x="444.25" y="373.40" width="10.95" height="1.04" fill="#e2e7ec"/>
<rect x="444.25" y="374.40" width="10.95" height="0.35" fill="#f3f1f1"/>
<rect x="444.25" y="374.69" width="10.95" height="1.04" fill="#f6ebe5"/>
<rect x="444.25" y="375.69" width="10.95" height="1.04" fill="#f6e0d4"/>
<rect x="444.25" y="376.69" width="10.95" height="0.95" fill="#f2dcd0"/>
<rect x="444.25" y="377.58" width="10.95" height="1.04" fill="#f6e0d4"/>
<rect x="444.25" y="378.58" width="10.95" height="0.75" fill="#f6e0d4"/>
<rect x="444.25" y="379.27" width="10.95" height="1.04" fill="#6a90c5"/>
<rect x="444.25" y="380.27" width="10.95" height="0.75" fill="#9fbcdd"/>
<rect x="444.25" y="380.96" width="10.95" height="1.04" fill="#bcd4ea"/>
<rect x="444.25" y="381.96" width="10.95" height="1.04" fill="#cdddec"/>
<rect x="444.25" y="382.95" width="10.95" height="1.04" fill="#bad2e8"/>
<rect x="444.25" y="383.95" width="10.95" height="1.04" fill="#cadbea"/>
<rect x="444.25" y="384.94" width="10.95" height="1.04" fill="#cfdfee"/>
<rect x="444.25" y="385.94" width="10.95" height="0.75" fill="#ccddeb"/>
<rect x="444.25" y="386.63" width="10.95" height="1.04" fill="#e7b09a"/>
<rect x="444.25" y="387.63" width="10.95" height="0.85" fill="#edb6a0"/>
<rect x="444.25" y="388.43" width="10.95" height="1.04" fill="#c05351"/>
<rect x="444.25" y="389.42" width="10.95" height="0.85" fill="#c55855"/>
<rect x="444.25" y="390.22" width="10.95" height="1.04" fill="#ebb49e"/>
<rect x="444.25" y="391.21" width="10.95" height="0.15" fill="#ebb49e"/>
<rect x="444.25" y="391.31" width="10.95" height="1.04" fill="#ae2832"/>
<rect x="444.25" y="392.31" width="10.95" height="1.04" fill="#bc4846"/>
<rect x="444.25" y="393.30" width="10.95" height="0.35" fill="#af2933"/>
<rect x="444.25" y="393.60" width="10.95" height="1.04" fill="#dd8d7c"/>
<rect x="444.25" y="394.60" width="10.95" height="0.85" fill="#f4cfbf"/>
<rect x="444.25" y="395.39" width="10.95" height="1.04" fill="#dce6ef"/>
<rect x="444.25" y="396.39" width="10.95" height="0.75" fill="#dbe5ee"/>
<rect x="444.25" y="397.08" width="10.95" height="0.55" fill="#ebb49e"/>
<rect x="444.25" y="397.58" width="10.95" height="1.04" fill="#ebc5b4"/>
<rect x="444.25" y="398.57" width="10.95" height="0.75" fill="#f4cdbc"/>
<rect x="444.25" y="399.27" width="10.95" height="1.04" fill="#dce6ef"/>
<rect x="444.25" y="400.27" width="10.95" height="0.85" fill="#e2ecf5"/>
<rect x="444.25" y="401.06" width="10.95" height="1.04" fill="#f5dfd3"/>
<rect x="444.25" y="402.06" width="10.95" height="0.35" fill="#f5dfd3"/>
<rect x="444.25" y="402.36" width="10.95" height="1.04" fill="#ebb49e"/>
<rect x="444.25" y="403.35" width="10.95" height="0.25" fill="#ebb49e"/>
<rect x="444.25" y="403.55" width="10.95" height="1.04" fill="#f5dfd3"/>
<rect x="444.25" y="404.55" width="10.95" height="0.55" fill="#f5dfd3"/>
<rect x="444.25" y="405.04" width="10.95" height="1.04" fill="#c6d7e6"/>
<rect x="444.25" y="406.04" width="10.95" height="1.04" fill="#c7d8e7"/>
<rect x="444.25" y="407.03" width="10.95" height="0.35" fill="#cfe0f0"/>
<rect x="444.25" y="407.33" width="10.95" height="1.04" fill="#b5cde3"/>
<rect x="444.25" y="408.33" width="10.95" height="0.75" fill="#9ab8da"/>
<rect x="444.25" y="409.02" width="10.95" height="1.04" fill="#9fbdde"/>
<rect x="444.25" y="410.02" width="10.95" height="1.04" fill="#bbd3e9"/>
<rect x="444.25" y="411.01" width="10.95" height="1.04" fill="#cadae9"/>
<rect x="444.25" y="412.01" width="10.95" height="1.04" fill="#99b7d9"/>
<rect x="444.25" y="413.00" width="10.95" height="0.55" fill="#b7cfe5"/>
<rect x="444.25" y="413.50" width="10.95" height="1.04" fill="#e7ebef"/>
<rect x="444.25" y="414.50" width="10.95" height="1.04" fill="#dbe5ee"/>
<rect x="444.25" y="415.49" width="10.95" height="1.04" fill="#6189c3"/>
<rect x="444.25" y="416.49" width="10.95" height="0.65" fill="#85a8d3"/>
<rect x="444.25" y="417.08" width="10.95" height="1.04" fill="#84a7d2"/>
<rect x="444.25" y="418.08" width="10.95" height="1.04" fill="#84a7d2"/>
<rect x="444.25" y="419.07" width="10.95" height="0.45" fill="#628ac4"/>
<rect x="444.25" y="419.47" width="10.95" height="1.04" fill="#e0eaf3"/>
<rect x="444.25" y="420.47" width="10.95" height="1.04" fill="#eceff3"/>
<rect x="444.25" y="421.46" width="10.95" height="0.25" fill="#e6e9ed"/>
<rect x="444.25" y="421.66" width="10.95" height="1.04" fill="#f8ede7"/>
<rect x="444.25" y="422.65" width="10.95" height="0.85" fill="#f5dfd3"/>
<rect x="444.25" y="423.45" width="10.95" height="1.04" fill="#f1cbba"/>
<rect x="444.25" y="424.44" width="10.95" height="0.75" fill="#f0c9b8"/>
<rect x="444.25" y="425.14" width="10.95" height="1.04" fill="#dee8f1"/>
<rect x="444.25" y="426.14" width="10.95" height="1.04" fill="#e8ecf0"/>
<rect x="444.25" y="427.13" width="10.95" height="1.04" fill="#dce6ef"/>
<rect x="444.25" y="428.13" width="10.95" height="1.04" fill="#c6d7e7"/>
<rect x="444.25" y="429.12" width="10.95" height="1.04" fill="#ccddee"/>
<rect x="444.25" y="430.12" width="10.95" height="0.85" fill="#d9e3ec"/>
<rect x="444.25" y="430.91" width="10.95" height="1.04" fill="#f2cab8"/>
<rect x="444.25" y="431.91" width="10.95" height="0.75" fill="#f0dace"/>
<rect x="444.25" y="432.60" width="10.95" height="1.04" fill="#d88978"/>
<rect x="444.25" y="433.60" width="10.95" height="0.85" fill="#e5a38f"/>
<rect x="444.25" y="434.39" width="10.95" height="1.04" fill="#f2f0f0"/>
<rect x="444.25" y="435.39" width="10.95" height="0.65" fill="#f2f0f0"/>
<rect x="444.25" y="435.99" width="10.95" height="1.04" fill="#d6e3ef"/>
<rect x="444.25" y="436.98" width="10.95" height="0.85" fill="#cbdceb"/>
<rect x="444.25" y="437.78" width="10.95" height="1.04" fill="#f2f0f0"/>
<rect x="444.25" y="438.77" width="10.95" height="0.65" fill="#f2f0f0"/>
<rect x="444.25" y="439.37" width="10.95" height="1.04" fill="#f1e4dd"/>
<rect x="444.25" y="440.37" width="10.95" height="1.04" fill="#eeecec"/>
<rect x="444.25" y="441.36" width="10.95" height="1.04" fill="#edebeb"/>
<rect x="444.25" y="442.36" width="10.95" height="1.04" fill="#e2e7ec"/>
<rect x="455.15" y="353.80" width="10.95" height="1.04" fill="#e8ecf1"/>
<rect x="455.15" y="354.80" width="10.95" height="1.04" fill="#f2f0f0"/>
<rect x="455.15" y="355.79" width="10.95" height="1.04" fill="#f4cebd"/>
<rect x="455.15" y="356.79" width="10.95" height="0.75" fill="#f1cab9"/>
<rect x="455.15" y="357.48" width="10.95" height="1.04" fill="#edb6a0"/>
<rect x="455.15" y="358.48" width="10.95" height="0.75" fill="#e7b09a"/>
<rect x="455.15" y="359.17" width="10.95" height="1.04" fill="#f2f0f0"/>
<rect x="455.15" y="360.17" width="10.95" height="0.65" fill="#f2f0f0"/>
<rect x="455.15" y="360.76" width="10.95" height="1.04" fill="#dde7f0"/>
<rect x="455.15" y="361.76" width="10.95" height="0.95" fill="#e0eaf3"/>
<rect x="455.15" y="362.66" width="10.95" height="1.04" fill="#ebb49e"/>
<rect x="455.15" y="363.65" width="10.95" height="1.04" fill="#de8d7c"/>
<rect x="455.15" y="364.65" width="10.95" height="0.95" fill="#edb6a0"/>
<rect x="455.15" y="365.54" width="10.95" height="1.04" fill="#e2ecf5"/>
<rect x="455.15" y="366.54" width="10.95" height="1.04" fill="#e5e8ec"/>
<rect x="455.15" y="367.53" width="10.95" height="0.85" fill="#c9dbeb"/>
<rect x="455.15" y="368.33" width="10.95" height="1.04" fill="#d98d7c"/>
<rect x="455.15" y="369.32" width="10.95" height="1.05" fill="#c96357"/>
<rect x="455.15" y="370.32" width="10.95" height="1.04" fill="#c96357"/>
<rect x="455.15" y="371.31" width="10.95" height="1.04" fill="#b94141"/>
<rect x="455.15" y="372.31" width="10.95" height="0.45" fill="#cd675b"/>
<rect x="455.15" y="372.71" width="10.95" height="1.04" fill="#e8b19b"/>
<rect x="455.15" y="373.70" width="10.95" height="1.04" fill="#e8b19b"/>
<rect x="455.15" y="374.69" width="10.95" height="1.04" fill="#efe2dc"/>
<rect x="455.15" y="375.69" width="10.95" height="0.75" fill="#f2f0f0"/>
<rect x="455.15" y="376.39" width="10.95" height="1.04" fill="#eab39d"/>
<rect x="455.15" y="377.38" width="10.95" height="1.04" fill="#e8b19b"/>
<rect x="455.15" y="378.38" width="10.95" height="0.35" fill="#ecb59f"/>
<rect x="455.15" y="378.68" width="10.95" height="1.04" fill="#ecb59f"/>
<rect x="455.15" y="379.67" width="10.95" height="0.85" fill="#edb6a0"/>
<rect x="455.15" y="380.47" width="10.95" height="1.04" fill="#dc8d7c"/>
<rect x="455.15" y="381.46" width="10.95" height="0.75" fill="#e5a490"/>
<rect x="455.15" y="382.16" width="10.95" height="1.04" fill="#f2dcd0"/>
<rect x="455.15" y="383.15" width="10.95" height="0.75" fill="#f9e3d7"/>
<rect x="455.15" y="383.85" width="10.95" height="1.04" fill="#ac2630"/>
<rect x="455.15" y="384.84" width="10.95" height="1.05" fill="#ad2731"/>
<rect x="455.15" y="385.84" width="10.95" height="1.04" fill="#c04c4a"/>
<rect x="455.15" y="386.83" width="10.95" height="0.55" fill="#ab252f"/>
<rect x="455.15" y="387.33" width="10.95" height="1.04" fill="#edb6a0"/>
<rect x="455.15" y="388.33" width="10.95" height="0.75" fill="#efb8a2"/>
<rect x="455.15" y="389.02" width="10.95" height="1.04" fill="#bcd4ea"/>
<rect x="455.15" y="390.02" width="10.95" height="0.65" fill="#b4cce2"/>
<rect x="455.15" y="390.62" width="10.95" height="1.04" fill="#f2f0f0"/>
<rect x="455.15" y="391.61" width="10.95" height="1.04" fill="#f2f0f0"/>
<rect x="455.15" y="392.61" width="10.95" height="1.04" fill="#cadcec"/>
<rect x="455.15" y="393.60" width="10.95" height="0.65" fill="#c4d6e6"/>
<rect x="455.15" y="394.20" width="10.95" height="1.04" fill="#c7d8e7"/>
<rect x="455.15" y="395.19" width="10.95" height="0.75" fill="#c6d7e7"/>
<rect x="455.15" y="395.89" width="10.95" height="1.04" fill="#f4e7e1"/>
<rect x="455.15" y="396.88" width="10.95" height="0.75" fill="#efe2dc"/>
<rect x="455.15" y="397.58" width="10.95" height="1.04" fill="#dae4ed"/>
<rect x="455.15" y="398.57" width="10.95" height="0.75" fill="#cddfef"/>
<rect x="455.15" y="399.27" width="10.95" height="1.04" fill="#f3ddd1"/>
<rect x="455.15" y="400.27" width="10.95" height="0.85" fill="#f5eae5"/>
<rect x="455.15" y="401.06" width="10.95" height="1.04" fill="#da8a79"/>
<rect x="455.15" y="402.06" width="10.95" height="1.04" fill="#dd8d7c"/>
<rect x="455.15" y="403.05" width="10.95" height="0.85" fill="#efb8a2"/>
<rect x="455.15" y="403.85" width="10.95" height="1.04" fill="#f4cebd"/>
<rect x="455.15" y="404.84" width="10.95" height="0.75" fill="#ecc6b5"/>
<rect x="455.15" y="405.54" width="10.95" height="1.04" fill="#efeded"/>
<rect x="455.15" y="406.54" width="10.95" height="0.85" fill="#e3e7ec"/>
<rect x="455.15" y="407.33" width="10.95" height="1.04" fill="#f0dace"/>
<rect x="455.15" y="408.33" width="10.95" height="0.75" fill="#f1e6e1"/>
<rect x="455.15" y="409.02" width="10.95" height="1.04" fill="#ebeff4"/>
<rect x="455.15" y="410.02" width="10.95" height="1.04" fill="#c9d8e6"/>
<rect x="455.15" y="411.01" width="10.95" height="1.04" fill="#f0f1f3"/>
<rect x="455.15" y="412.01" width="10.95" height="1.04" fill="#e8ecf1"/>
<rect x="455.15" y="413.00" width="10.95" height="0.15" fill="#c9d8e6"/>
<rect x="455.15" y="413.10" width="10.95" height="1.04" fill="#f1efef"/>
<rect x="455.15" y="414.10" width="10.95" height="0.95" fill="#e9eef3"/>
<rect x="455.15" y="414.99" width="10.95" height="1.04" fill="#ebb49e"/>
<rect x="455.15" y="415.99" width="10.95" height="0.55" fill="#ebb49e"/>
<rect x="455.15" y="416.49" width="10.95" height="1.04" fill="#f3e8e3"/>
<rect x="455.15" y="417.48" width="10.95" height="1.04" fill="#f3ddd1"/>
<rect x="455.15" y="418.48" width="10.95" height="0.35" fill="#f0dace"/>
<rect x="455.15" y="418.77" width="10.95" height="1.04" fill="#f6e9e3"/>
<rect x="455.15" y="419.77" width="10.95" height="0.75" fill="#edebeb"/>
<rect x="455.15" y="420.47" width="10.95" height="1.04" fill="#efe4df"/>
<rect x="455.15" y="421.46" width="10.95" height="0.85" fill="#f5dfd3"/>
<rect x="455.15" y="422.26" width="10.95" height="1.04" fill="#9cb9d9"/>
<rect x="455.15" y="423.25" width="10.95" height="1.04" fill="#5f87c0"/>
<rect x="455.15" y="424.25" width="10.95" height="0.25" fill="#5f87c1"/>
<rect x="455.15" y="424.44" width="10.95" height="1.04" fill="#dc8e7d"/>
<rect x="455.15" y="425.44" width="10.95" height="1.04" fill="#df9180"/>
<rect x="455.15" y="426.44" width="10.95" height="1.04" fill="#de907f"/>
<rect x="455.15" y="427.43" width="10.95" height="1.04" fill="#f4ded2"/>
<rect x="455.15" y="428.43" width="10.95" height="0.75" fill="#f5dfd3"/>
<rect x="455.15" y="429.12" width="10.95" height="1.04" fill="#e1ebf4"/>
<rect x="455.15" y="430.12" width="10.95" height="0.85" fill="#d9e3ec"/>
<rect x="455.15" y="430.91" width="10.95" height="1.04" fill="#688fc8"/>
<rect x="455.15" y="431.91" width="10.95" height="1.04" fill="#5a84c3"/>
<rect x="455.15" y="432.90" width="10.95" height="0.75" fill="#7499ca"/>
<rect x="455.15" y="433.60" width="10.95" height="1.04" fill="#cddeee"/>
<rect x="455.15" y="434.59" width="10.95" height="1.04" fill="#dae4ed"/>
<rect x="455.15" y="435.59" width="10.95" height="0.45" fill="#e1ebf4"/>
<rect x="455.15" y="435.99" width="10.95" height="1.04" fill="#c9dae9"/>
<rect x="455.15" y="436.98" width="10.95" height="1.04" fill="#c9daea"/>
<rect x="455.15" y="437.98" width="10.95" height="0.45" fill="#cddeee"/>
<rect x="455.15" y="438.38" width="10.95" height="1.04" fill="#b7cfe5"/>
<rect x="455.15" y="439.37" width="10.95" height="1.04" fill="#bcd4ea"/>
<rect x="455.15" y="440.37" width="10.95" height="0.35" fill="#9ebcde"/>
<rect x="455.15" y="440.66" width="10.95" height="1.04" fill="#e8ecf0"/>
<rect x="455.15" y="441.66" width="10.95" height="1.04" fill="#c9dbeb"/>
<rect x="455.15" y="442.65" width="10.95" height="0.75" fill="#dae4ed"/>
<rect x="466.05" y="353.80" width="10.95" height="1.04" fill="#ad2731"/>
<rect x="466.05" y="354.80" width="10.95" height="1.04" fill="#bc4846"/>
<rect x="466.05" y="355.79" width="10.95" height="0.55" fill="#b02a34"/>
<rect x="466.05" y="356.29" width="10.95" height="1.04" fill="#d78676"/>
<rect x="466.05" y="357.28" width="10.95" height="0.85" fill="#efb8a2"/>
<rect x="466.05" y="358.08" width="10.95" height="1.04" fill="#eceff3"/>
<rect x="466.05" y="359.07" width="10.95" height="0.75" fill="#dae4ed"/>
<rect x="466.05" y="359.77" width="10.95" height="1.04" fill="#efc9b8"/>
<rect x="466.05" y="360.76" width="10.95" height="0.75" fill="#de9587"/>
<rect x="466.05" y="361.46" width="10.95" height="1.04" fill="#e7b09a"/>
<rect x="466.05" y="362.46" width="10.95" height="0.85" fill="#efb8a2"/>
<rect x="466.05" y="363.25" width="10.95" height="1.04" fill="#e09281"/>
<rect x="466.05" y="364.25" width="10.95" height="1.04" fill="#c05250"/>
<rect x="466.05" y="365.24" width="10.95" height="0.35" fill="#c85a58"/>
<rect x="466.05" y="365.54" width="10.95" height="1.04" fill="#e7e7e9"/>
<rect x="466.05" y="366.54" width="10.95" height="1.04" fill="#e3e4e6"/>
<rect x="466.05" y="367.53" width="10.95" height="0.85" fill="#f8ece6"/>
<rect x="466.05" y="368.33" width="10.95" height="1.04" fill="#de907f"/>
<rect x="466.05" y="369.32" width="10.95" height="1.05" fill="#c05351"/>
<rect x="466.05" y="370.32" width="10.95" height="1.04" fill="#d98a79"/>
<rect x="466.05" y="371.31" width="10.95" height="0.45" fill="#e09f8b"/>
<rect x="466.05" y="371.71" width="10.95" height="1.04" fill="#b32d37"/>
<rect x="466.05" y="372.71" width="10.95" height="1.04" fill="#b02a34"/>
<rect x="466.05" y="373.70" width="10.95" height="1.04" fill="#bb4745"/>
<rect x="466.05" y="374.69" width="10.95" height="1.04" fill="#ab252f"/>
<rect x="466.05" y="375.69" width="10.95" height="1.04" fill="#cf695d"/>
<rect x="466.05" y="376.69" width="10.95" height="1.04" fill="#da8e7d"/>
<rect x="466.05" y="377.68" width="10.95" height="1.04" fill="#cc665a"/>
<rect x="466.05" y="378.68" width="10.95" height="1.04" fill="#e6af99"/>
<rect x="466.05" y="379.67" width="10.95" height="0.85" fill="#edb6a0"/>
<rect x="466.05" y="380.47" width="10.95" height="1.04" fill="#c04b49"/>
<rect x="466.05" y="381.46" width="10.95" height="1.04" fill="#af2933"/>
<rect x="466.05" y="382.46" width="10.95" height="0.65" fill="#c24e4c"/>
<rect x="466.05" y="383.05" width="10.95" height="1.04" fill="#efb8a2"/>
<rect x="466.05" y="384.05" width="10.95" height="1.04" fill="#e7b09a"/>
<rect x="466.05" y="385.04" width="10.95" height="1.04" fill="#d16b5f"/>
<rect x="466.05" y="386.04" width="10.95" height="0.65" fill="#ca6458"/>
<rect x="466.05" y="386.63" width="10.95" height="1.04" fill="#87aad5"/>
<rect x="466.05" y="387.63" width="10.95" height="1.04" fill="#9ebbda"/>
<rect x="466.05" y="388.62" width="10.95" height="0.45" fill="#a0bcdc"/>
<rect x="466.05" y="389.02" width="10.95" height="1.04" fill="#e9b29c"/>
<rect x="466.05" y="390.02" width="10.95" height="1.04" fill="#eeb7a1"/>
<rect x="466.05" y="391.01" width="10.95" height="0.35" fill="#e6af99"/>
<rect x="466.05" y="391.31" width="10.95" height="1.04" fill="#9cbadb"/>
<rect x="466.05" y="392.31" width="10.95" height="0.85" fill="#ccdceb"/>
<rect x="466.05" y="393.10" width="10.95" height="1.04" fill="#eeb7a1"/>
<rect x="466.05" y="394.10" width="10.95" height="1.04" fill="#efcab9"/>
<rect x="466.05" y="395.09" width="10.95" height="0.35" fill="#ecb59f"/>
<rect x="466.05" y="395.39" width="10.95" height="1.04" fill="#dee8f1"/>
<rect x="466.05" y="396.39" width="10.95" height="0.75" fill="#e0eaf3"/>
<rect x="466.05" y="397.08" width="10.95" height="0.55" fill="#86a9d4"/>
<rect x="466.05" y="397.58" width="10.95" height="1.04" fill="#85a8d3"/>
<rect x="466.05" y="398.57" width="10.95" height="1.04" fill="#628ac4"/>
<rect x="466.05" y="399.57" width="10.95" height="0.35" fill="#6890c9"/>
<rect x="466.05" y="399.87" width="10.95" height="1.04" fill="#688fc6"/>
<rect x="466.05" y="400.86" width="10.95" height="1.04" fill="#4874ba"/>
<rect x="466.05" y="401.86" width="10.95" height="1.04" fill="#4a76bc"/>
<rect x="466.05" y="402.85" width="10.95" height="1.04" fill="#688fc6"/>
<rect x="466.05" y="403.85" width="10.95" height="1.04" fill="#4874ba"/>
<rect x="466.05" y="404.84" width="10.95" height="0.75" fill="#436fb5"/>
<rect x="466.05" y="405.54" width="10.95" height="1.04" fill="#b6cee4"/>
<rect x="466.05" y="406.54" width="10.95" height="0.85" fill="#b9d1e7"/>
<rect x="466.05" y="407.33" width="10.95" height="1.04" fill="#dce6ef"/>
<rect x="466.05" y="408.33" width="10.95" height="1.04" fill="#e1ebf4"/>
<rect x="466.05" y="409.32" width="10.95" height="0.25" fill="#e0eaf3"/>
<rect x="466.05" y="409.52" width="10.95" height="1.04" fill="#7499ce"/>
<rect x="466.05" y="410.51" width="10.95" height="1.04" fill="#afc9e4"/>
<rect x="466.05" y="411.51" width="10.95" height="0.45" fill="#aac4df"/>
<rect x="466.05" y="411.91" width="10.95" height="1.04" fill="#f6d8ca"/>
<rect x="466.05" y="412.90" width="10.95" height="0.65" fill="#f3d6c8"/>
<rect x="466.05" y="413.50" width="10.95" height="1.04" fill="#e7ebf0"/>
<rect x="466.05" y="414.50" width="10.95" height="1.04" fill="#f2e5de"/>
<rect x="466.05" y="415.49" width="10.95" height="0.55" fill="#e4e9ee"/>
<rect x="466.05" y="415.99" width="10.95" height="1.04" fill="#dee8f1"/>
<rect x="466.05" y="416.98" width="10.95" height="0.55" fill="#dee8f1"/>
<rect x="466.05" y="417.48" width="10.95" height="1.04" fill="#f1efef"/>
<rect x="466.05" y="418.48" width="10.95" height="1.04" fill="#f5f3f3"/>
<rect x="466.05" y="419.47" width="10.95" height="0.55" fill="#e7ecf1"/>
<rect x="466.05" y="419.97" width="10.95" height="1.04" fill="#a5c2e1"/>
<rect x="466.05" y="420.96" width="10.95" height="1.04" fill="#85a8d3"/>
<rect x="466.05" y="421.96" width="10.95" height="1.04" fill="#a3c0df"/>
<rect x="466.05" y="422.95" width="10.95" height="1.04" fill="#678fc8"/>
<rect x="466.05" y="423.95" width="10.95" height="0.55" fill="#89acd7"/>
<rect x="466.05" y="424.44" width="10.95" height="1.04" fill="#c35654"/>
<rect x="466.05" y="425.44" width="10.95" height="0.85" fill="#e09281"/>
<rect x="466.05" y="426.24" width="10.95" height="1.04" fill="#ecc5b4"/>
<rect x="466.05" y="427.23" width="10.95" height="0.85" fill="#df9587"/>
<rect x="466.05" y="428.03" width="10.95" height="1.04" fill="#eab39d"/>
<rect x="466.05" y="429.02" width="10.95" height="0.75" fill="#eec9b8"/>
<rect x="466.05" y="429.72" width="10.95" height="1.04" fill="#cc665a"/>
<rect x="466.05" y="430.71" width="10.95" height="1.04" fill="#bc4444"/>
<rect x="466.05" y="431.71" width="10.95" height="0.35" fill="#d98d7c"/>
<rect x="466.05" y="432.01" width="10.95" height="1.04" fill="#ebc2b1"/>
<rect x="466.05" y="433.00" width="10.95" height="0.75" fill="#f5eae5"/>
<rect x="466.05" y="433.70" width="10.95" height="1.04" fill="#c24a4a"/>
<rect x="466.05" y="434.69" width="10.95" height="1.04" fill="#b94141"/>
<rect x="466.05" y="435.69" width="10.95" height="0.35" fill="#ca6458"/>
<rect x="466.05" y="435.99" width="10.95" height="1.04" fill="#ebb49e"/>
<rect x="466.05" y="436.98" width="10.95" height="0.25" fill="#ebb49e"/>
<rect x="466.05" y="437.18" width="10.95" height="1.04" fill="#af2933"/>
<rect x="466.05" y="438.18" width="10.95" height="1.04" fill="#b32d37"/>
<rect x="466.05" y="439.17" width="10.95" height="1.04" fill="#b02a34"/>
<rect x="466.05" y="440.17" width="10.95" height="1.04" fill="#ae2832"/>
<rect x="466.05" y="441.16" width="10.95" height="1.04" fill="#b02a34"/>
<rect x="466.05" y="442.16" width="10.95" height="1.04" fill="#ad2731"/>
<rect x="466.05" y="443.15" width="10.95" height="0.25" fill="#b32d37"/>
<rect x="476.95" y="353.80" width="10.95" height="1.04" fill="#c6d8e8"/>
<rect x="476.95" y="354.80" width="10.95" height="1.04" fill="#e2ecf5"/>
<rect x="476.95" y="355.79" width="10.95" height="1.04" fill="#9cbadc"/>
<rect x="476.95" y="356.79" width="10.95" height="1.04" fill="#d0e0ef"/>
<rect x="476.95" y="357.78" width="10.95" height="0.35" fill="#9ab8da"/>
<rect x="476.95" y="358.08" width="10.95" height="1.04" fill="#e1ebf4"/>
<rect x="476.95" y="359.07" width="10.95" height="1.04" fill="#d9e3ec"/>
<rect x="476.95" y="360.07" width="10.95" height="0.35" fill="#dbe5ee"/>
<rect x="476.95" y="360.37" width="10.95" height="1.04" fill="#4571b7"/>
<rect x="476.95" y="361.36" width="10.95" height="1.04" fill="#436fb5"/>
<rect x="476.95" y="362.36" width="10.95" height="0.95" fill="#6d94cb"/>
<rect x="476.95" y="363.25" width="10.95" height="1.04" fill="#e4e9ed"/>
<rect x="476.95" y="364.25" width="10.95" height="1.04" fill="#edebeb"/>
<rect x="476.95" y="365.24" width="10.95" height="0.35" fill="#f2f0f0"/>
<rect x="476.95" y="365.54" width="10.95" height="1.04" fill="#8aadd8"/>
<rect x="476.95" y="366.54" width="10.95" height="1.04" fill="#6189c2"/>
<rect x="476.95" y="367.53" width="10.95" height="1.04" fill="#a5c1e1"/>
<rect x="476.95" y="368.53" width="10.95" height="0.45" fill="#a1bedd"/>
<rect x="476.95" y="368.92" width="10.95" height="1.04" fill="#648cc5"/>
<rect x="476.95" y="369.92" width="10.95" height="1.04" fill="#a5c2e1"/>
<rect x="476.95" y="370.91" width="10.95" height="0.35" fill="#82a5d0"/>
<rect x="476.95" y="371.21" width="10.95" height="1.04" fill="#f8ebe4"/>
<rect x="476.95" y="372.21" width="10.95" height="1.04" fill="#efeded"/>
<rect x="476.95" y="373.20" width="10.95" height="0.35" fill="#f0eeee"/>
<rect x="476.95" y="373.50" width="10.95" height="1.04" fill="#dee8f1"/>
<rect x="476.95" y="374.50" width="10.95" height="0.25" fill="#dee8f1"/>
<rect x="476.95" y="374.69" width="10.95" height="1.04" fill="#89acd7"/>
<rect x="476.95" y="375.69" width="10.95" height="1.04" fill="#6890ca"/>
<rect x="476.95" y="376.69" width="10.95" height="0.35" fill="#82a5d0"/>
<rect x="476.95" y="376.98" width="10.95" height="1.04" fill="#f1cab9"/>
<rect x="476.95" y="377.98" width="10.95" height="0.75" fill="#f6d8ca"/>
<rect x="476.95" y="378.68" width="10.95" height="1.04" fill="#ebb49e"/>
<rect x="476.95" y="379.67" width="10.95" height="0.45" fill="#ebb49e"/>
<rect x="476.95" y="380.07" width="10.95" height="1.04" fill="#ccdceb"/>
<rect x="476.95" y="381.06" width="10.95" height="0.95" fill="#9dbbdd"/>
<rect x="476.95" y="381.96" width="10.95" height="1.04" fill="#f5dfd3"/>
<rect x="476.95" y="382.95" width="10.95" height="0.35" fill="#f5dfd3"/>
<rect x="476.95" y="383.25" width="10.95" height="1.04" fill="#ccdeee"/>
<rect x="476.95" y="384.25" width="10.95" height="0.85" fill="#e1ebf4"/>
<rect x="476.95" y="385.04" width="10.95" height="1.04" fill="#a9c4df"/>
<rect x="476.95" y="386.04" width="10.95" height="1.04" fill="#9ebbdc"/>
<rect x="476.95" y="387.03" width="10.95" height="0.35" fill="#6e94c9"/>
<rect x="476.95" y="387.33" width="10.95" height="1.04" fill="#f1efef"/>
<rect x="476.95" y="388.33" width="10.95" height="0.75" fill="#f6f4f4"/>
<rect x="476.95" y="389.02" width="10.95" height="1.04" fill="#bbd3e9"/>
<rect x="476.95" y="390.02" width="10.95" height="0.65" fill="#b5cde3"/>
<rect x="476.95" y="390.62" width="10.95" height="1.04" fill="#e6af99"/>
<rect x="476.95" y="391.61" width="10.95" height="1.04" fill="#efb8a2"/>
<rect x="476.95" y="392.61" width="10.95" height="0.55" fill="#e7b09a"/>
<rect x="476.95" y="393.10" width="10.95" height="1.04" fill="#e6af99"/>
<rect x="476.95" y="394.10" width="10.95" height="1.04" fill="#e6af99"/>
<rect x="476.95" y="395.09" width="10.95" height="0.35" fill="#eeb7a1"/>
<rect x="476.95" y="395.39" width="10.95" height="1.04" fill="#f8e2d6"/>
<rect x="476.95" y="396.39" width="10.95" height="0.75" fill="#eec6b5"/>
<rect x="476.95" y="397.08" width="10.95" height="0.55" fill="#f2f0f0"/>
<rect x="476.95" y="397.58" width="10.95" height="1.04" fill="#f2f0f0"/>
<rect x="476.95" y="398.57" width="10.95" height="0.75" fill="#eeecec"/>
<rect x="476.95" y="399.27" width="10.95" height="1.04" fill="#ebc2b1"/>
<rect x="476.95" y="400.27" width="10.95" height="0.85" fill="#f1c8b7"/>
<rect x="476.95" y="401.06" width="10.95" height="1.04" fill="#f3ccbb"/>
<rect x="476.95" y="402.06" width="10.95" height="0.75" fill="#f3cdbc"/>
<rect x="476.95" y="402.75" width="10.95" height="1.04" fill="#f0e3dc"/>
<rect x="476.95" y="403.75" width="10.95" height="0.85" fill="#eee1db"/>
<rect x="476.95" y="404.55" width="10.95" height="1.04" fill="#f3ccbb"/>
<rect x="476.95" y="405.54" width="10.95" height="1.04" fill="#de9486"/>
<rect x="476.95" y="406.54" width="10.95" height="0.25" fill="#da9182"/>
<rect x="476.95" y="406.73" width="10.95" height="1.04" fill="#e6ebf0"/>
<rect x="476.95" y="407.73" width="10.95" height="1.04" fill="#edebeb"/>
<rect x="476.95" y="408.72" width="10.95" height="0.35" fill="#f7eae3"/>
<rect x="476.95" y="409.02" width="10.95" height="1.04" fill="#b02a34"/>
<rect x="476.95" y="410.02" width="10.95" height="0.55" fill="#b02a34"/>
<rect x="476.95" y="410.51" width="10.95" height="1.04" fill="#bc4444"/>
<rect x="476.95" y="411.51" width="10.95" height="1.04" fill="#cf695d"/>
<rect x="476.95" y="412.50" width="10.95" height="0.65" fill="#e09482"/>
<rect x="476.95" y="413.10" width="10.95" height="1.04" fill="#d88777"/>
<rect x="476.95" y="414.10" width="10.95" height="0.75" fill="#de8e7d"/>
<rect x="476.95" y="414.79" width="10.95" height="1.04" fill="#efeded"/>
<rect x="476.95" y="415.79" width="10.95" height="0.75" fill="#f1e4de"/>
<rect x="476.95" y="416.49" width="10.95" height="1.04" fill="#be4646"/>
<rect x="476.95" y="417.48" width="10.95" height="1.04" fill="#ca6458"/>
<rect x="476.95" y="418.48" width="10.95" height="1.04" fill="#ca6458"/>
<rect x="476.95" y="419.47" width="10.95" height="0.55" fill="#bb4343"/>
<rect x="476.95" y="419.97" width="10.95" height="1.04" fill="#eeb7a1"/>
<rect x="476.95" y="420.96" width="10.95" height="0.75" fill="#efb8a2"/>
<rect x="476.95" y="421.66" width="10.95" height="1.04" fill="#b42e38"/>
<rect x="476.95" y="422.65" width="10.95" height="1.04" fill="#c14c4a"/>
<rect x="476.95" y="423.65" width="10.95" height="0.85" fill="#c14d4b"/>
<rect x="476.95" y="424.44" width="10.95" height="1.04" fill="#eeb7a1"/>
<rect x="476.95" y="425.44" width="10.95" height="0.85" fill="#edc8b8"/>
<rect x="476.95" y="426.24" width="10.95" height="1.04" fill="#e09f8b"/>
<rect x="476.95" y="427.23" width="10.95" height="0.85" fill="#dc8e7d"/>
<rect x="476.95" y="428.03" width="10.95" height="1.04" fill="#f0cab9"/>
<rect x="476.95" y="429.02" width="10.95" height="0.75" fill="#f0cab9"/>
<rect x="476.95" y="429.72" width="10.95" height="1.04" fill="#e1a08c"/>
<rect x="476.95" y="430.71" width="10.95" height="0.75" fill="#e2a18d"/>
<rect x="476.95" y="431.41" width="10.95" height="1.04" fill="#e2e6eb"/>
<rect x="476.95" y="432.41" width="10.95" height="0.85" fill="#f1efef"/>
<rect x="476.95" y="433.20" width="10.95" height="1.04" fill="#f1cab9"/>
<rect x="476.95" y="434.20" width="10.95" height="0.75" fill="#f1cbba"/>
<rect x="476.95" y="434.89" width="10.95" height="1.04" fill="#edebeb"/>
<rect x="476.95" y="435.89" width="10.95" height="0.75" fill="#eeecec"/>
<rect x="476.95" y="436.58" width="10.95" height="1.04" fill="#f0cab9"/>
<rect x="476.95" y="437.58" width="10.95" height="0.85" fill="#f2ccbb"/>
<rect x="476.95" y="438.38" width="10.95" height="1.04" fill="#e6ebf0"/>
<rect x="476.95" y="439.37" width="10.95" height="0.75" fill="#f2f0f0"/>
<rect x="476.95" y="440.07" width="10.95" height="1.04" fill="#eec9b8"/>
<rect x="476.95" y="441.06" width="10.95" height="1.04" fill="#ecb59f"/>
<rect x="476.95" y="442.06" width="10.95" height="1.04" fill="#f3cebd"/>
<rect x="476.95" y="443.05" width="10.95" height="0.35" fill="#edb6a0"/>
<rect x="487.85" y="353.80" width="10.95" height="1.04" fill="#4b77bd"/>
<rect x="487.85" y="354.80" width="10.95" height="1.04" fill="#4672b8"/>
<rect x="487.85" y="355.79" width="10.95" height="1.04" fill="#6a91c8"/>
<rect x="487.85" y="356.79" width="10.95" height="1.04" fill="#688fc7"/>
<rect x="487.85" y="357.78" width="10.95" height="1.04" fill="#84a7d2"/>
<rect x="487.85" y="358.78" width="10.95" height="1.04" fill="#678fc9"/>
<rect x="487.85" y="359.77" width="10.95" height="1.04" fill="#8aadd8"/>
<rect x="487.85" y="360.76" width="10.95" height="0.75" fill="#89acd7"/>
<rect x="487.85" y="361.46" width="10.95" height="1.04" fill="#84a7d2"/>
<rect x="487.85" y="362.46" width="10.95" height="1.04" fill="#83a6d1"/>
<rect x="487.85" y="363.45" width="10.95" height="1.04" fill="#648cc6"/>
<rect x="487.85" y="364.45" width="10.95" height="1.04" fill="#8aadd8"/>
<rect x="487.85" y="365.44" width="10.95" height="0.15" fill="#82a5d0"/>
<rect x="487.85" y="365.54" width="10.95" height="1.04" fill="#cbdbea"/>
<rect x="487.85" y="366.54" width="10.95" height="0.75" fill="#b4cce2"/>
<rect x="487.85" y="367.23" width="10.95" height="1.04" fill="#82a5d0"/>
<rect x="487.85" y="368.23" width="10.95" height="0.75" fill="#6890ca"/>
<rect x="487.85" y="368.92" width="10.95" height="1.04" fill="#b3cbe1"/>
<rect x="487.85" y="369.92" width="10.95" height="0.85" fill="#bcd4ea"/>
<rect x="487.85" y="370.72" width="10.95" height="1.04" fill="#e9edf1"/>
<rect x="487.85" y="371.71" width="10.95" height="1.04" fill="#dfe6ed"/>
<rect x="487.85" y="372.71" width="10.95" height="0.35" fill="#e5e9ee"/>
<rect x="487.85" y="373.00" width="10.95" height="1.04" fill="#b9d1e7"/>
<rect x="487.85" y="374.00" width="10.95" height="1.04" fill="#9fbddf"/>
<rect x="487.85" y="374.99" width="10.95" height="1.04" fill="#dee8f1"/>
<rect x="487.85" y="375.99" width="10.95" height="0.45" fill="#dee8f1"/>
<rect x="487.85" y="376.39" width="10.95" height="1.04" fill="#cc665a"/>
<rect x="487.85" y="377.38" width="10.95" height="0.85" fill="#be4646"/>
<rect x="487.85" y="378.18" width="10.95" height="1.04" fill="#a0bee0"/>
<rect x="487.85" y="379.17" width="10.95" height="0.95" fill="#cadbe9"/>
<rect x="487.85" y="380.07" width="10.95" height="1.04" fill="#c6d7e8"/>
<rect x="487.85" y="381.06" width="10.95" height="0.65" fill="#cadbeb"/>
<rect x="487.85" y="381.66" width="10.95" height="1.04" fill="#ecb59f"/>
<rect x="487.85" y="382.66" width="10.95" height="0.65" fill="#e7b09a"/>
<rect x="487.85" y="383.25" width="10.95" height="1.04" fill="#f2f0f0"/>
<rect x="487.85" y="384.25" width="10.95" height="0.25" fill="#f2f0f0"/>
<rect x="487.85" y="384.45" width="10.95" height="1.04" fill="#b9d1e7"/>
<rect x="487.85" y="385.44" width="10.95" height="0.75" fill="#b6cee4"/>
<rect x="487.85" y="386.14" width="10.95" height="1.04" fill="#f6f4f4"/>
<rect x="487.85" y="387.13" width="10.95" height="0.85" fill="#f6f4f4"/>
<rect x="487.85" y="387.93" width="10.95" height="1.04" fill="#9dbbdd"/>
<rect x="487.85" y="388.92" width="10.95" height="0.75" fill="#b6cee4"/>
<rect x="487.85" y="389.62" width="10.95" height="1.04" fill="#dae4ed"/>
<rect x="487.85" y="390.62" width="10.95" height="0.75" fill="#e8ebef"/>
<rect x="487.85" y="391.31" width="10.95" height="1.04" fill="#f0c9b8"/>
<rect x="487.85" y="392.31" width="10.95" height="0.35" fill="#f0c9b8"/>
<rect x="487.85" y="392.61" width="10.95" height="1.04" fill="#cfdfee"/>
<rect x="487.85" y="393.60" width="10.95" height="0.65" fill="#97b5d7"/>
<rect x="487.85" y="394.20" width="10.95" height="1.04" fill="#f6f4f4"/>
<rect x="487.85" y="395.19" width="10.95" height="0.75" fill="#ebeff4"/>
<rect x="487.85" y="395.89" width="10.95" height="1.04" fill="#e4e7eb"/>
<rect x="487.85" y="396.88" width="10.95" height="0.75" fill="#cadcec"/>
<rect x="487.85" y="397.58" width="10.95" height="1.04" fill="#dee8f1"/>
<rect x="487.85" y="398.57" width="10.95" height="1.04" fill="#f1efef"/>
<rect x="487.85" y="399.57" width="10.95" height="1.04" fill="#f3f1f1"/>
<rect x="487.85" y="400.56" width="10.95" height="1.04" fill="#f5dfd3"/>
<rect x="487.85" y="401.56" width="10.95" height="1.04" fill="#86a9d4"/>
<rect x="487.85" y="402.56" width="10.95" height="0.85" fill="#658dc7"/>
<rect x="487.85" y="403.35" width="10.95" height="1.04" fill="#f0eeee"/>
<rect x="487.85" y="404.35" width="10.95" height="0.75" fill="#f1efef"/>
<rect x="487.85" y="405.04" width="10.95" height="1.04" fill="#bd4947"/>
<rect x="487.85" y="406.04" width="10.95" height="1.04" fill="#ad2731"/>
<rect x="487.85" y="407.03" width="10.95" height="1.04" fill="#ab252f"/>
<rect x="487.85" y="408.03" width="10.95" height="1.04" fill="#ae2832"/>
<rect x="487.85" y="409.02" width="10.95" height="0.55" fill="#ad2731"/>
<rect x="487.85" y="409.52" width="10.95" height="1.04" fill="#b02a34"/>
<rect x="487.85" y="410.51" width="10.95" height="1.04" fill="#c5514e"/>
<rect x="487.85" y="411.51" width="10.95" height="1.04" fill="#af2933"/>
<rect x="487.85" y="412.50" width="10.95" height="1.04" fill="#ac2630"/>
<rect x="487.85" y="413.50" width="10.95" height="1.04" fill="#c75a58"/>
<rect x="487.85" y="414.50" width="10.95" height="1.04" fill="#e4a38f"/>
<rect x="487.85" y="415.49" width="10.95" height="1.04" fill="#f4f2f2"/>
<rect x="487.85" y="416.49" width="10.95" height="0.65" fill="#f0eeee"/>
<rect x="487.85" y="417.08" width="10.95" height="1.04" fill="#eeb7a1"/>
<rect x="487.85" y="418.08" width="10.95" height="1.04" fill="#e8b19b"/>
<rect x="487.85" y="419.07" width="10.95" height="0.95" fill="#e7b09a"/>
<rect x="487.85" y="419.97" width="10.95" height="1.04" fill="#efc8b7"/>
<rect x="487.85" y="420.96" width="10.95" height="1.04" fill="#ebc4b3"/>
<rect x="487.85" y="421.96" width="10.95" height="0.35" fill="#e09789"/>
<rect x="487.85" y="422.26" width="10.95" height="1.04" fill="#d98a79"/>
<rect x="487.85" y="423.25" width="10.95" height="0.75" fill="#da8b7a"/>
<rect x="487.85" y="423.95" width="10.95" height="1.04" fill="#f4ded2"/>
<rect x="487.85" y="424.94" width="10.95" height="0.85" fill="#f9e3d7"/>
<rect x="487.85" y="425.74" width="10.95" height="1.04" fill="#d06a5e"/>
<rect x="487.85" y="426.73" width="10.95" height="1.04" fill="#dc907f"/>
<rect x="487.85" y="427.73" width="10.95" height="0.75" fill="#df9382"/>
<rect x="487.85" y="428.43" width="10.95" height="1.04" fill="#f6d8ca"/>
<rect x="487.85" y="429.42" width="10.95" height="1.04" fill="#ebc4b3"/>
<rect x="487.85" y="430.42" width="10.95" height="1.04" fill="#f2f0f0"/>
<rect x="487.85" y="431.41" width="10.95" height="0.65" fill="#f2f0f0"/>
<rect x="487.85" y="432.01" width="10.95" height="1.04" fill="#f2d5c7"/>
<rect x="487.85" y="433.00" width="10.95" height="0.75" fill="#f6d9ca"/>
<rect x="487.85" y="433.70" width="10.95" height="1.04" fill="#f2f0f0"/>
<rect x="487.85" y="434.69" width="10.95" height="1.04" fill="#f3f1f1"/>
<rect x="487.85" y="435.69" width="10.95" height="0.35" fill="#f4f2f2"/>
<rect x="487.85" y="435.99" width="10.95" height="1.04" fill="#eeecec"/>
<rect x="487.85" y="436.98" width="10.95" height="0.85" fill="#e4e9ee"/>
<rect x="487.85" y="437.78" width="10.95" height="1.04" fill="#f0c9b8"/>
<rect x="487.85" y="438.77" width="10.95" height="0.65" fill="#f0c9b8"/>
<rect x="487.85" y="439.37" width="10.95" height="1.04" fill="#efe2db"/>
<rect x="487.85" y="440.37" width="10.95" height="0.85" fill="#f0eeee"/>
<rect x="487.85" y="441.16" width="10.95" height="1.04" fill="#f2cebd"/>
<rect x="487.85" y="442.16" width="10.95" height="1.04" fill="#efcab9"/>
<rect x="487.85" y="443.15" width="10.95" height="0.25" fill="#f2cdbc"/>
</g>
<path d="M245.4 352.7 V346.2 H256.2 V352.7 M250.7 346.2 V345.1 H266.8 V352.7 M277.7 352.7 V345.1 H288.5 V352.7 M258.8 345.1 V341.6 H283 V345.1 M299.6 352.7 V345.8 H310.5 V352.7 M332.2 352.7 V346.9 H343.0 V352.7 M321.5 352.7 V343.9 H337.7 V346.9 M305 345.8 V341.6 H329.6 V343.9 M271.2 341.6 V332.6 H317.4 V341.6" fill="none" stroke="#111" stroke-width="1.05"/>
<path d="M416.9 352.4 V343.9 H428.0 V352.4 M406.1 352.4 V338.8 H422.5 V343.9 M438.8 352.4 V341.6 H449.7 V352.4 M414.4 338.8 V336.5 H444.2 V341.6 M460.5 352.4 V341.2 H471.4 V352.4 M431.9 336.5 V334.7 H466.1 V341.2 M482.5 352.4 V345.3 H493.3 V352.4 M448.5 334.7 V331.5 H487.8 V345.3" fill="none" stroke="#111" stroke-width="1.05"/>
<line x1="351.40" y1="353.60" x2="351.40" y2="444.00" stroke="#111" stroke-width="0.9" />
<line x1="501.40" y1="353.60" x2="501.40" y2="443.00" stroke="#111" stroke-width="0.9" />
<text x="361.70" y="398.80" font-size="8.3" text-anchor="middle" transform="rotate(-90 361.70 398.80)" textLength="74.50" lengthAdjust="spacingAndGlyphs" fill="#1a1a1a" stroke="#1a1a1a" stroke-width="0.14" >2,523 cassette exons</text>
<text x="511.80" y="398.90" font-size="8.3" text-anchor="middle" transform="rotate(-90 511.80 398.90)" textLength="72.30" lengthAdjust="spacingAndGlyphs" fill="#1a1a1a" stroke="#1a1a1a" stroke-width="0.14" >1,987 cassette exons</text>
<text x="249.40" y="451.60" font-size="8" text-anchor="end" transform="rotate(-45 249.40 451.60)" fill="#1a1a1a" stroke="#1a1a1a" stroke-width="0.14" >WT</text>
<text x="260.20" y="451.60" font-size="8" text-anchor="end" transform="rotate(-45 260.20 451.60)" fill="#1a1a1a" stroke="#1a1a1a" stroke-width="0.14" >P107H</text>
<text x="270.80" y="451.60" font-size="8" text-anchor="end" transform="rotate(-45 270.80 451.60)" fill="#1a1a1a" stroke="#1a1a1a" stroke-width="0.14" >H99L</text>
<text x="281.70" y="451.60" font-size="8" text-anchor="end" transform="rotate(-45 281.70 451.60)" fill="#1a1a1a" stroke="#1a1a1a" stroke-width="0.14" >S54F</text>
<text x="292.50" y="451.60" font-size="8" text-anchor="end" transform="rotate(-45 292.50 451.60)" fill="#1a1a1a" stroke="#1a1a1a" stroke-width="0.14" >S54A</text>
<text x="303.60" y="451.60" font-size="8" text-anchor="end" transform="rotate(-45 303.60 451.60)" fill="#1a1a1a" stroke="#1a1a1a" stroke-width="0.14" >R94_P95insR</text>
<text x="314.50" y="451.60" font-size="8" text-anchor="end" font-weight="bold" transform="rotate(-45 314.50 451.60)" fill="#1a1a1a" stroke="#1a1a1a" stroke-width="0.25" >P95H</text>
<text x="325.50" y="451.60" font-size="8" text-anchor="end" transform="rotate(-45 325.50 451.60)" fill="#1a1a1a" stroke="#1a1a1a" stroke-width="0.14" >R86_G93dup</text>
<text x="336.20" y="451.60" font-size="8" text-anchor="end" transform="rotate(-45 336.20 451.60)" fill="#1a1a1a" stroke="#1a1a1a" stroke-width="0.14" >P95_R102del</text>
<text x="347.00" y="451.60" font-size="8" text-anchor="end" transform="rotate(-45 347.00 451.60)" fill="#1a1a1a" stroke="#1a1a1a" stroke-width="0.14" >P95_R102del + P107H</text>
<text x="410.10" y="451.60" font-size="8" text-anchor="end" transform="rotate(-45 410.10 451.60)" fill="#1a1a1a" stroke="#1a1a1a" stroke-width="0.14" >WT</text>
<text x="420.90" y="451.60" font-size="8" text-anchor="end" transform="rotate(-45 420.90 451.60)" fill="#1a1a1a" stroke="#1a1a1a" stroke-width="0.14" >E159_M160insYE</text>
<text x="432.00" y="451.60" font-size="8" text-anchor="end" transform="rotate(-45 432.00 451.60)" fill="#1a1a1a" stroke="#1a1a1a" stroke-width="0.14" >R156Q</text>
<text x="442.80" y="451.60" font-size="8" text-anchor="end" transform="rotate(-45 442.80 451.60)" fill="#1a1a1a" stroke="#1a1a1a" stroke-width="0.14" >R156H</text>
<text x="453.70" y="451.60" font-size="8" text-anchor="end" font-weight="bold" transform="rotate(-45 453.70 451.60)" fill="#1a1a1a" stroke="#1a1a1a" stroke-width="0.25" >Q157R</text>
<text x="464.50" y="451.60" font-size="8" text-anchor="end" font-weight="bold" transform="rotate(-45 464.50 451.60)" fill="#1a1a1a" stroke="#1a1a1a" stroke-width="0.25" >S34F</text>
<text x="475.40" y="451.60" font-size="8" text-anchor="end" transform="rotate(-45 475.40 451.60)" fill="#1a1a1a" stroke="#1a1a1a" stroke-width="0.14" >S34F + Q157R</text>
<text x="486.50" y="451.60" font-size="8" text-anchor="end" transform="rotate(-45 486.50 451.60)" fill="#1a1a1a" stroke="#1a1a1a" stroke-width="0.14" >I24V</text>
<text x="497.30" y="451.60" font-size="8" text-anchor="end" transform="rotate(-45 497.30 451.60)" fill="#1a1a1a" stroke="#1a1a1a" stroke-width="0.14" >I24T</text>
<line x1="243.10" y1="512.40" x2="340.60" y2="512.40" stroke="#222" stroke-width="1.05" />
<line x1="398.50" y1="512.40" x2="494.00" y2="512.40" stroke="#222" stroke-width="1.05" />
<text x="292.00" y="523.50" font-size="7.6" text-anchor="middle" font-style="italic" textLength="22.00" lengthAdjust="spacingAndGlyphs" fill="#1a1a1a" stroke="#1a1a1a" stroke-width="0.14" >SRSF2</text>
<text x="446.70" y="523.50" font-size="7.6" text-anchor="middle" font-style="italic" textLength="23.00" lengthAdjust="spacingAndGlyphs" fill="#1a1a1a" stroke="#1a1a1a" stroke-width="0.14" >U2AF1</text>
<rect x="299.00" y="533.40" width="39.80" height="9.00" fill="url(#cb)" stroke="#222" stroke-width="0.6" />
<text x="298.80" y="552.40" font-size="6.6" text-anchor="middle" fill="#1a1a1a" stroke="#1a1a1a" stroke-width="0.14" >−4</text>
<text x="308.20" y="552.40" font-size="6.6" text-anchor="middle" fill="#1a1a1a" stroke="#1a1a1a" stroke-width="0.14" >−2</text>
<text x="319.40" y="552.40" font-size="6.6" text-anchor="middle" fill="#1a1a1a" stroke="#1a1a1a" stroke-width="0.14" >0</text>
<text x="329.00" y="552.40" font-size="6.6" text-anchor="middle" fill="#1a1a1a" stroke="#1a1a1a" stroke-width="0.14" >2</text>
<text x="338.00" y="552.40" font-size="6.6" text-anchor="middle" fill="#1a1a1a" stroke="#1a1a1a" stroke-width="0.14" >4</text>
<line x1="309.00" y1="540.40" x2="309.00" y2="542.40" stroke="#222" stroke-width="0.5" />
<line x1="319.00" y1="540.40" x2="319.00" y2="542.40" stroke="#222" stroke-width="0.5" />
<line x1="329.00" y1="540.40" x2="329.00" y2="542.40" stroke="#222" stroke-width="0.5" />
<text x="342.30" y="540.20" font-size="7.8" textLength="96.20" lengthAdjust="spacingAndGlyphs" fill="#1a1a1a" stroke="#1a1a1a" stroke-width="0.14" >exon inclusion (normalized)</text>
<path d="M0.5 0.5 H519.5 V594.5 H0.5 Z" fill="none" stroke="#000" stroke-width="1"/>
</svg></body></html>
